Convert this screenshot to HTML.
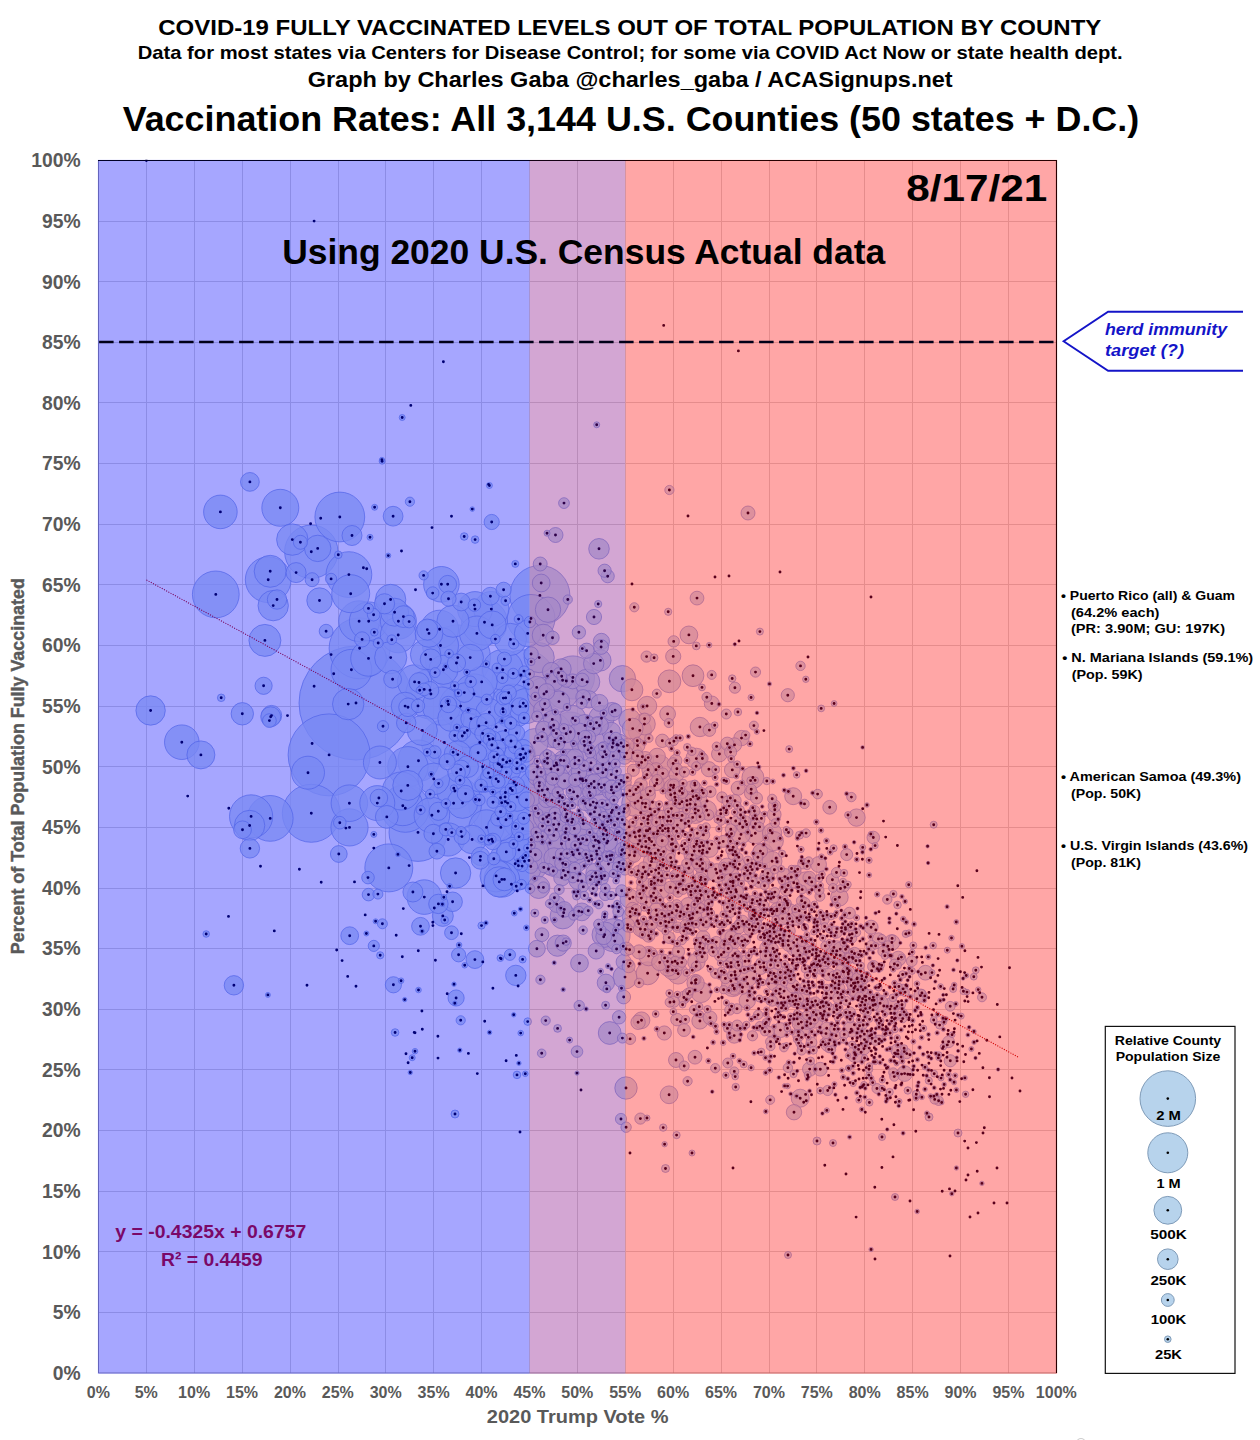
<!DOCTYPE html><html><head><meta charset="utf-8"><title>Vaccination Rates by County</title>
<style>html,body{margin:0;padding:0;background:#fff}svg{display:block}text{font-family:"Liberation Sans",sans-serif;font-weight:bold}</style></head><body>
<svg width="1260" height="1440" viewBox="0 0 1260 1440">
<rect width="1260" height="1440" fill="#fff"/>
<text x="158.3" y="34.6" font-size="22.4" text-anchor="start" fill="#000" textLength="943" lengthAdjust="spacingAndGlyphs" >COVID-19 FULLY VACCINATED LEVELS OUT OF TOTAL POPULATION BY COUNTY</text>
<text x="137.7" y="59" font-size="18.6" text-anchor="start" fill="#000" textLength="985" lengthAdjust="spacingAndGlyphs" >Data for most states via Centers for Disease Control; for some via COVID Act Now or state health dept.</text>
<text x="307.7" y="87.3" font-size="21.5" text-anchor="start" fill="#000" textLength="645" lengthAdjust="spacingAndGlyphs" >Graph by Charles Gaba @charles_gaba / ACASignups.net</text>
<text x="122.7" y="131" font-size="34.9" text-anchor="start" fill="#000" textLength="1016.5" lengthAdjust="spacingAndGlyphs" >Vaccination Rates: All 3,144 U.S. Counties (50 states + D.C.)</text>
<clipPath id="cp"><rect x="97.8" y="159.8" width="959.4" height="1213.9"/></clipPath>
<g clip-path="url(#cp)">
<path d="M146.5 160.5V1373.0M98.5 1312.5H1056.5M194.5 160.5V1373.0M98.5 1251.5H1056.5M242.5 160.5V1373.0M98.5 1191.5H1056.5M290.5 160.5V1373.0M98.5 1130.5H1056.5M338.5 160.5V1373.0M98.5 1069.5H1056.5M385.5 160.5V1373.0M98.5 1009.5H1056.5M433.5 160.5V1373.0M98.5 948.5H1056.5M481.5 160.5V1373.0M98.5 888.5H1056.5M529.5 160.5V1373.0M98.5 827.5H1056.5M577.5 160.5V1373.0M98.5 766.5H1056.5M625.5 160.5V1373.0M98.5 706.5H1056.5M673.5 160.5V1373.0M98.5 645.5H1056.5M721.5 160.5V1373.0M98.5 584.5H1056.5M769.5 160.5V1373.0M98.5 524.5H1056.5M816.5 160.5V1373.0M98.5 463.5H1056.5M864.5 160.5V1373.0M98.5 402.5H1056.5M912.5 160.5V1373.0M98.5 342.5H1056.5M960.5 160.5V1373.0M98.5 281.5H1056.5M1008.5 160.5V1373.0M98.5 221.5H1056.5" stroke="#d8d8d8" stroke-width="1" fill="none"/>
<path d="M98.5 160.5V1373.0H1056.5" stroke="#9a9a9a" stroke-width="1" fill="none"/>
<path d="M98.0 160.5H1056.5V1373.0" stroke="#000" stroke-width="1.1" fill="none"/>
<g fill="#bad1ee" fill-opacity="0.75" stroke="#7896da" stroke-opacity="0.8" stroke-width="0.85">
<circle cx="356.0" cy="703.0" r="57.0"/>
<circle cx="329.1" cy="754.9" r="41.0"/>
<circle cx="507.6" cy="803.1" r="39.1"/>
<circle cx="561.5" cy="843.8" r="34.0"/>
<circle cx="457.8" cy="657.6" r="32.7"/>
<circle cx="523.9" cy="681.9" r="32.1"/>
<circle cx="359.6" cy="648.3" r="30.5"/>
<circle cx="539.9" cy="595.4" r="30.0"/>
<circle cx="311.3" cy="813.3" r="29.0"/>
<circle cx="418.0" cy="832.4" r="29.0"/>
<circle cx="529.6" cy="815.2" r="28.0"/>
<circle cx="453.6" cy="803.2" r="28.0"/>
<circle cx="522.9" cy="857.7" r="27.1"/>
<circle cx="311.3" cy="551.7" r="26.7"/>
<circle cx="515.2" cy="863.8" r="26.6"/>
<circle cx="568.9" cy="839.5" r="26.1"/>
<circle cx="482.7" cy="766.8" r="25.5"/>
<circle cx="430.9" cy="694.0" r="25.1"/>
<circle cx="339.8" cy="517.0" r="24.9"/>
<circle cx="388.8" cy="867.9" r="24.0"/>
<circle cx="405.3" cy="808.3" r="24.0"/>
<circle cx="531.0" cy="618.5" r="24.0"/>
<circle cx="215.8" cy="594.4" r="23.4"/>
<circle cx="348.9" cy="574.6" r="22.9"/>
<circle cx="268.2" cy="579.7" r="22.9"/>
<circle cx="270.2" cy="818.4" r="22.9"/>
<circle cx="484.5" cy="622.3" r="22.9"/>
<circle cx="444.3" cy="742.5" r="22.7"/>
<circle cx="512.4" cy="706.1" r="22.0"/>
<circle cx="538.2" cy="791.0" r="21.7"/>
<circle cx="251.1" cy="816.4" r="21.6"/>
<circle cx="572.9" cy="677.5" r="21.6"/>
<circle cx="460.6" cy="706.1" r="21.5"/>
<circle cx="418.5" cy="760.7" r="20.7"/>
<circle cx="351.4" cy="669.8" r="20.4"/>
<circle cx="359.1" cy="621.2" r="20.4"/>
<circle cx="502.8" cy="669.8" r="20.3"/>
<circle cx="407.9" cy="766.8" r="20.2"/>
<circle cx="474.0" cy="694.0" r="20.1"/>
<circle cx="570.4" cy="732.0" r="20.0"/>
<circle cx="402.8" cy="805.7" r="20.0"/>
<circle cx="501.8" cy="766.8" r="19.6"/>
<circle cx="368.7" cy="621.2" r="19.3"/>
<circle cx="441.5" cy="706.1" r="19.1"/>
<circle cx="401.2" cy="791.0" r="19.0"/>
<circle cx="350.7" cy="593.7" r="19.0"/>
<circle cx="439.6" cy="629.2" r="19.0"/>
<circle cx="349.5" cy="827.4" r="18.6"/>
<circle cx="590.0" cy="742.5" r="18.5"/>
<circle cx="280.3" cy="507.8" r="18.5"/>
<circle cx="479.8" cy="742.5" r="18.4"/>
<circle cx="349.4" cy="803.2" r="18.3"/>
<circle cx="454.9" cy="791.0" r="18.0"/>
<circle cx="440.5" cy="645.5" r="18.0"/>
<circle cx="398.4" cy="621.2" r="18.0"/>
<circle cx="530.6" cy="851.6" r="18.0"/>
<circle cx="578.5" cy="839.5" r="18.0"/>
<circle cx="431.9" cy="815.2" r="17.8"/>
<circle cx="398.2" cy="635.0" r="17.8"/>
<circle cx="368.5" cy="658.4" r="17.8"/>
<circle cx="501.8" cy="879.4" r="17.8"/>
<circle cx="441.4" cy="584.3" r="17.8"/>
<circle cx="567.9" cy="766.8" r="17.6"/>
<circle cx="491.3" cy="609.1" r="17.6"/>
<circle cx="486.5" cy="827.4" r="17.6"/>
<circle cx="525.8" cy="706.1" r="17.5"/>
<circle cx="475.0" cy="609.1" r="17.5"/>
<circle cx="377.3" cy="803.1" r="17.5"/>
<circle cx="476.9" cy="633.4" r="17.4"/>
<circle cx="181.8" cy="742.2" r="17.3"/>
<circle cx="424.3" cy="897.1" r="17.3"/>
<circle cx="553.5" cy="730.4" r="17.3"/>
<circle cx="414.6" cy="681.9" r="17.1"/>
<circle cx="467.3" cy="730.4" r="17.1"/>
<circle cx="220.4" cy="511.9" r="16.8"/>
<circle cx="448.2" cy="839.5" r="16.6"/>
<circle cx="544.0" cy="694.0" r="16.6"/>
<circle cx="308.0" cy="772.7" r="16.5"/>
<circle cx="379.9" cy="762.5" r="16.5"/>
<circle cx="613.6" cy="935.2" r="16.5"/>
<circle cx="496.1" cy="875.9" r="16.1"/>
<circle cx="510.4" cy="639.4" r="16.1"/>
<circle cx="453.0" cy="621.2" r="16.1"/>
<circle cx="390.7" cy="657.6" r="16.1"/>
<circle cx="270.2" cy="571.3" r="16.0"/>
<circle cx="264.9" cy="640.4" r="16.0"/>
<circle cx="433.8" cy="778.9" r="15.9"/>
<circle cx="548.8" cy="815.2" r="15.9"/>
<circle cx="292.3" cy="539.6" r="15.7"/>
<circle cx="348.2" cy="704.1" r="15.7"/>
<circle cx="520.0" cy="754.6" r="15.6"/>
<circle cx="481.7" cy="681.9" r="15.6"/>
<circle cx="462.5" cy="803.1" r="15.3"/>
<circle cx="273.2" cy="605.6" r="15.2"/>
<circle cx="390.6" cy="599.5" r="15.2"/>
<circle cx="455.6" cy="873.0" r="15.2"/>
<circle cx="425.6" cy="654.6" r="15.2"/>
<circle cx="249.6" cy="825.5" r="15.2"/>
<circle cx="499.3" cy="881.9" r="15.2"/>
<circle cx="505.6" cy="730.4" r="15.1"/>
<circle cx="422.3" cy="730.4" r="15.1"/>
<circle cx="539.2" cy="657.6" r="15.1"/>
<circle cx="582.3" cy="778.9" r="15.1"/>
<circle cx="407.8" cy="785.4" r="15.0"/>
<circle cx="580.5" cy="843.8" r="15.0"/>
<circle cx="563.1" cy="694.0" r="14.8"/>
<circle cx="150.6" cy="710.5" r="14.7"/>
<circle cx="443.4" cy="669.8" r="14.6"/>
<circle cx="496.1" cy="778.9" r="14.5"/>
<circle cx="472.1" cy="839.5" r="14.3"/>
<circle cx="517.1" cy="797.1" r="14.2"/>
<circle cx="394.6" cy="612.2" r="14.0"/>
<circle cx="200.9" cy="754.9" r="14.0"/>
<circle cx="492.2" cy="624.9" r="14.0"/>
<circle cx="534.4" cy="742.5" r="13.9"/>
<circle cx="429.0" cy="633.4" r="13.9"/>
<circle cx="405.1" cy="706.1" r="13.9"/>
<circle cx="596.7" cy="803.1" r="13.9"/>
<circle cx="457.8" cy="754.6" r="13.7"/>
<circle cx="489.4" cy="712.2" r="13.6"/>
<circle cx="500.9" cy="827.4" r="13.5"/>
<circle cx="527.7" cy="633.4" r="13.3"/>
<circle cx="470.2" cy="657.6" r="13.3"/>
<circle cx="606.2" cy="754.6" r="13.3"/>
<circle cx="635.0" cy="803.1" r="13.3"/>
<circle cx="451.0" cy="718.2" r="13.2"/>
<circle cx="317.7" cy="548.4" r="13.2"/>
<circle cx="622.4" cy="678.7" r="13.2"/>
<circle cx="556.4" cy="778.9" r="13.1"/>
<circle cx="572.7" cy="718.2" r="13.0"/>
<circle cx="615.8" cy="839.5" r="13.0"/>
<circle cx="587.1" cy="681.9" r="12.7"/>
<circle cx="601.5" cy="718.2" r="12.7"/>
<circle cx="649.4" cy="839.5" r="12.7"/>
<circle cx="319.5" cy="600.5" r="12.7"/>
<circle cx="548.0" cy="609.7" r="12.7"/>
<circle cx="562.8" cy="916.2" r="12.7"/>
<circle cx="604.7" cy="934.7" r="12.7"/>
<circle cx="608.5" cy="864.1" r="12.7"/>
<circle cx="658.9" cy="766.8" r="12.1"/>
<circle cx="663.7" cy="851.6" r="12.1"/>
<circle cx="625.0" cy="977.1" r="12.0"/>
<circle cx="639.8" cy="730.4" r="11.7"/>
<circle cx="647.6" cy="973.3" r="11.5"/>
<circle cx="669.4" cy="681.3" r="11.4"/>
<circle cx="386.8" cy="816.9" r="11.4"/>
<circle cx="504.4" cy="879.4" r="11.4"/>
<circle cx="609.7" cy="1033.0" r="11.4"/>
<circle cx="673.3" cy="815.2" r="11.4"/>
<circle cx="522.6" cy="828.7" r="11.3"/>
<circle cx="618.2" cy="745.1" r="11.2"/>
<circle cx="626.0" cy="1088.0" r="11.2"/>
<circle cx="538.7" cy="887.3" r="11.2"/>
<circle cx="242.3" cy="713.8" r="11.2"/>
<circle cx="536.7" cy="687.4" r="11.1"/>
<circle cx="682.9" cy="875.9" r="11.1"/>
<circle cx="732.7" cy="985.5" r="11.1"/>
<circle cx="543.2" cy="635.2" r="11.0"/>
<circle cx="631.9" cy="689.8" r="11.0"/>
<circle cx="752.9" cy="777.5" r="11.0"/>
<circle cx="585.0" cy="725.5" r="11.0"/>
<circle cx="783.8" cy="997.9" r="11.0"/>
<circle cx="467.6" cy="766.6" r="10.9"/>
<circle cx="554.3" cy="765.9" r="10.9"/>
<circle cx="796.9" cy="946.2" r="10.9"/>
<circle cx="644.4" cy="724.1" r="10.9"/>
<circle cx="693.0" cy="675.7" r="10.9"/>
<circle cx="403.4" cy="616.6" r="10.9"/>
<circle cx="665.5" cy="921.5" r="10.9"/>
<circle cx="598.8" cy="784.2" r="10.8"/>
<circle cx="629.6" cy="719.8" r="10.8"/>
<circle cx="600.4" cy="660.4" r="10.7"/>
<circle cx="559.0" cy="701.6" r="10.7"/>
<circle cx="836.3" cy="954.8" r="10.7"/>
<circle cx="427.3" cy="629.6" r="10.6"/>
<circle cx="578.5" cy="733.5" r="10.6"/>
<circle cx="788.8" cy="914.2" r="10.6"/>
<circle cx="557.5" cy="945.7" r="10.6"/>
<circle cx="762.9" cy="853.8" r="10.6"/>
<circle cx="430.7" cy="659.4" r="10.5"/>
<circle cx="755.3" cy="833.3" r="10.5"/>
<circle cx="442.8" cy="915.9" r="10.5"/>
<circle cx="695.3" cy="813.1" r="10.4"/>
<circle cx="632.7" cy="728.6" r="10.4"/>
<circle cx="696.3" cy="758.6" r="10.4"/>
<circle cx="692.5" cy="791.0" r="10.3"/>
<circle cx="599.0" cy="548.8" r="10.3"/>
<circle cx="678.1" cy="973.8" r="10.3"/>
<circle cx="746.8" cy="977.1" r="10.3"/>
<circle cx="857.7" cy="989.8" r="10.2"/>
<circle cx="836.8" cy="950.9" r="10.2"/>
<circle cx="271.5" cy="715.6" r="10.2"/>
<circle cx="515.8" cy="975.4" r="10.2"/>
<circle cx="701.2" cy="992.4" r="10.2"/>
<circle cx="471.0" cy="718.7" r="10.2"/>
<circle cx="593.7" cy="663.6" r="10.2"/>
<circle cx="384.5" cy="603.8" r="10.1"/>
<circle cx="701.2" cy="895.2" r="10.1"/>
<circle cx="561.1" cy="668.9" r="10.1"/>
<circle cx="352.0" cy="535.5" r="10.0"/>
<circle cx="296.1" cy="572.6" r="10.0"/>
<circle cx="270.7" cy="716.8" r="10.0"/>
<circle cx="412.9" cy="892.0" r="10.0"/>
<circle cx="553.9" cy="857.8" r="10.0"/>
<circle cx="611.4" cy="812.5" r="9.9"/>
<circle cx="772.1" cy="861.3" r="9.9"/>
<circle cx="419.0" cy="682.5" r="9.9"/>
<circle cx="393.1" cy="516.2" r="9.9"/>
<circle cx="595.6" cy="873.0" r="9.8"/>
<circle cx="706.7" cy="810.3" r="9.8"/>
<circle cx="611.4" cy="789.9" r="9.8"/>
<circle cx="706.2" cy="870.9" r="9.8"/>
<circle cx="464.3" cy="692.6" r="9.8"/>
<circle cx="697.1" cy="912.3" r="9.8"/>
<circle cx="729.7" cy="939.3" r="9.8"/>
<circle cx="452.6" cy="901.8" r="9.8"/>
<circle cx="641.8" cy="846.6" r="9.8"/>
<circle cx="647.1" cy="706.0" r="9.7"/>
<circle cx="772.1" cy="833.0" r="9.7"/>
<circle cx="800.1" cy="998.9" r="9.7"/>
<circle cx="670.7" cy="785.2" r="9.7"/>
<circle cx="646.4" cy="888.0" r="9.7"/>
<circle cx="645.0" cy="929.5" r="9.7"/>
<circle cx="277.0" cy="599.5" r="9.7"/>
<circle cx="699.9" cy="727.0" r="9.7"/>
<circle cx="249.9" cy="848.4" r="9.7"/>
<circle cx="233.9" cy="985.3" r="9.7"/>
<circle cx="648.6" cy="956.1" r="9.7"/>
<circle cx="406.2" cy="722.9" r="9.7"/>
<circle cx="692.4" cy="918.1" r="9.7"/>
<circle cx="438.4" cy="903.9" r="9.7"/>
<circle cx="478.9" cy="726.0" r="9.7"/>
<circle cx="607.8" cy="841.3" r="9.7"/>
<circle cx="490.1" cy="777.4" r="9.6"/>
<circle cx="586.0" cy="780.5" r="9.6"/>
<circle cx="629.7" cy="898.7" r="9.6"/>
<circle cx="522.9" cy="748.9" r="9.6"/>
<circle cx="506.3" cy="851.9" r="9.6"/>
<circle cx="773.8" cy="841.1" r="9.6"/>
<circle cx="741.0" cy="834.4" r="9.6"/>
<circle cx="672.5" cy="970.2" r="9.5"/>
<circle cx="619.0" cy="751.2" r="9.5"/>
<circle cx="649.7" cy="828.7" r="9.5"/>
<circle cx="638.2" cy="844.1" r="9.5"/>
<circle cx="433.4" cy="833.8" r="9.5"/>
<circle cx="460.8" cy="769.5" r="9.4"/>
<circle cx="486.1" cy="722.8" r="9.4"/>
<circle cx="249.9" cy="481.9" r="9.4"/>
<circle cx="668.2" cy="966.8" r="9.4"/>
<circle cx="673.3" cy="787.6" r="9.4"/>
<circle cx="716.8" cy="873.0" r="9.4"/>
<circle cx="805.5" cy="881.1" r="9.3"/>
<circle cx="633.1" cy="752.7" r="9.3"/>
<circle cx="611.2" cy="731.6" r="9.3"/>
<circle cx="612.1" cy="711.7" r="9.3"/>
<circle cx="408.0" cy="707.3" r="9.3"/>
<circle cx="629.5" cy="855.1" r="9.2"/>
<circle cx="556.9" cy="764.8" r="9.2"/>
<circle cx="686.8" cy="800.6" r="9.2"/>
<circle cx="480.5" cy="856.4" r="9.2"/>
<circle cx="645.9" cy="846.9" r="9.1"/>
<circle cx="438.3" cy="811.3" r="9.1"/>
<circle cx="577.5" cy="796.2" r="9.1"/>
<circle cx="542.7" cy="709.6" r="9.1"/>
<circle cx="456.5" cy="663.0" r="9.1"/>
<circle cx="591.2" cy="783.8" r="9.1"/>
<circle cx="551.4" cy="671.4" r="9.0"/>
<circle cx="566.2" cy="733.7" r="9.0"/>
<circle cx="578.0" cy="880.6" r="9.0"/>
<circle cx="650.2" cy="808.9" r="9.0"/>
<circle cx="599.4" cy="725.5" r="9.0"/>
<circle cx="800.2" cy="1098.2" r="9.0"/>
<circle cx="697.9" cy="798.8" r="8.9"/>
<circle cx="681.2" cy="820.4" r="8.9"/>
<circle cx="688.9" cy="634.9" r="8.9"/>
<circle cx="537.0" cy="776.9" r="8.9"/>
<circle cx="554.5" cy="681.4" r="8.9"/>
<circle cx="392.6" cy="679.2" r="8.9"/>
<circle cx="541.2" cy="583.0" r="8.9"/>
<circle cx="447.7" cy="584.3" r="8.9"/>
<circle cx="490.4" cy="596.2" r="8.9"/>
<circle cx="461.2" cy="602.0" r="8.9"/>
<circle cx="242.5" cy="829.8" r="8.9"/>
<circle cx="349.7" cy="935.7" r="8.9"/>
<circle cx="480.2" cy="860.3" r="8.9"/>
<circle cx="420.5" cy="926.3" r="8.9"/>
<circle cx="474.9" cy="959.6" r="8.9"/>
<circle cx="581.8" cy="911.9" r="8.9"/>
<circle cx="579.5" cy="963.2" r="8.9"/>
<circle cx="552.3" cy="719.4" r="8.9"/>
<circle cx="669.1" cy="1094.8" r="8.9"/>
<circle cx="502.8" cy="739.7" r="8.9"/>
<circle cx="563.4" cy="870.4" r="8.8"/>
<circle cx="456.6" cy="772.8" r="8.8"/>
<circle cx="839.4" cy="897.3" r="8.8"/>
<circle cx="775.0" cy="982.0" r="8.8"/>
<circle cx="430.0" cy="690.3" r="8.8"/>
<circle cx="378.9" cy="798.0" r="8.8"/>
<circle cx="520.0" cy="706.6" r="8.8"/>
<circle cx="605.9" cy="982.8" r="8.7"/>
<circle cx="695.6" cy="983.1" r="8.7"/>
<circle cx="856.5" cy="817.6" r="8.7"/>
<circle cx="525.6" cy="753.6" r="8.7"/>
<circle cx="709.5" cy="848.7" r="8.7"/>
<circle cx="696.4" cy="961.9" r="8.7"/>
<circle cx="478.1" cy="752.8" r="8.7"/>
<circle cx="589.1" cy="699.4" r="8.6"/>
<circle cx="574.9" cy="757.5" r="8.6"/>
<circle cx="263.6" cy="685.8" r="8.6"/>
<circle cx="599.5" cy="702.9" r="8.5"/>
<circle cx="614.8" cy="941.1" r="8.5"/>
<circle cx="645.2" cy="760.0" r="8.5"/>
<circle cx="502.9" cy="708.8" r="8.5"/>
<circle cx="617.0" cy="744.8" r="8.5"/>
<circle cx="649.0" cy="848.2" r="8.5"/>
<circle cx="793.2" cy="796.2" r="8.5"/>
<circle cx="661.0" cy="890.4" r="8.4"/>
<circle cx="465.6" cy="793.7" r="8.4"/>
<circle cx="730.5" cy="875.0" r="8.4"/>
<circle cx="855.0" cy="983.0" r="8.4"/>
<circle cx="338.8" cy="854.0" r="8.4"/>
<circle cx="536.9" cy="948.7" r="8.4"/>
<circle cx="641.5" cy="1020.3" r="8.4"/>
<circle cx="891.1" cy="1006.3" r="8.4"/>
<circle cx="613.5" cy="792.9" r="8.4"/>
<circle cx="498.0" cy="763.7" r="8.4"/>
<circle cx="533.8" cy="772.1" r="8.4"/>
<circle cx="567.5" cy="820.8" r="8.3"/>
<circle cx="657.1" cy="756.5" r="8.3"/>
<circle cx="556.7" cy="904.2" r="8.3"/>
<circle cx="516.2" cy="785.1" r="8.3"/>
<circle cx="599.8" cy="827.9" r="8.3"/>
<circle cx="492.7" cy="841.5" r="8.3"/>
<circle cx="880.1" cy="1003.3" r="8.3"/>
<circle cx="641.2" cy="797.8" r="8.3"/>
<circle cx="802.5" cy="1028.0" r="8.3"/>
<circle cx="651.5" cy="861.5" r="8.2"/>
<circle cx="726.9" cy="866.3" r="8.2"/>
<circle cx="638.0" cy="801.1" r="8.2"/>
<circle cx="828.7" cy="1043.6" r="8.2"/>
<circle cx="820.3" cy="966.0" r="8.2"/>
<circle cx="855.2" cy="1054.3" r="8.2"/>
<circle cx="448.4" cy="704.5" r="8.2"/>
<circle cx="747.3" cy="1000.6" r="8.2"/>
<circle cx="756.8" cy="819.0" r="8.2"/>
<circle cx="692.2" cy="855.1" r="8.2"/>
<circle cx="562.8" cy="863.2" r="8.1"/>
<circle cx="543.6" cy="729.2" r="8.1"/>
<circle cx="546.5" cy="691.7" r="8.1"/>
<circle cx="699.9" cy="1021.0" r="8.1"/>
<circle cx="516.6" cy="733.0" r="8.1"/>
<circle cx="642.4" cy="803.3" r="8.1"/>
<circle cx="547.5" cy="758.2" r="8.1"/>
<circle cx="617.5" cy="819.0" r="8.1"/>
<circle cx="671.4" cy="808.6" r="8.1"/>
<circle cx="561.8" cy="877.8" r="8.1"/>
<circle cx="601.4" cy="641.4" r="8.1"/>
<circle cx="393.4" cy="984.8" r="8.1"/>
<circle cx="456.1" cy="998.0" r="8.1"/>
<circle cx="659.7" cy="962.5" r="8.1"/>
<circle cx="752.3" cy="926.3" r="8.1"/>
<circle cx="784.9" cy="876.6" r="8.1"/>
<circle cx="563.2" cy="943.1" r="8.1"/>
<circle cx="596.2" cy="951.0" r="8.1"/>
<circle cx="814.8" cy="1020.1" r="8.1"/>
<circle cx="730.4" cy="881.6" r="8.0"/>
<circle cx="630.2" cy="916.5" r="8.0"/>
<circle cx="732.8" cy="955.6" r="8.0"/>
<circle cx="770.4" cy="955.3" r="8.0"/>
<circle cx="447.2" cy="761.7" r="8.0"/>
<circle cx="658.3" cy="850.2" r="8.0"/>
<circle cx="594.4" cy="787.6" r="8.0"/>
<circle cx="564.6" cy="780.9" r="8.0"/>
<circle cx="482.7" cy="733.4" r="8.0"/>
<circle cx="672.2" cy="962.3" r="8.0"/>
<circle cx="526.5" cy="799.9" r="8.0"/>
<circle cx="461.9" cy="836.6" r="7.9"/>
<circle cx="603.7" cy="936.7" r="7.9"/>
<circle cx="598.2" cy="841.3" r="7.9"/>
<circle cx="556.3" cy="829.4" r="7.9"/>
<circle cx="492.9" cy="738.8" r="7.9"/>
<circle cx="436.9" cy="851.2" r="7.9"/>
<circle cx="719.4" cy="754.0" r="7.9"/>
<circle cx="818.6" cy="864.5" r="7.9"/>
<circle cx="732.3" cy="769.9" r="7.9"/>
<circle cx="667.6" cy="713.9" r="7.9"/>
<circle cx="851.2" cy="1029.2" r="7.9"/>
<circle cx="891.9" cy="942.5" r="7.9"/>
<circle cx="547.5" cy="789.2" r="7.9"/>
<circle cx="694.2" cy="851.1" r="7.8"/>
<circle cx="796.0" cy="1000.1" r="7.8"/>
<circle cx="688.0" cy="905.3" r="7.8"/>
<circle cx="579.0" cy="772.4" r="7.8"/>
<circle cx="904.6" cy="1073.6" r="7.8"/>
<circle cx="843.0" cy="971.2" r="7.8"/>
<circle cx="564.3" cy="909.4" r="7.8"/>
<circle cx="794.0" cy="1112.2" r="7.7"/>
<circle cx="654.3" cy="845.1" r="7.7"/>
<circle cx="546.4" cy="799.9" r="7.7"/>
<circle cx="741.5" cy="738.1" r="7.7"/>
<circle cx="498.0" cy="747.9" r="7.7"/>
<circle cx="677.5" cy="963.5" r="7.7"/>
<circle cx="488.2" cy="736.1" r="7.7"/>
<circle cx="700.4" cy="880.1" r="7.7"/>
<circle cx="508.7" cy="692.8" r="7.7"/>
<circle cx="647.8" cy="794.6" r="7.7"/>
<circle cx="573.7" cy="791.9" r="7.7"/>
<circle cx="593.7" cy="728.7" r="7.6"/>
<circle cx="677.4" cy="825.1" r="7.6"/>
<circle cx="676.5" cy="774.3" r="7.6"/>
<circle cx="708.9" cy="769.2" r="7.6"/>
<circle cx="599.6" cy="814.9" r="7.6"/>
<circle cx="362.1" cy="639.4" r="7.6"/>
<circle cx="491.7" cy="522.0" r="7.6"/>
<circle cx="594.0" cy="617.0" r="7.6"/>
<circle cx="503.6" cy="589.8" r="7.6"/>
<circle cx="448.5" cy="598.7" r="7.6"/>
<circle cx="673.2" cy="656.4" r="7.6"/>
<circle cx="623.7" cy="961.9" r="7.6"/>
<circle cx="734.2" cy="1035.6" r="7.6"/>
<circle cx="735.8" cy="889.7" r="7.6"/>
<circle cx="586.6" cy="650.7" r="7.6"/>
<circle cx="555.5" cy="535.0" r="7.5"/>
<circle cx="572.6" cy="681.4" r="7.5"/>
<circle cx="594.1" cy="781.4" r="7.5"/>
<circle cx="711.8" cy="703.5" r="7.5"/>
<circle cx="702.5" cy="863.4" r="7.5"/>
<circle cx="640.4" cy="929.0" r="7.5"/>
<circle cx="568.2" cy="872.1" r="7.5"/>
<circle cx="780.4" cy="1030.1" r="7.5"/>
<circle cx="898.3" cy="958.7" r="7.5"/>
<circle cx="676.0" cy="1060.0" r="7.5"/>
<circle cx="596.5" cy="851.1" r="7.5"/>
<circle cx="601.1" cy="647.0" r="7.4"/>
<circle cx="925.4" cy="972.7" r="7.4"/>
<circle cx="622.5" cy="849.6" r="7.4"/>
<circle cx="583.2" cy="697.0" r="7.4"/>
<circle cx="656.7" cy="783.2" r="7.4"/>
<circle cx="807.0" cy="1022.0" r="7.4"/>
<circle cx="604.4" cy="784.9" r="7.4"/>
<circle cx="605.9" cy="769.8" r="7.4"/>
<circle cx="739.7" cy="901.8" r="7.4"/>
<circle cx="797.0" cy="918.0" r="7.4"/>
<circle cx="624.5" cy="756.9" r="7.4"/>
<circle cx="657.9" cy="830.9" r="7.4"/>
<circle cx="674.7" cy="793.2" r="7.4"/>
<circle cx="623.9" cy="782.3" r="7.4"/>
<circle cx="633.5" cy="794.6" r="7.4"/>
<circle cx="760.4" cy="967.3" r="7.3"/>
<circle cx="767.1" cy="877.0" r="7.3"/>
<circle cx="637.6" cy="745.6" r="7.3"/>
<circle cx="851.1" cy="979.6" r="7.3"/>
<circle cx="676.8" cy="876.4" r="7.3"/>
<circle cx="498.0" cy="818.8" r="7.3"/>
<circle cx="573.3" cy="854.7" r="7.3"/>
<circle cx="865.8" cy="996.4" r="7.3"/>
<circle cx="585.3" cy="803.4" r="7.2"/>
<circle cx="638.1" cy="1022.3" r="7.2"/>
<circle cx="531.1" cy="654.0" r="7.2"/>
<circle cx="551.0" cy="768.9" r="7.2"/>
<circle cx="760.4" cy="851.1" r="7.2"/>
<circle cx="721.3" cy="954.7" r="7.2"/>
<circle cx="555.0" cy="740.5" r="7.2"/>
<circle cx="799.2" cy="910.7" r="7.2"/>
<circle cx="656.1" cy="910.2" r="7.2"/>
<circle cx="681.9" cy="801.7" r="7.2"/>
<circle cx="809.7" cy="1069.1" r="7.2"/>
<circle cx="458.6" cy="954.8" r="7.1"/>
<circle cx="664.3" cy="1033.0" r="7.1"/>
<circle cx="736.4" cy="891.7" r="7.1"/>
<circle cx="639.1" cy="951.9" r="7.1"/>
<circle cx="738.2" cy="788.2" r="7.1"/>
<circle cx="663.1" cy="817.3" r="7.1"/>
<circle cx="734.5" cy="744.9" r="7.1"/>
<circle cx="675.8" cy="888.0" r="7.0"/>
<circle cx="609.4" cy="763.6" r="7.0"/>
<circle cx="656.0" cy="769.7" r="7.0"/>
<circle cx="558.8" cy="824.2" r="7.0"/>
<circle cx="588.7" cy="737.2" r="7.0"/>
<circle cx="300.4" cy="542.3" r="7.0"/>
<circle cx="312.1" cy="579.7" r="7.0"/>
<circle cx="748.0" cy="513.0" r="7.0"/>
<circle cx="742.5" cy="987.3" r="7.0"/>
<circle cx="504.4" cy="659.1" r="7.0"/>
<circle cx="840.2" cy="949.1" r="7.0"/>
<circle cx="613.3" cy="755.9" r="7.0"/>
<circle cx="540.2" cy="564.0" r="7.0"/>
<circle cx="871.1" cy="927.2" r="7.0"/>
<circle cx="503.3" cy="698.1" r="6.9"/>
<circle cx="697.0" cy="598.1" r="6.9"/>
<circle cx="530.8" cy="866.5" r="6.9"/>
<circle cx="626.2" cy="949.0" r="6.9"/>
<circle cx="848.1" cy="972.6" r="6.9"/>
<circle cx="326.1" cy="631.2" r="6.9"/>
<circle cx="269.4" cy="720.6" r="6.9"/>
<circle cx="451.5" cy="932.7" r="6.9"/>
<circle cx="541.9" cy="934.7" r="6.9"/>
<circle cx="623.7" cy="997.0" r="6.9"/>
<circle cx="710.0" cy="1017.8" r="6.9"/>
<circle cx="829.7" cy="807.3" r="6.9"/>
<circle cx="497.2" cy="754.6" r="6.9"/>
<circle cx="635.4" cy="836.9" r="6.9"/>
<circle cx="551.9" cy="800.1" r="6.9"/>
<circle cx="589.4" cy="792.2" r="6.9"/>
<circle cx="820.3" cy="1069.2" r="6.9"/>
<circle cx="897.8" cy="1050.4" r="6.9"/>
<circle cx="774.2" cy="814.5" r="6.9"/>
<circle cx="695.0" cy="1057.2" r="6.9"/>
<circle cx="798.0" cy="950.7" r="6.9"/>
<circle cx="611.5" cy="786.9" r="6.8"/>
<circle cx="612.4" cy="810.3" r="6.8"/>
<circle cx="627.7" cy="924.7" r="6.8"/>
<circle cx="627.3" cy="745.4" r="6.8"/>
<circle cx="703.2" cy="937.3" r="6.8"/>
<circle cx="584.6" cy="745.5" r="6.8"/>
<circle cx="498.3" cy="781.5" r="6.8"/>
<circle cx="797.1" cy="1018.9" r="6.8"/>
<circle cx="662.3" cy="740.8" r="6.7"/>
<circle cx="578.9" cy="632.3" r="6.7"/>
<circle cx="793.1" cy="986.3" r="6.7"/>
<circle cx="585.2" cy="737.1" r="6.7"/>
<circle cx="641.4" cy="824.1" r="6.7"/>
<circle cx="418.0" cy="705.9" r="6.7"/>
<circle cx="594.4" cy="811.9" r="6.7"/>
<circle cx="515.2" cy="747.0" r="6.7"/>
<circle cx="615.1" cy="710.2" r="6.7"/>
<circle cx="506.0" cy="819.8" r="6.7"/>
<circle cx="751.1" cy="793.3" r="6.7"/>
<circle cx="552.5" cy="637.8" r="6.7"/>
<circle cx="845.9" cy="959.6" r="6.7"/>
<circle cx="766.5" cy="947.9" r="6.7"/>
<circle cx="582.2" cy="679.8" r="6.7"/>
<circle cx="727.3" cy="743.8" r="6.7"/>
<circle cx="619.1" cy="1017.3" r="6.7"/>
<circle cx="602.8" cy="764.7" r="6.7"/>
<circle cx="575.3" cy="779.9" r="6.6"/>
<circle cx="738.8" cy="927.3" r="6.6"/>
<circle cx="602.8" cy="756.9" r="6.6"/>
<circle cx="557.8" cy="769.7" r="6.6"/>
<circle cx="607.7" cy="576.2" r="6.6"/>
<circle cx="607.0" cy="834.9" r="6.6"/>
<circle cx="604.6" cy="570.7" r="6.6"/>
<circle cx="920.4" cy="995.6" r="6.6"/>
<circle cx="671.3" cy="844.4" r="6.6"/>
<circle cx="626.6" cy="753.1" r="6.6"/>
<circle cx="603.2" cy="834.3" r="6.6"/>
<circle cx="831.4" cy="992.1" r="6.6"/>
<circle cx="755.2" cy="913.0" r="6.6"/>
<circle cx="657.0" cy="915.0" r="6.6"/>
<circle cx="787.8" cy="695.2" r="6.6"/>
<circle cx="623.8" cy="811.7" r="6.5"/>
<circle cx="776.8" cy="909.2" r="6.5"/>
<circle cx="634.4" cy="855.7" r="6.5"/>
<circle cx="535.4" cy="854.8" r="6.5"/>
<circle cx="499.6" cy="764.6" r="6.5"/>
<circle cx="628.6" cy="966.2" r="6.5"/>
<circle cx="552.6" cy="778.7" r="6.5"/>
<circle cx="574.3" cy="828.5" r="6.5"/>
<circle cx="809.4" cy="877.8" r="6.5"/>
<circle cx="445.8" cy="829.4" r="6.5"/>
<circle cx="601.8" cy="878.6" r="6.5"/>
<circle cx="592.1" cy="876.6" r="6.4"/>
<circle cx="572.6" cy="819.2" r="6.4"/>
<circle cx="782.6" cy="918.6" r="6.4"/>
<circle cx="599.2" cy="842.4" r="6.4"/>
<circle cx="680.7" cy="912.0" r="6.4"/>
<circle cx="434.7" cy="752.1" r="6.4"/>
<circle cx="696.4" cy="844.3" r="6.4"/>
<circle cx="524.5" cy="861.3" r="6.4"/>
<circle cx="684.0" cy="1030.1" r="6.4"/>
<circle cx="699.9" cy="865.9" r="6.4"/>
<circle cx="703.4" cy="834.9" r="6.4"/>
<circle cx="747.5" cy="870.6" r="6.4"/>
<circle cx="640.9" cy="784.2" r="6.4"/>
<circle cx="648.6" cy="935.8" r="6.4"/>
<circle cx="424.2" cy="689.4" r="6.4"/>
<circle cx="703.2" cy="924.8" r="6.4"/>
<circle cx="709.4" cy="730.1" r="6.3"/>
<circle cx="702.9" cy="948.4" r="6.3"/>
<circle cx="776.4" cy="936.4" r="6.3"/>
<circle cx="596.5" cy="876.9" r="6.3"/>
<circle cx="566.3" cy="681.0" r="6.3"/>
<circle cx="500.5" cy="797.7" r="6.3"/>
<circle cx="873.3" cy="837.5" r="6.3"/>
<circle cx="801.3" cy="1022.1" r="6.3"/>
<circle cx="774.4" cy="806.0" r="6.3"/>
<circle cx="373.6" cy="614.7" r="6.3"/>
<circle cx="409.1" cy="621.6" r="6.3"/>
<circle cx="432.7" cy="593.1" r="6.3"/>
<circle cx="474.4" cy="605.1" r="6.3"/>
<circle cx="339.8" cy="822.7" r="6.3"/>
<circle cx="368.0" cy="877.6" r="6.3"/>
<circle cx="368.5" cy="894.6" r="6.3"/>
<circle cx="678.3" cy="951.7" r="6.3"/>
<circle cx="683.9" cy="997.5" r="6.3"/>
<circle cx="677.0" cy="1019.6" r="6.3"/>
<circle cx="632.4" cy="908.6" r="6.3"/>
<circle cx="511.0" cy="741.0" r="6.3"/>
<circle cx="828.7" cy="974.3" r="6.3"/>
<circle cx="648.1" cy="769.8" r="6.3"/>
<circle cx="493.8" cy="858.7" r="6.2"/>
<circle cx="489.3" cy="739.4" r="6.2"/>
<circle cx="735.0" cy="800.7" r="6.2"/>
<circle cx="798.4" cy="1023.9" r="6.2"/>
<circle cx="481.1" cy="785.3" r="6.2"/>
<circle cx="854.5" cy="953.5" r="6.2"/>
<circle cx="623.5" cy="746.6" r="6.2"/>
<circle cx="505.7" cy="697.9" r="6.2"/>
<circle cx="662.2" cy="840.8" r="6.2"/>
<circle cx="832.4" cy="879.8" r="6.2"/>
<circle cx="668.3" cy="831.1" r="6.2"/>
<circle cx="539.4" cy="782.8" r="6.2"/>
<circle cx="675.7" cy="760.6" r="6.2"/>
<circle cx="826.7" cy="1028.3" r="6.2"/>
<circle cx="464.4" cy="732.7" r="6.1"/>
<circle cx="670.3" cy="887.3" r="6.1"/>
<circle cx="555.0" cy="813.3" r="6.1"/>
<circle cx="864.0" cy="1048.7" r="6.1"/>
<circle cx="731.1" cy="936.7" r="6.1"/>
<circle cx="786.5" cy="889.8" r="6.1"/>
<circle cx="878.5" cy="938.9" r="6.1"/>
<circle cx="795.0" cy="871.4" r="6.1"/>
<circle cx="641.6" cy="762.4" r="6.1"/>
<circle cx="673.7" cy="785.2" r="6.1"/>
<circle cx="510.7" cy="723.2" r="6.1"/>
<circle cx="950.3" cy="1060.8" r="6.1"/>
<circle cx="730.6" cy="752.1" r="6.1"/>
<circle cx="788.4" cy="945.2" r="6.1"/>
<circle cx="493.0" cy="802.2" r="6.1"/>
<circle cx="734.9" cy="971.7" r="6.1"/>
<circle cx="788.1" cy="970.0" r="6.1"/>
<circle cx="838.9" cy="988.5" r="6.1"/>
<circle cx="633.3" cy="770.3" r="6.1"/>
<circle cx="756.5" cy="798.1" r="6.0"/>
<circle cx="730.0" cy="911.5" r="6.0"/>
<circle cx="789.3" cy="930.9" r="6.0"/>
<circle cx="739.4" cy="864.2" r="6.0"/>
<circle cx="575.0" cy="868.3" r="6.0"/>
<circle cx="836.3" cy="932.2" r="6.0"/>
<circle cx="734.3" cy="989.1" r="6.0"/>
<circle cx="523.7" cy="818.3" r="6.0"/>
<circle cx="723.2" cy="841.4" r="6.0"/>
<circle cx="564.4" cy="803.7" r="6.0"/>
<circle cx="579.4" cy="853.8" r="6.0"/>
<circle cx="745.1" cy="961.3" r="6.0"/>
<circle cx="621.7" cy="890.7" r="6.0"/>
<circle cx="846.7" cy="854.6" r="6.0"/>
<circle cx="662.4" cy="825.5" r="6.0"/>
<circle cx="849.5" cy="913.1" r="5.9"/>
<circle cx="739.7" cy="823.8" r="5.9"/>
<circle cx="742.5" cy="921.1" r="5.9"/>
<circle cx="595.7" cy="823.1" r="5.9"/>
<circle cx="738.5" cy="879.4" r="5.9"/>
<circle cx="554.8" cy="818.2" r="5.9"/>
<circle cx="604.7" cy="751.7" r="5.9"/>
<circle cx="637.5" cy="755.9" r="5.9"/>
<circle cx="873.5" cy="966.4" r="5.9"/>
<circle cx="798.6" cy="1035.4" r="5.9"/>
<circle cx="626.1" cy="833.3" r="5.9"/>
<circle cx="621.2" cy="780.5" r="5.9"/>
<circle cx="948.6" cy="1041.8" r="5.9"/>
<circle cx="494.0" cy="757.0" r="5.9"/>
<circle cx="646.2" cy="902.3" r="5.9"/>
<circle cx="669.2" cy="937.6" r="5.9"/>
<circle cx="520.6" cy="754.5" r="5.9"/>
<circle cx="742.7" cy="827.3" r="5.8"/>
<circle cx="591.0" cy="762.9" r="5.8"/>
<circle cx="577.0" cy="1051.6" r="5.8"/>
<circle cx="873.1" cy="1005.2" r="5.8"/>
<circle cx="829.3" cy="1009.2" r="5.8"/>
<circle cx="624.7" cy="853.1" r="5.8"/>
<circle cx="629.8" cy="790.7" r="5.8"/>
<circle cx="619.0" cy="862.4" r="5.8"/>
<circle cx="479.3" cy="800.0" r="5.8"/>
<circle cx="673.1" cy="763.5" r="5.8"/>
<circle cx="700.2" cy="943.3" r="5.8"/>
<circle cx="558.8" cy="744.1" r="5.8"/>
<circle cx="773.6" cy="897.3" r="5.8"/>
<circle cx="561.1" cy="854.0" r="5.8"/>
<circle cx="655.9" cy="897.7" r="5.8"/>
<circle cx="605.2" cy="894.8" r="5.8"/>
<circle cx="661.6" cy="875.9" r="5.8"/>
<circle cx="553.8" cy="835.4" r="5.8"/>
<circle cx="702.1" cy="956.7" r="5.8"/>
<circle cx="673.7" cy="641.4" r="5.7"/>
<circle cx="693.1" cy="796.6" r="5.7"/>
<circle cx="596.5" cy="722.6" r="5.7"/>
<circle cx="716.3" cy="942.1" r="5.7"/>
<circle cx="470.7" cy="681.7" r="5.7"/>
<circle cx="529.9" cy="622.0" r="5.7"/>
<circle cx="838.3" cy="998.1" r="5.7"/>
<circle cx="872.2" cy="1000.3" r="5.7"/>
<circle cx="780.4" cy="938.4" r="5.7"/>
<circle cx="542.2" cy="790.3" r="5.7"/>
<circle cx="695.4" cy="804.6" r="5.7"/>
<circle cx="547.5" cy="763.3" r="5.7"/>
<circle cx="544.4" cy="795.1" r="5.7"/>
<circle cx="749.4" cy="929.6" r="5.7"/>
<circle cx="687.9" cy="928.6" r="5.7"/>
<circle cx="645.3" cy="871.8" r="5.7"/>
<circle cx="524.1" cy="718.0" r="5.7"/>
<circle cx="586.8" cy="839.9" r="5.7"/>
<circle cx="500.6" cy="811.8" r="5.7"/>
<circle cx="609.3" cy="738.0" r="5.7"/>
<circle cx="710.4" cy="791.7" r="5.7"/>
<circle cx="644.6" cy="718.8" r="5.7"/>
<circle cx="869.4" cy="998.5" r="5.7"/>
<circle cx="565.8" cy="817.0" r="5.7"/>
<circle cx="658.1" cy="880.2" r="5.7"/>
<circle cx="557.8" cy="792.5" r="5.7"/>
<circle cx="804.5" cy="948.3" r="5.7"/>
<circle cx="615.8" cy="738.0" r="5.7"/>
<circle cx="702.4" cy="758.5" r="5.7"/>
<circle cx="599.1" cy="848.1" r="5.7"/>
<circle cx="673.9" cy="1001.7" r="5.6"/>
<circle cx="581.6" cy="703.2" r="5.6"/>
<circle cx="636.1" cy="909.8" r="5.6"/>
<circle cx="730.8" cy="829.3" r="5.6"/>
<circle cx="593.6" cy="846.2" r="5.6"/>
<circle cx="734.9" cy="687.7" r="5.6"/>
<circle cx="383.0" cy="726.2" r="5.6"/>
<circle cx="640.4" cy="1118.6" r="5.6"/>
<circle cx="543.4" cy="887.5" r="5.6"/>
<circle cx="553.7" cy="824.6" r="5.6"/>
<circle cx="662.8" cy="773.5" r="5.6"/>
<circle cx="560.6" cy="760.3" r="5.6"/>
<circle cx="641.3" cy="898.1" r="5.6"/>
<circle cx="604.2" cy="828.0" r="5.6"/>
<circle cx="823.7" cy="919.4" r="5.6"/>
<circle cx="745.4" cy="821.3" r="5.6"/>
<circle cx="506.4" cy="772.2" r="5.6"/>
<circle cx="331.1" cy="578.9" r="5.6"/>
<circle cx="646.6" cy="656.6" r="5.6"/>
<circle cx="373.8" cy="945.9" r="5.6"/>
<circle cx="509.9" cy="954.8" r="5.6"/>
<circle cx="630.1" cy="1038.9" r="5.6"/>
<circle cx="454.7" cy="735.5" r="5.6"/>
<circle cx="744.8" cy="939.9" r="5.6"/>
<circle cx="621.0" cy="1119.0" r="5.6"/>
<circle cx="773.9" cy="973.5" r="5.6"/>
<circle cx="488.4" cy="772.9" r="5.6"/>
<circle cx="754.4" cy="811.0" r="5.6"/>
<circle cx="502.4" cy="677.9" r="5.6"/>
<circle cx="765.6" cy="955.9" r="5.6"/>
<circle cx="849.9" cy="1012.5" r="5.6"/>
<circle cx="565.2" cy="809.8" r="5.5"/>
<circle cx="670.7" cy="794.7" r="5.5"/>
<circle cx="522.1" cy="866.1" r="5.5"/>
<circle cx="548.5" cy="869.0" r="5.5"/>
<circle cx="676.7" cy="905.1" r="5.5"/>
<circle cx="822.6" cy="1015.7" r="5.5"/>
<circle cx="807.4" cy="1004.5" r="5.5"/>
<circle cx="691.1" cy="859.1" r="5.5"/>
<circle cx="887.8" cy="946.3" r="5.5"/>
<circle cx="737.2" cy="1025.5" r="5.5"/>
<circle cx="642.6" cy="874.1" r="5.5"/>
<circle cx="731.0" cy="962.7" r="5.5"/>
<circle cx="638.3" cy="871.0" r="5.5"/>
<circle cx="618.3" cy="911.5" r="5.5"/>
<circle cx="676.9" cy="768.8" r="5.5"/>
<circle cx="563.9" cy="760.6" r="5.5"/>
<circle cx="733.1" cy="854.8" r="5.4"/>
<circle cx="708.5" cy="815.0" r="5.4"/>
<circle cx="643.5" cy="867.3" r="5.4"/>
<circle cx="553.7" cy="725.3" r="5.4"/>
<circle cx="864.3" cy="1034.1" r="5.4"/>
<circle cx="706.1" cy="922.0" r="5.4"/>
<circle cx="668.9" cy="922.2" r="5.4"/>
<circle cx="789.2" cy="936.2" r="5.4"/>
<circle cx="486.8" cy="699.5" r="5.4"/>
<circle cx="624.8" cy="869.7" r="5.4"/>
<circle cx="811.5" cy="1042.4" r="5.4"/>
<circle cx="629.1" cy="826.9" r="5.4"/>
<circle cx="537.1" cy="716.4" r="5.4"/>
<circle cx="611.3" cy="774.6" r="5.4"/>
<circle cx="688.8" cy="868.2" r="5.4"/>
<circle cx="651.9" cy="924.4" r="5.4"/>
<circle cx="564.0" cy="503.1" r="5.4"/>
<circle cx="690.6" cy="799.5" r="5.4"/>
<circle cx="911.8" cy="961.2" r="5.4"/>
<circle cx="723.8" cy="952.2" r="5.4"/>
<circle cx="505.4" cy="792.5" r="5.4"/>
<circle cx="583.9" cy="765.6" r="5.4"/>
<circle cx="772.3" cy="1000.9" r="5.3"/>
<circle cx="687.7" cy="993.8" r="5.3"/>
<circle cx="544.8" cy="703.7" r="5.3"/>
<circle cx="722.0" cy="797.1" r="5.3"/>
<circle cx="590.4" cy="752.8" r="5.3"/>
<circle cx="883.1" cy="951.2" r="5.3"/>
<circle cx="871.3" cy="945.7" r="5.3"/>
<circle cx="857.2" cy="978.0" r="5.3"/>
<circle cx="672.0" cy="912.7" r="5.3"/>
<circle cx="809.5" cy="951.5" r="5.3"/>
<circle cx="572.9" cy="877.6" r="5.3"/>
<circle cx="793.8" cy="882.7" r="5.3"/>
<circle cx="801.7" cy="900.8" r="5.3"/>
<circle cx="700.0" cy="907.9" r="5.3"/>
<circle cx="803.0" cy="863.7" r="5.3"/>
<circle cx="655.2" cy="853.3" r="5.3"/>
<circle cx="491.9" cy="745.0" r="5.3"/>
<circle cx="513.2" cy="673.5" r="5.3"/>
<circle cx="677.6" cy="927.2" r="5.3"/>
<circle cx="657.0" cy="779.8" r="5.3"/>
<circle cx="708.4" cy="896.8" r="5.3"/>
<circle cx="624.6" cy="824.4" r="5.3"/>
<circle cx="524.0" cy="671.1" r="5.2"/>
<circle cx="579.2" cy="1005.6" r="5.2"/>
<circle cx="773.1" cy="948.5" r="5.2"/>
<circle cx="697.6" cy="886.7" r="5.2"/>
<circle cx="751.2" cy="789.3" r="5.2"/>
<circle cx="510.7" cy="806.7" r="5.2"/>
<circle cx="737.7" cy="962.1" r="5.2"/>
<circle cx="820.1" cy="1007.5" r="5.2"/>
<circle cx="770.3" cy="926.3" r="5.2"/>
<circle cx="866.3" cy="977.0" r="5.2"/>
<circle cx="626.1" cy="1127.2" r="5.2"/>
<circle cx="510.5" cy="788.5" r="5.2"/>
<circle cx="542.2" cy="836.6" r="5.2"/>
<circle cx="851.6" cy="938.2" r="5.2"/>
<circle cx="725.4" cy="978.5" r="5.2"/>
<circle cx="536.1" cy="832.2" r="5.2"/>
<circle cx="682.4" cy="793.2" r="5.2"/>
<circle cx="590.3" cy="805.0" r="5.2"/>
<circle cx="699.7" cy="947.0" r="5.2"/>
<circle cx="543.8" cy="867.5" r="5.2"/>
<circle cx="906.8" cy="1053.6" r="5.2"/>
<circle cx="462.3" cy="736.0" r="5.2"/>
<circle cx="733.0" cy="882.6" r="5.2"/>
<circle cx="805.0" cy="902.7" r="5.1"/>
<circle cx="600.9" cy="929.8" r="5.1"/>
<circle cx="558.5" cy="672.8" r="5.1"/>
<circle cx="566.8" cy="814.0" r="5.1"/>
<circle cx="562.6" cy="680.2" r="5.1"/>
<circle cx="836.5" cy="872.5" r="5.1"/>
<circle cx="827.7" cy="1090.5" r="5.1"/>
<circle cx="542.1" cy="736.8" r="5.1"/>
<circle cx="675.1" cy="961.3" r="5.1"/>
<circle cx="516.8" cy="768.7" r="5.1"/>
<circle cx="729.8" cy="1010.0" r="5.1"/>
<circle cx="752.5" cy="1035.8" r="5.1"/>
<circle cx="574.9" cy="763.8" r="5.1"/>
<circle cx="684.4" cy="772.1" r="5.1"/>
<circle cx="638.1" cy="787.1" r="5.1"/>
<circle cx="461.1" cy="831.6" r="5.1"/>
<circle cx="712.6" cy="895.2" r="5.1"/>
<circle cx="699.3" cy="851.1" r="5.1"/>
<circle cx="755.5" cy="672.1" r="5.1"/>
<circle cx="513.7" cy="643.9" r="5.1"/>
<circle cx="802.2" cy="941.4" r="5.1"/>
<circle cx="619.0" cy="813.5" r="5.1"/>
<circle cx="602.8" cy="772.7" r="5.1"/>
<circle cx="649.0" cy="838.2" r="5.1"/>
<circle cx="727.3" cy="801.2" r="5.1"/>
<circle cx="598.7" cy="924.2" r="5.1"/>
<circle cx="630.0" cy="911.8" r="5.0"/>
<circle cx="734.9" cy="943.7" r="5.0"/>
<circle cx="583.3" cy="886.9" r="5.0"/>
<circle cx="378.2" cy="643.0" r="5.0"/>
<circle cx="769.5" cy="1031.5" r="5.0"/>
<circle cx="497.0" cy="668.1" r="5.0"/>
<circle cx="770.5" cy="1041.8" r="5.0"/>
<circle cx="826.0" cy="1033.6" r="5.0"/>
<circle cx="607.2" cy="804.8" r="5.0"/>
<circle cx="573.6" cy="915.2" r="5.0"/>
<circle cx="435.1" cy="672.6" r="5.0"/>
<circle cx="528.5" cy="684.3" r="5.0"/>
<circle cx="578.8" cy="911.2" r="5.0"/>
<circle cx="368.5" cy="608.4" r="5.0"/>
<circle cx="377.9" cy="894.1" r="5.0"/>
<circle cx="382.4" cy="923.8" r="5.0"/>
<circle cx="622.4" cy="1038.1" r="5.0"/>
<circle cx="559.2" cy="889.5" r="5.0"/>
<circle cx="684.2" cy="1066.0" r="5.0"/>
<circle cx="727.8" cy="1063.0" r="5.0"/>
<circle cx="561.7" cy="676.2" r="5.0"/>
<circle cx="775.3" cy="960.6" r="5.0"/>
<circle cx="876.9" cy="1088.5" r="5.0"/>
<circle cx="643.7" cy="851.9" r="5.0"/>
<circle cx="488.8" cy="840.1" r="5.0"/>
<circle cx="737.0" cy="1008.7" r="5.0"/>
<circle cx="819.9" cy="896.3" r="5.0"/>
<circle cx="726.3" cy="714.0" r="5.0"/>
<circle cx="678.0" cy="892.3" r="5.0"/>
<circle cx="597.0" cy="854.3" r="5.0"/>
<circle cx="606.7" cy="856.5" r="5.0"/>
<circle cx="696.8" cy="863.9" r="5.0"/>
<circle cx="604.0" cy="816.5" r="5.0"/>
<circle cx="685.1" cy="924.6" r="4.9"/>
<circle cx="737.3" cy="956.1" r="4.9"/>
<circle cx="706.8" cy="697.2" r="4.9"/>
<circle cx="858.6" cy="1049.4" r="4.9"/>
<circle cx="605.3" cy="888.3" r="4.9"/>
<circle cx="776.9" cy="910.8" r="4.9"/>
<circle cx="683.7" cy="849.2" r="4.9"/>
<circle cx="950.2" cy="1006.3" r="4.9"/>
<circle cx="681.8" cy="962.4" r="4.9"/>
<circle cx="755.4" cy="823.7" r="4.9"/>
<circle cx="670.0" cy="1002.3" r="4.9"/>
<circle cx="539.2" cy="786.0" r="4.9"/>
<circle cx="618.7" cy="924.8" r="4.9"/>
<circle cx="591.3" cy="855.9" r="4.9"/>
<circle cx="696.1" cy="979.8" r="4.9"/>
<circle cx="506.6" cy="762.3" r="4.9"/>
<circle cx="597.8" cy="768.7" r="4.9"/>
<circle cx="720.9" cy="820.4" r="4.9"/>
<circle cx="696.2" cy="966.3" r="4.9"/>
<circle cx="767.9" cy="873.2" r="4.9"/>
<circle cx="683.1" cy="889.5" r="4.9"/>
<circle cx="629.6" cy="949.8" r="4.9"/>
<circle cx="521.4" cy="884.3" r="4.9"/>
<circle cx="817.6" cy="794.1" r="4.8"/>
<circle cx="556.4" cy="733.5" r="4.8"/>
<circle cx="703.3" cy="845.8" r="4.8"/>
<circle cx="780.2" cy="989.1" r="4.8"/>
<circle cx="537.6" cy="837.1" r="4.8"/>
<circle cx="563.9" cy="728.4" r="4.8"/>
<circle cx="853.5" cy="991.6" r="4.8"/>
<circle cx="503.0" cy="759.8" r="4.8"/>
<circle cx="676.5" cy="910.7" r="4.8"/>
<circle cx="697.3" cy="833.2" r="4.8"/>
<circle cx="615.5" cy="763.9" r="4.8"/>
<circle cx="938.6" cy="1100.7" r="4.8"/>
<circle cx="565.3" cy="875.4" r="4.8"/>
<circle cx="460.0" cy="780.3" r="4.8"/>
<circle cx="819.2" cy="890.2" r="4.8"/>
<circle cx="758.5" cy="882.6" r="4.8"/>
<circle cx="679.7" cy="791.0" r="4.8"/>
<circle cx="616.6" cy="949.0" r="4.8"/>
<circle cx="894.4" cy="963.9" r="4.8"/>
<circle cx="756.7" cy="919.3" r="4.8"/>
<circle cx="554.4" cy="897.7" r="4.8"/>
<circle cx="735.7" cy="821.0" r="4.8"/>
<circle cx="759.9" cy="1026.3" r="4.8"/>
<circle cx="391.8" cy="639.7" r="4.8"/>
<circle cx="530.0" cy="888.7" r="4.8"/>
<circle cx="642.0" cy="877.3" r="4.8"/>
<circle cx="872.1" cy="1038.3" r="4.8"/>
<circle cx="715.4" cy="973.5" r="4.8"/>
<circle cx="686.5" cy="863.4" r="4.8"/>
<circle cx="816.3" cy="1014.7" r="4.8"/>
<circle cx="549.3" cy="830.3" r="4.8"/>
<circle cx="700.0" cy="816.8" r="4.8"/>
<circle cx="650.2" cy="791.1" r="4.8"/>
<circle cx="694.9" cy="785.1" r="4.8"/>
<circle cx="520.9" cy="759.3" r="4.8"/>
<circle cx="617.2" cy="866.8" r="4.8"/>
<circle cx="934.7" cy="1099.4" r="4.7"/>
<circle cx="505.3" cy="801.6" r="4.7"/>
<circle cx="430.1" cy="794.1" r="4.7"/>
<circle cx="810.6" cy="1023.8" r="4.7"/>
<circle cx="807.0" cy="1015.1" r="4.7"/>
<circle cx="758.1" cy="1014.8" r="4.7"/>
<circle cx="639.1" cy="982.9" r="4.7"/>
<circle cx="800.5" cy="665.9" r="4.7"/>
<circle cx="495.4" cy="639.1" r="4.7"/>
<circle cx="445.9" cy="803.5" r="4.7"/>
<circle cx="791.3" cy="877.2" r="4.7"/>
<circle cx="752.5" cy="881.1" r="4.7"/>
<circle cx="618.9" cy="831.9" r="4.7"/>
<circle cx="726.7" cy="893.1" r="4.7"/>
<circle cx="715.3" cy="1068.2" r="4.7"/>
<circle cx="529.7" cy="674.0" r="4.7"/>
<circle cx="671.7" cy="862.1" r="4.7"/>
<circle cx="787.9" cy="1067.8" r="4.7"/>
<circle cx="612.3" cy="747.3" r="4.7"/>
<circle cx="903.1" cy="988.9" r="4.7"/>
<circle cx="859.4" cy="996.7" r="4.7"/>
<circle cx="774.9" cy="892.1" r="4.7"/>
<circle cx="588.3" cy="910.8" r="4.7"/>
<circle cx="567.1" cy="853.6" r="4.7"/>
<circle cx="804.5" cy="803.9" r="4.7"/>
<circle cx="887.3" cy="899.5" r="4.7"/>
<circle cx="752.9" cy="915.1" r="4.7"/>
<circle cx="679.6" cy="803.9" r="4.7"/>
<circle cx="653.6" cy="893.1" r="4.7"/>
<circle cx="851.4" cy="797.1" r="4.7"/>
<circle cx="836.1" cy="1035.7" r="4.6"/>
<circle cx="634.3" cy="607.3" r="4.6"/>
<circle cx="616.8" cy="771.3" r="4.6"/>
<circle cx="687.6" cy="1081.2" r="4.6"/>
<circle cx="646.3" cy="830.7" r="4.6"/>
<circle cx="801.6" cy="1050.5" r="4.6"/>
<circle cx="624.4" cy="808.8" r="4.6"/>
<circle cx="893.3" cy="1072.4" r="4.6"/>
<circle cx="647.8" cy="819.4" r="4.6"/>
<circle cx="772.2" cy="798.8" r="4.6"/>
<circle cx="668.8" cy="723.0" r="4.6"/>
<circle cx="834.3" cy="1029.2" r="4.6"/>
<circle cx="538.3" cy="813.4" r="4.6"/>
<circle cx="840.2" cy="955.4" r="4.6"/>
<circle cx="759.5" cy="826.9" r="4.6"/>
<circle cx="712.0" cy="947.4" r="4.6"/>
<circle cx="694.0" cy="1009.7" r="4.6"/>
<circle cx="409.9" cy="501.7" r="4.6"/>
<circle cx="567.8" cy="599.5" r="4.6"/>
<circle cx="423.6" cy="575.4" r="4.6"/>
<circle cx="505.6" cy="600.8" r="4.6"/>
<circle cx="460.7" cy="1020.3" r="4.6"/>
<circle cx="545.7" cy="1020.6" r="4.6"/>
<circle cx="540.4" cy="979.7" r="4.6"/>
<circle cx="760.3" cy="899.7" r="4.6"/>
<circle cx="764.0" cy="905.2" r="4.6"/>
<circle cx="844.2" cy="1034.4" r="4.6"/>
<circle cx="759.7" cy="916.8" r="4.6"/>
<circle cx="519.0" cy="836.7" r="4.6"/>
<circle cx="894.3" cy="1076.6" r="4.6"/>
<circle cx="738.2" cy="938.2" r="4.6"/>
<circle cx="676.6" cy="831.3" r="4.6"/>
<circle cx="595.4" cy="840.2" r="4.6"/>
<circle cx="757.9" cy="857.3" r="4.6"/>
<circle cx="669.4" cy="490.0" r="4.6"/>
<circle cx="590.3" cy="879.6" r="4.6"/>
<circle cx="754.4" cy="916.0" r="4.6"/>
<circle cx="696.2" cy="766.3" r="4.5"/>
<circle cx="708.7" cy="903.8" r="4.5"/>
<circle cx="788.5" cy="832.5" r="4.5"/>
<circle cx="770.2" cy="1099.9" r="4.5"/>
<circle cx="711.7" cy="674.9" r="4.5"/>
<circle cx="734.3" cy="1071.4" r="4.5"/>
<circle cx="517.0" cy="762.7" r="4.5"/>
<circle cx="699.7" cy="898.4" r="4.5"/>
<circle cx="713.2" cy="952.0" r="4.5"/>
<circle cx="982.0" cy="997.3" r="4.5"/>
<circle cx="661.4" cy="881.3" r="4.5"/>
<circle cx="846.2" cy="1000.8" r="4.5"/>
<circle cx="784.4" cy="908.7" r="4.5"/>
<circle cx="824.0" cy="956.6" r="4.5"/>
<circle cx="681.8" cy="940.3" r="4.5"/>
<circle cx="825.3" cy="945.9" r="4.5"/>
<circle cx="656.8" cy="693.6" r="4.5"/>
<circle cx="848.3" cy="974.1" r="4.5"/>
<circle cx="529.0" cy="860.5" r="4.5"/>
<circle cx="513.5" cy="844.0" r="4.5"/>
<circle cx="420.6" cy="810.0" r="4.5"/>
<circle cx="619.3" cy="784.0" r="4.5"/>
<circle cx="698.3" cy="810.6" r="4.5"/>
<circle cx="672.5" cy="843.9" r="4.5"/>
<circle cx="858.1" cy="982.3" r="4.5"/>
<circle cx="741.9" cy="941.1" r="4.5"/>
<circle cx="753.9" cy="725.6" r="4.5"/>
<circle cx="604.6" cy="875.8" r="4.5"/>
<circle cx="656.3" cy="822.2" r="4.5"/>
<circle cx="720.8" cy="813.7" r="4.5"/>
<circle cx="705.7" cy="939.5" r="4.4"/>
<circle cx="750.2" cy="873.5" r="4.4"/>
<circle cx="546.7" cy="817.0" r="4.4"/>
<circle cx="774.9" cy="926.1" r="4.4"/>
<circle cx="670.6" cy="857.8" r="4.4"/>
<circle cx="549.8" cy="903.6" r="4.4"/>
<circle cx="669.7" cy="743.1" r="4.4"/>
<circle cx="716.6" cy="746.4" r="4.4"/>
<circle cx="673.9" cy="741.2" r="4.4"/>
<circle cx="775.1" cy="823.2" r="4.4"/>
<circle cx="575.3" cy="720.6" r="4.4"/>
<circle cx="518.6" cy="619.1" r="4.4"/>
<circle cx="833.0" cy="887.9" r="4.4"/>
<circle cx="735.3" cy="851.8" r="4.4"/>
<circle cx="491.7" cy="839.3" r="4.4"/>
<circle cx="593.2" cy="888.6" r="4.4"/>
<circle cx="690.1" cy="804.1" r="4.4"/>
<circle cx="849.0" cy="957.3" r="4.4"/>
<circle cx="609.9" cy="855.6" r="4.4"/>
<circle cx="687.3" cy="908.9" r="4.4"/>
<circle cx="616.6" cy="786.9" r="4.4"/>
<circle cx="438.6" cy="783.5" r="4.4"/>
<circle cx="853.0" cy="958.4" r="4.4"/>
<circle cx="541.1" cy="772.3" r="4.4"/>
<circle cx="638.7" cy="831.2" r="4.4"/>
<circle cx="648.5" cy="816.2" r="4.4"/>
<circle cx="808.7" cy="861.2" r="4.4"/>
<circle cx="645.7" cy="803.4" r="4.4"/>
<circle cx="724.1" cy="944.4" r="4.4"/>
<circle cx="670.0" cy="906.3" r="4.4"/>
<circle cx="613.8" cy="800.2" r="4.4"/>
<circle cx="844.9" cy="887.3" r="4.4"/>
<circle cx="553.3" cy="871.0" r="4.3"/>
<circle cx="449.1" cy="653.6" r="4.3"/>
<circle cx="783.9" cy="1047.6" r="4.3"/>
<circle cx="905.0" cy="992.3" r="4.3"/>
<circle cx="729.0" cy="900.9" r="4.3"/>
<circle cx="791.0" cy="979.5" r="4.3"/>
<circle cx="646.9" cy="774.7" r="4.3"/>
<circle cx="768.5" cy="940.1" r="4.3"/>
<circle cx="703.3" cy="793.1" r="4.3"/>
<circle cx="677.8" cy="906.8" r="4.3"/>
<circle cx="598.8" cy="904.5" r="4.3"/>
<circle cx="745.6" cy="735.1" r="4.3"/>
<circle cx="770.7" cy="1046.4" r="4.3"/>
<circle cx="738.8" cy="857.2" r="4.3"/>
<circle cx="541.7" cy="1053.3" r="4.3"/>
<circle cx="583.1" cy="930.2" r="4.3"/>
<circle cx="812.8" cy="949.6" r="4.3"/>
<circle cx="871.6" cy="1034.7" r="4.3"/>
<circle cx="772.0" cy="979.2" r="4.3"/>
<circle cx="588.1" cy="749.9" r="4.3"/>
<circle cx="585.8" cy="854.2" r="4.3"/>
<circle cx="779.5" cy="934.9" r="4.3"/>
<circle cx="578.9" cy="760.4" r="4.3"/>
<circle cx="752.0" cy="863.3" r="4.3"/>
<circle cx="806.1" cy="833.1" r="4.3"/>
<circle cx="783.2" cy="1005.4" r="4.3"/>
<circle cx="575.1" cy="845.2" r="4.3"/>
<circle cx="702.8" cy="850.3" r="4.2"/>
<circle cx="636.0" cy="789.5" r="4.2"/>
<circle cx="856.5" cy="932.5" r="4.2"/>
<circle cx="727.4" cy="907.2" r="4.2"/>
<circle cx="863.2" cy="1025.0" r="4.2"/>
<circle cx="793.0" cy="1001.2" r="4.2"/>
<circle cx="881.9" cy="938.6" r="4.2"/>
<circle cx="584.4" cy="895.5" r="4.2"/>
<circle cx="733.2" cy="847.3" r="4.2"/>
<circle cx="648.9" cy="738.2" r="4.2"/>
<circle cx="566.2" cy="828.8" r="4.2"/>
<circle cx="613.3" cy="873.6" r="4.2"/>
<circle cx="451.8" cy="832.6" r="4.2"/>
<circle cx="864.5" cy="1039.6" r="4.2"/>
<circle cx="811.9" cy="1002.1" r="4.2"/>
<circle cx="542.5" cy="826.1" r="4.2"/>
<circle cx="523.3" cy="703.3" r="4.2"/>
<circle cx="902.8" cy="1018.6" r="4.2"/>
<circle cx="851.2" cy="985.6" r="4.2"/>
<circle cx="833.3" cy="975.3" r="4.2"/>
<circle cx="535.2" cy="696.5" r="4.2"/>
<circle cx="655.6" cy="858.3" r="4.2"/>
<circle cx="547.2" cy="753.6" r="4.2"/>
<circle cx="624.4" cy="837.5" r="4.2"/>
<circle cx="764.5" cy="885.7" r="4.2"/>
<circle cx="728.3" cy="948.5" r="4.2"/>
<circle cx="774.4" cy="869.8" r="4.2"/>
<circle cx="837.0" cy="1009.8" r="4.2"/>
<circle cx="850.6" cy="927.1" r="4.2"/>
<circle cx="543.0" cy="819.0" r="4.2"/>
<circle cx="706.1" cy="827.0" r="4.2"/>
<circle cx="602.4" cy="746.6" r="4.2"/>
<circle cx="764.8" cy="1031.7" r="4.2"/>
<circle cx="682.1" cy="815.4" r="4.1"/>
<circle cx="752.5" cy="899.7" r="4.1"/>
<circle cx="627.4" cy="777.6" r="4.1"/>
<circle cx="691.8" cy="751.3" r="4.1"/>
<circle cx="747.8" cy="860.3" r="4.1"/>
<circle cx="683.8" cy="930.9" r="4.1"/>
<circle cx="814.3" cy="1019.8" r="4.1"/>
<circle cx="746.0" cy="898.6" r="4.1"/>
<circle cx="690.4" cy="929.9" r="4.1"/>
<circle cx="593.2" cy="802.1" r="4.1"/>
<circle cx="685.5" cy="1019.5" r="4.1"/>
<circle cx="815.5" cy="1001.0" r="4.1"/>
<circle cx="826.2" cy="997.6" r="4.1"/>
<circle cx="668.3" cy="828.5" r="4.1"/>
<circle cx="683.0" cy="783.4" r="4.1"/>
<circle cx="879.0" cy="1039.2" r="4.1"/>
<circle cx="723.6" cy="989.7" r="4.1"/>
<circle cx="727.6" cy="920.7" r="4.1"/>
<circle cx="512.3" cy="790.5" r="4.1"/>
<circle cx="692.7" cy="817.4" r="4.1"/>
<circle cx="667.5" cy="961.5" r="4.1"/>
<circle cx="624.4" cy="844.8" r="4.1"/>
<circle cx="805.3" cy="968.8" r="4.1"/>
<circle cx="627.7" cy="928.0" r="4.1"/>
<circle cx="773.5" cy="928.3" r="4.1"/>
<circle cx="825.2" cy="962.4" r="4.1"/>
<circle cx="802.2" cy="889.6" r="4.1"/>
<circle cx="639.5" cy="836.0" r="4.1"/>
<circle cx="518.4" cy="865.8" r="4.1"/>
<circle cx="516.2" cy="886.3" r="4.1"/>
<circle cx="804.4" cy="986.2" r="4.1"/>
<circle cx="811.7" cy="881.9" r="4.1"/>
<circle cx="611.0" cy="895.5" r="4.1"/>
<circle cx="695.2" cy="980.5" r="4.1"/>
<circle cx="875.4" cy="1041.3" r="4.1"/>
<circle cx="652.1" cy="858.5" r="4.1"/>
<circle cx="645.2" cy="807.1" r="4.1"/>
<circle cx="454.6" cy="685.8" r="4.1"/>
<circle cx="787.5" cy="903.4" r="4.0"/>
<circle cx="837.1" cy="973.6" r="4.0"/>
<circle cx="605.6" cy="1005.3" r="4.0"/>
<circle cx="715.7" cy="769.6" r="4.0"/>
<circle cx="665.5" cy="1168.5" r="4.0"/>
<circle cx="736.1" cy="877.0" r="4.0"/>
<circle cx="939.6" cy="1025.1" r="4.0"/>
<circle cx="758.0" cy="923.8" r="4.0"/>
<circle cx="916.3" cy="1094.3" r="4.0"/>
<circle cx="727.4" cy="1028.4" r="4.0"/>
<circle cx="534.8" cy="913.1" r="4.0"/>
<circle cx="455.0" cy="1114.0" r="4.0"/>
<circle cx="817.0" cy="1141.0" r="4.0"/>
<circle cx="929.0" cy="1117.0" r="4.0"/>
<circle cx="958.0" cy="1133.0" r="4.0"/>
<circle cx="632.9" cy="822.4" r="4.0"/>
<circle cx="684.8" cy="843.5" r="4.0"/>
<circle cx="810.5" cy="1061.0" r="4.0"/>
<circle cx="840.5" cy="888.5" r="4.0"/>
<circle cx="651.6" cy="841.6" r="4.0"/>
<circle cx="531.4" cy="845.1" r="4.0"/>
<circle cx="567.7" cy="805.7" r="4.0"/>
<circle cx="593.8" cy="836.9" r="4.0"/>
<circle cx="689.5" cy="991.4" r="4.0"/>
<circle cx="658.8" cy="873.3" r="4.0"/>
<circle cx="721.4" cy="971.1" r="4.0"/>
<circle cx="813.4" cy="1050.2" r="4.0"/>
<circle cx="602.2" cy="803.2" r="4.0"/>
<circle cx="639.8" cy="893.7" r="4.0"/>
<circle cx="766.2" cy="1022.4" r="4.0"/>
<circle cx="576.5" cy="896.0" r="4.0"/>
<circle cx="803.3" cy="958.6" r="4.0"/>
<circle cx="738.6" cy="965.2" r="4.0"/>
<circle cx="667.2" cy="874.9" r="4.0"/>
<circle cx="799.5" cy="835.2" r="4.0"/>
<circle cx="623.1" cy="863.8" r="4.0"/>
<circle cx="558.9" cy="801.8" r="3.9"/>
<circle cx="824.7" cy="926.5" r="3.9"/>
<circle cx="654.1" cy="657.8" r="3.9"/>
<circle cx="752.1" cy="869.6" r="3.9"/>
<circle cx="717.8" cy="819.3" r="3.9"/>
<circle cx="777.9" cy="965.6" r="3.9"/>
<circle cx="696.3" cy="645.9" r="3.9"/>
<circle cx="427.2" cy="752.3" r="3.9"/>
<circle cx="557.6" cy="1028.4" r="3.9"/>
<circle cx="816.2" cy="953.2" r="3.9"/>
<circle cx="686.5" cy="810.1" r="3.9"/>
<circle cx="606.8" cy="988.9" r="3.9"/>
<circle cx="819.4" cy="960.8" r="3.9"/>
<circle cx="897.6" cy="965.3" r="3.9"/>
<circle cx="582.9" cy="820.3" r="3.9"/>
<circle cx="770.6" cy="965.0" r="3.9"/>
<circle cx="527.4" cy="848.1" r="3.9"/>
<circle cx="606.0" cy="830.3" r="3.9"/>
<circle cx="661.9" cy="913.7" r="3.9"/>
<circle cx="740.6" cy="815.0" r="3.9"/>
<circle cx="831.8" cy="1049.6" r="3.9"/>
<circle cx="750.6" cy="866.7" r="3.9"/>
<circle cx="638.8" cy="923.7" r="3.9"/>
<circle cx="892.9" cy="997.8" r="3.9"/>
<circle cx="729.6" cy="850.3" r="3.9"/>
<circle cx="522.3" cy="768.3" r="3.9"/>
<circle cx="690.7" cy="891.5" r="3.9"/>
<circle cx="819.1" cy="878.2" r="3.9"/>
<circle cx="737.3" cy="805.5" r="3.9"/>
<circle cx="505.1" cy="797.0" r="3.9"/>
<circle cx="822.9" cy="916.0" r="3.9"/>
<circle cx="734.9" cy="896.8" r="3.9"/>
<circle cx="588.7" cy="860.9" r="3.9"/>
<circle cx="689.2" cy="915.4" r="3.9"/>
<circle cx="731.3" cy="975.2" r="3.9"/>
<circle cx="859.6" cy="1025.8" r="3.8"/>
<circle cx="622.3" cy="819.8" r="3.8"/>
<circle cx="651.4" cy="871.6" r="3.8"/>
<circle cx="865.8" cy="1000.3" r="3.8"/>
<circle cx="839.2" cy="981.3" r="3.8"/>
<circle cx="696.0" cy="924.2" r="3.8"/>
<circle cx="804.9" cy="927.3" r="3.8"/>
<circle cx="679.9" cy="916.2" r="3.8"/>
<circle cx="850.1" cy="1019.2" r="3.8"/>
<circle cx="699.3" cy="1006.7" r="3.8"/>
<circle cx="667.5" cy="821.1" r="3.8"/>
<circle cx="777.9" cy="1016.8" r="3.8"/>
<circle cx="897.5" cy="905.0" r="3.8"/>
<circle cx="744.3" cy="969.8" r="3.8"/>
<circle cx="668.6" cy="816.8" r="3.8"/>
<circle cx="719.8" cy="924.4" r="3.8"/>
<circle cx="757.2" cy="901.1" r="3.8"/>
<circle cx="531.2" cy="661.8" r="3.8"/>
<circle cx="565.0" cy="837.7" r="3.8"/>
<circle cx="338.3" cy="554.8" r="3.8"/>
<circle cx="374.3" cy="632.3" r="3.8"/>
<circle cx="221.2" cy="697.8" r="3.8"/>
<circle cx="464.2" cy="536.5" r="3.8"/>
<circle cx="475.1" cy="539.6" r="3.8"/>
<circle cx="395.1" cy="1032.5" r="3.8"/>
<circle cx="444.7" cy="920.0" r="3.8"/>
<circle cx="527.7" cy="1021.6" r="3.8"/>
<circle cx="517.0" cy="1074.9" r="3.8"/>
<circle cx="566.1" cy="941.6" r="3.8"/>
<circle cx="737.9" cy="712.0" r="3.8"/>
<circle cx="775.6" cy="919.5" r="3.8"/>
<circle cx="584.0" cy="741.4" r="3.8"/>
<circle cx="645.7" cy="841.4" r="3.8"/>
<circle cx="481.5" cy="838.7" r="3.8"/>
<circle cx="548.0" cy="821.9" r="3.8"/>
<circle cx="902.7" cy="974.5" r="3.8"/>
<circle cx="740.6" cy="809.7" r="3.8"/>
<circle cx="674.9" cy="797.2" r="3.8"/>
<circle cx="869.0" cy="1069.2" r="3.8"/>
<circle cx="750.6" cy="780.6" r="3.8"/>
<circle cx="852.1" cy="933.9" r="3.8"/>
<circle cx="567.1" cy="707.2" r="3.8"/>
<circle cx="687.3" cy="747.3" r="3.8"/>
<circle cx="764.5" cy="937.8" r="3.7"/>
<circle cx="621.1" cy="743.0" r="3.7"/>
<circle cx="766.8" cy="781.0" r="3.7"/>
<circle cx="675.9" cy="846.7" r="3.7"/>
<circle cx="749.1" cy="924.4" r="3.7"/>
<circle cx="690.5" cy="835.2" r="3.7"/>
<circle cx="735.7" cy="1087.0" r="3.7"/>
<circle cx="664.6" cy="957.9" r="3.7"/>
<circle cx="688.5" cy="821.2" r="3.7"/>
<circle cx="660.1" cy="900.0" r="3.7"/>
<circle cx="784.8" cy="964.0" r="3.7"/>
<circle cx="666.6" cy="868.2" r="3.7"/>
<circle cx="687.1" cy="805.0" r="3.7"/>
<circle cx="458.3" cy="693.0" r="3.7"/>
<circle cx="761.2" cy="1051.9" r="3.7"/>
<circle cx="732.2" cy="678.5" r="3.7"/>
<circle cx="668.3" cy="811.7" r="3.7"/>
<circle cx="921.9" cy="993.0" r="3.7"/>
<circle cx="889.6" cy="1092.1" r="3.7"/>
<circle cx="579.9" cy="815.1" r="3.7"/>
<circle cx="670.7" cy="821.1" r="3.7"/>
<circle cx="582.7" cy="838.7" r="3.7"/>
<circle cx="785.3" cy="977.7" r="3.7"/>
<circle cx="662.6" cy="830.8" r="3.7"/>
<circle cx="902.0" cy="1004.7" r="3.7"/>
<circle cx="860.6" cy="971.2" r="3.7"/>
<circle cx="660.4" cy="864.6" r="3.7"/>
<circle cx="845.6" cy="949.2" r="3.7"/>
<circle cx="844.0" cy="873.0" r="3.7"/>
<circle cx="707.5" cy="1009.2" r="3.7"/>
<circle cx="654.8" cy="811.7" r="3.7"/>
<circle cx="884.9" cy="955.8" r="3.7"/>
<circle cx="755.6" cy="926.7" r="3.7"/>
<circle cx="781.9" cy="881.0" r="3.7"/>
<circle cx="622.0" cy="850.2" r="3.7"/>
<circle cx="686.8" cy="972.7" r="3.7"/>
<circle cx="631.6" cy="872.3" r="3.7"/>
<circle cx="607.6" cy="821.6" r="3.7"/>
<circle cx="781.5" cy="1007.9" r="3.7"/>
<circle cx="614.5" cy="825.0" r="3.7"/>
<circle cx="817.4" cy="922.0" r="3.7"/>
<circle cx="663.2" cy="1127.6" r="3.7"/>
<circle cx="907.8" cy="1090.5" r="3.7"/>
<circle cx="569.8" cy="790.3" r="3.6"/>
<circle cx="544.8" cy="920.0" r="3.6"/>
<circle cx="784.7" cy="899.4" r="3.6"/>
<circle cx="515.6" cy="826.2" r="3.6"/>
<circle cx="852.2" cy="1044.5" r="3.6"/>
<circle cx="784.1" cy="982.8" r="3.6"/>
<circle cx="806.8" cy="991.3" r="3.6"/>
<circle cx="672.1" cy="839.3" r="3.6"/>
<circle cx="793.5" cy="1074.1" r="3.6"/>
<circle cx="795.2" cy="909.1" r="3.6"/>
<circle cx="419.7" cy="690.3" r="3.6"/>
<circle cx="782.1" cy="853.7" r="3.6"/>
<circle cx="701.7" cy="884.0" r="3.6"/>
<circle cx="453.8" cy="788.3" r="3.6"/>
<circle cx="668.2" cy="611.8" r="3.6"/>
<circle cx="833.6" cy="848.3" r="3.6"/>
<circle cx="928.8" cy="1080.7" r="3.6"/>
<circle cx="380.2" cy="955.3" r="3.6"/>
<circle cx="481.5" cy="925.6" r="3.6"/>
<circle cx="522.6" cy="959.4" r="3.6"/>
<circle cx="826.5" cy="987.8" r="3.6"/>
<circle cx="603.5" cy="713.3" r="3.6"/>
<circle cx="760.7" cy="913.5" r="3.6"/>
<circle cx="676.6" cy="1135.1" r="3.6"/>
<circle cx="659.2" cy="804.3" r="3.6"/>
<circle cx="843.0" cy="881.8" r="3.6"/>
<circle cx="892.1" cy="938.4" r="3.6"/>
<circle cx="637.3" cy="740.7" r="3.6"/>
<circle cx="665.4" cy="931.3" r="3.6"/>
<circle cx="869.4" cy="1102.5" r="3.6"/>
<circle cx="598.2" cy="604.0" r="3.6"/>
<circle cx="860.9" cy="965.6" r="3.6"/>
<circle cx="746.4" cy="1024.8" r="3.6"/>
<circle cx="748.0" cy="878.3" r="3.6"/>
<circle cx="843.5" cy="942.8" r="3.6"/>
<circle cx="599.6" cy="858.7" r="3.6"/>
<circle cx="537.9" cy="738.1" r="3.6"/>
<circle cx="904.1" cy="1048.3" r="3.6"/>
<circle cx="696.4" cy="795.8" r="3.6"/>
<circle cx="762.6" cy="927.9" r="3.6"/>
<circle cx="905.8" cy="933.9" r="3.6"/>
<circle cx="669.4" cy="993.2" r="3.6"/>
<circle cx="893.4" cy="894.0" r="3.6"/>
<circle cx="855.9" cy="960.7" r="3.6"/>
<circle cx="797.1" cy="1013.0" r="3.5"/>
<circle cx="900.1" cy="1014.9" r="3.5"/>
<circle cx="571.8" cy="822.2" r="3.5"/>
<circle cx="589.7" cy="832.4" r="3.5"/>
<circle cx="754.1" cy="950.9" r="3.5"/>
<circle cx="800.5" cy="1046.1" r="3.5"/>
<circle cx="601.3" cy="787.4" r="3.5"/>
<circle cx="617.1" cy="903.7" r="3.5"/>
<circle cx="590.5" cy="723.8" r="3.5"/>
<circle cx="613.1" cy="743.2" r="3.5"/>
<circle cx="694.4" cy="904.4" r="3.5"/>
<circle cx="572.3" cy="805.5" r="3.5"/>
<circle cx="743.7" cy="1064.4" r="3.5"/>
<circle cx="831.1" cy="916.5" r="3.5"/>
<circle cx="726.5" cy="964.1" r="3.5"/>
<circle cx="878.6" cy="987.4" r="3.5"/>
<circle cx="807.7" cy="1074.9" r="3.5"/>
<circle cx="660.6" cy="923.2" r="3.5"/>
<circle cx="789.2" cy="749.1" r="3.5"/>
<circle cx="456.9" cy="727.5" r="3.5"/>
<circle cx="644.2" cy="907.7" r="3.5"/>
<circle cx="515.3" cy="563.9" r="3.5"/>
<circle cx="788.0" cy="1255.0" r="3.5"/>
<circle cx="833.0" cy="1143.0" r="3.5"/>
<circle cx="882.0" cy="1137.0" r="3.5"/>
<circle cx="895.0" cy="1197.0" r="3.5"/>
<circle cx="807.1" cy="866.3" r="3.5"/>
<circle cx="933.7" cy="1020.0" r="3.5"/>
<circle cx="747.6" cy="908.6" r="3.5"/>
<circle cx="738.0" cy="923.4" r="3.5"/>
<circle cx="744.2" cy="905.0" r="3.5"/>
<circle cx="648.0" cy="823.3" r="3.5"/>
<circle cx="759.9" cy="631.6" r="3.5"/>
<circle cx="953.1" cy="989.0" r="3.5"/>
<circle cx="837.6" cy="1017.7" r="3.5"/>
<circle cx="847.8" cy="884.5" r="3.5"/>
<circle cx="748.8" cy="955.5" r="3.5"/>
<circle cx="933.7" cy="824.7" r="3.5"/>
<circle cx="798.8" cy="887.1" r="3.5"/>
<circle cx="737.2" cy="764.3" r="3.5"/>
<circle cx="807.5" cy="975.2" r="3.5"/>
<circle cx="759.3" cy="998.5" r="3.5"/>
<circle cx="565.6" cy="864.5" r="3.5"/>
<circle cx="913.3" cy="945.4" r="3.5"/>
<circle cx="799.9" cy="959.3" r="3.5"/>
<circle cx="874.0" cy="1000.2" r="3.5"/>
<circle cx="500.4" cy="958.1" r="3.4"/>
<circle cx="660.8" cy="854.5" r="3.4"/>
<circle cx="963.4" cy="991.2" r="3.4"/>
<circle cx="934.2" cy="1073.7" r="3.4"/>
<circle cx="692.1" cy="885.6" r="3.4"/>
<circle cx="535.4" cy="808.4" r="3.4"/>
<circle cx="673.3" cy="1011.7" r="3.4"/>
<circle cx="731.5" cy="833.7" r="3.4"/>
<circle cx="814.8" cy="970.3" r="3.4"/>
<circle cx="643.6" cy="817.9" r="3.4"/>
<circle cx="820.2" cy="1090.7" r="3.4"/>
<circle cx="620.9" cy="869.1" r="3.4"/>
<circle cx="867.9" cy="1012.4" r="3.4"/>
<circle cx="855.2" cy="986.4" r="3.4"/>
<circle cx="562.4" cy="797.5" r="3.4"/>
<circle cx="655.7" cy="1014.0" r="3.4"/>
<circle cx="660.1" cy="828.1" r="3.4"/>
<circle cx="731.2" cy="758.7" r="3.4"/>
<circle cx="755.1" cy="780.3" r="3.4"/>
<circle cx="848.0" cy="815.0" r="3.4"/>
<circle cx="679.1" cy="884.2" r="3.4"/>
<circle cx="556.3" cy="763.0" r="3.4"/>
<circle cx="786.4" cy="829.8" r="3.4"/>
<circle cx="912.0" cy="971.0" r="3.4"/>
<circle cx="933.1" cy="945.6" r="3.4"/>
<circle cx="486.3" cy="664.0" r="3.4"/>
<circle cx="677.2" cy="943.5" r="3.4"/>
<circle cx="714.7" cy="725.2" r="3.4"/>
<circle cx="975.8" cy="970.2" r="3.4"/>
<circle cx="787.4" cy="1028.4" r="3.4"/>
<circle cx="821.2" cy="708.4" r="3.4"/>
<circle cx="453.1" cy="752.3" r="3.4"/>
<circle cx="656.0" cy="919.5" r="3.4"/>
<circle cx="537.3" cy="761.3" r="3.4"/>
<circle cx="973.8" cy="976.7" r="3.4"/>
<circle cx="772.4" cy="913.7" r="3.4"/>
<circle cx="630.1" cy="963.3" r="3.4"/>
<circle cx="523.6" cy="757.8" r="3.4"/>
<circle cx="797.7" cy="869.2" r="3.4"/>
<circle cx="610.6" cy="859.6" r="3.4"/>
<circle cx="828.8" cy="1049.4" r="3.4"/>
<circle cx="702.0" cy="687.4" r="3.4"/>
<circle cx="603.9" cy="839.1" r="3.3"/>
<circle cx="898.9" cy="986.5" r="3.3"/>
<circle cx="875.6" cy="945.8" r="3.3"/>
<circle cx="791.5" cy="868.5" r="3.3"/>
<circle cx="768.6" cy="894.1" r="3.3"/>
<circle cx="775.9" cy="991.0" r="3.3"/>
<circle cx="779.5" cy="904.9" r="3.3"/>
<circle cx="665.3" cy="828.6" r="3.3"/>
<circle cx="697.7" cy="901.0" r="3.3"/>
<circle cx="503.2" cy="711.9" r="3.3"/>
<circle cx="775.5" cy="976.5" r="3.3"/>
<circle cx="682.6" cy="1004.7" r="3.3"/>
<circle cx="678.3" cy="836.4" r="3.3"/>
<circle cx="781.3" cy="868.8" r="3.3"/>
<circle cx="677.1" cy="815.5" r="3.3"/>
<circle cx="822.0" cy="874.3" r="3.3"/>
<circle cx="730.9" cy="892.1" r="3.3"/>
<circle cx="845.5" cy="929.2" r="3.3"/>
<circle cx="795.6" cy="996.2" r="3.3"/>
<circle cx="206.2" cy="934.0" r="3.3"/>
<circle cx="616.1" cy="880.7" r="3.3"/>
<circle cx="796.1" cy="965.6" r="3.3"/>
<circle cx="726.5" cy="781.2" r="3.3"/>
<circle cx="864.6" cy="1058.0" r="3.3"/>
<circle cx="723.1" cy="914.2" r="3.3"/>
<circle cx="735.2" cy="1076.6" r="3.3"/>
<circle cx="762.7" cy="982.4" r="3.3"/>
<circle cx="700.3" cy="1014.4" r="3.3"/>
<circle cx="692.6" cy="772.2" r="3.3"/>
<circle cx="796.7" cy="774.9" r="3.3"/>
<circle cx="677.4" cy="994.5" r="3.3"/>
<circle cx="676.1" cy="737.9" r="3.3"/>
<circle cx="680.1" cy="738.0" r="3.3"/>
<circle cx="814.5" cy="904.3" r="3.3"/>
<circle cx="675.7" cy="800.3" r="3.3"/>
<circle cx="639.5" cy="882.0" r="3.3"/>
<circle cx="648.2" cy="757.6" r="3.3"/>
<circle cx="796.6" cy="1039.4" r="3.3"/>
<circle cx="560.9" cy="738.4" r="3.3"/>
<circle cx="853.4" cy="983.3" r="3.3"/>
<circle cx="842.0" cy="997.4" r="3.3"/>
<circle cx="582.8" cy="780.7" r="3.3"/>
<circle cx="760.6" cy="937.2" r="3.3"/>
<circle cx="630.7" cy="929.4" r="3.3"/>
<circle cx="723.9" cy="865.3" r="3.3"/>
<circle cx="863.4" cy="1011.0" r="3.3"/>
<circle cx="663.0" cy="859.6" r="3.3"/>
<circle cx="623.2" cy="946.2" r="3.2"/>
<circle cx="729.1" cy="806.1" r="3.2"/>
<circle cx="718.9" cy="828.9" r="3.2"/>
<circle cx="835.2" cy="899.4" r="3.2"/>
<circle cx="688.8" cy="886.5" r="3.2"/>
<circle cx="767.0" cy="932.9" r="3.2"/>
<circle cx="741.4" cy="883.6" r="3.2"/>
<circle cx="643.6" cy="919.1" r="3.2"/>
<circle cx="943.4" cy="1046.7" r="3.2"/>
<circle cx="829.0" cy="929.7" r="3.2"/>
<circle cx="751.2" cy="951.7" r="3.2"/>
<circle cx="798.3" cy="1004.4" r="3.2"/>
<circle cx="864.5" cy="980.7" r="3.2"/>
<circle cx="822.7" cy="938.1" r="3.2"/>
<circle cx="531.3" cy="839.7" r="3.2"/>
<circle cx="909.0" cy="933.0" r="3.2"/>
<circle cx="782.8" cy="944.1" r="3.2"/>
<circle cx="789.6" cy="918.6" r="3.2"/>
<circle cx="823.4" cy="1006.3" r="3.2"/>
<circle cx="759.3" cy="961.9" r="3.2"/>
<circle cx="651.3" cy="881.4" r="3.2"/>
<circle cx="894.9" cy="1029.6" r="3.2"/>
<circle cx="813.9" cy="931.8" r="3.2"/>
<circle cx="805.8" cy="679.3" r="3.2"/>
<circle cx="725.9" cy="1075.3" r="3.2"/>
<circle cx="710.3" cy="969.1" r="3.2"/>
<circle cx="700.7" cy="827.7" r="3.2"/>
<circle cx="586.9" cy="857.6" r="3.2"/>
<circle cx="776.3" cy="956.4" r="3.2"/>
<circle cx="774.5" cy="952.0" r="3.2"/>
<circle cx="752.5" cy="968.1" r="3.2"/>
<circle cx="836.3" cy="1006.2" r="3.2"/>
<circle cx="813.7" cy="963.7" r="3.2"/>
<circle cx="873.3" cy="997.3" r="3.2"/>
<circle cx="965.6" cy="1094.3" r="3.2"/>
<circle cx="653.4" cy="900.6" r="3.2"/>
<circle cx="869.4" cy="1065.9" r="3.2"/>
<circle cx="701.6" cy="842.8" r="3.2"/>
<circle cx="863.9" cy="1084.6" r="3.2"/>
<circle cx="685.2" cy="834.5" r="3.1"/>
<circle cx="897.3" cy="1037.8" r="3.1"/>
<circle cx="875.1" cy="845.6" r="3.1"/>
<circle cx="662.9" cy="791.0" r="3.1"/>
<circle cx="604.4" cy="917.1" r="3.1"/>
<circle cx="555.3" cy="712.0" r="3.1"/>
<circle cx="573.5" cy="743.6" r="3.1"/>
<circle cx="692.3" cy="970.2" r="3.1"/>
<circle cx="760.0" cy="865.5" r="3.1"/>
<circle cx="731.6" cy="1006.2" r="3.1"/>
<circle cx="642.4" cy="934.7" r="3.1"/>
<circle cx="788.1" cy="885.5" r="3.1"/>
<circle cx="802.2" cy="990.3" r="3.1"/>
<circle cx="843.4" cy="1040.1" r="3.1"/>
<circle cx="853.2" cy="1083.5" r="3.1"/>
<circle cx="694.7" cy="783.1" r="3.1"/>
<circle cx="730.4" cy="798.0" r="3.1"/>
<circle cx="923.6" cy="1028.3" r="3.1"/>
<circle cx="732.5" cy="905.3" r="3.1"/>
<circle cx="733.3" cy="864.4" r="3.1"/>
<circle cx="636.8" cy="874.6" r="3.1"/>
<circle cx="751.1" cy="697.5" r="3.1"/>
<circle cx="780.1" cy="978.0" r="3.1"/>
<circle cx="509.9" cy="760.9" r="3.1"/>
<circle cx="764.4" cy="915.1" r="3.1"/>
<circle cx="938.9" cy="1054.9" r="3.1"/>
<circle cx="908.7" cy="884.7" r="3.1"/>
<circle cx="803.3" cy="906.7" r="3.1"/>
<circle cx="845.8" cy="1012.5" r="3.1"/>
<circle cx="734.5" cy="812.3" r="3.1"/>
<circle cx="751.1" cy="1067.8" r="3.1"/>
<circle cx="691.0" cy="894.9" r="3.1"/>
<circle cx="715.1" cy="777.5" r="3.1"/>
<circle cx="724.0" cy="780.3" r="3.1"/>
<circle cx="898.0" cy="1053.9" r="3.1"/>
<circle cx="653.9" cy="953.6" r="3.1"/>
<circle cx="604.9" cy="914.0" r="3.1"/>
<circle cx="801.1" cy="849.5" r="3.1"/>
<circle cx="729.4" cy="1024.8" r="3.1"/>
<circle cx="734.2" cy="988.3" r="3.1"/>
<circle cx="658.8" cy="868.3" r="3.1"/>
<circle cx="901.4" cy="957.1" r="3.1"/>
<circle cx="787.6" cy="905.1" r="3.1"/>
<circle cx="858.6" cy="954.6" r="3.1"/>
<circle cx="882.2" cy="1088.3" r="3.1"/>
<circle cx="869.1" cy="860.3" r="3.1"/>
<circle cx="466.8" cy="672.3" r="3.1"/>
<circle cx="681.7" cy="788.4" r="3.1"/>
<circle cx="615.7" cy="930.2" r="3.1"/>
<circle cx="720.3" cy="963.1" r="3.0"/>
<circle cx="811.6" cy="909.7" r="3.0"/>
<circle cx="492.8" cy="792.1" r="3.0"/>
<circle cx="635.8" cy="817.8" r="3.0"/>
<circle cx="591.3" cy="747.9" r="3.0"/>
<circle cx="726.4" cy="1002.7" r="3.0"/>
<circle cx="786.4" cy="1045.5" r="3.0"/>
<circle cx="897.0" cy="1006.2" r="3.0"/>
<circle cx="828.6" cy="1004.9" r="3.0"/>
<circle cx="708.3" cy="941.4" r="3.0"/>
<circle cx="806.9" cy="934.7" r="3.0"/>
<circle cx="822.7" cy="1018.4" r="3.0"/>
<circle cx="856.6" cy="917.8" r="3.0"/>
<circle cx="743.1" cy="945.4" r="3.0"/>
<circle cx="651.2" cy="884.5" r="3.0"/>
<circle cx="872.7" cy="1082.6" r="3.0"/>
<circle cx="769.7" cy="931.5" r="3.0"/>
<circle cx="572.0" cy="852.1" r="3.0"/>
<circle cx="701.9" cy="753.9" r="3.0"/>
<circle cx="790.6" cy="1016.1" r="3.0"/>
<circle cx="840.6" cy="1014.9" r="3.0"/>
<circle cx="780.4" cy="972.3" r="3.0"/>
<circle cx="799.1" cy="920.4" r="3.0"/>
<circle cx="881.1" cy="1020.8" r="3.0"/>
<circle cx="868.8" cy="1075.1" r="3.0"/>
<circle cx="829.3" cy="942.5" r="3.0"/>
<circle cx="621.5" cy="988.2" r="3.0"/>
<circle cx="374.6" cy="507.3" r="3.0"/>
<circle cx="370.0" cy="537.3" r="3.0"/>
<circle cx="547.0" cy="533.2" r="3.0"/>
<circle cx="412.2" cy="1057.7" r="3.0"/>
<circle cx="373.8" cy="834.4" r="3.0"/>
<circle cx="569.6" cy="1040.1" r="3.0"/>
<circle cx="647.0" cy="1118.0" r="3.0"/>
<circle cx="692.0" cy="1153.0" r="3.0"/>
<circle cx="382.1" cy="461.2" r="3.0"/>
<circle cx="489.4" cy="485.5" r="3.0"/>
<circle cx="596.7" cy="424.8" r="3.0"/>
<circle cx="402.2" cy="417.5" r="3.0"/>
<circle cx="686.9" cy="760.5" r="3.0"/>
<circle cx="546.2" cy="800.2" r="3.0"/>
<circle cx="828.4" cy="964.1" r="3.0"/>
<circle cx="798.6" cy="1043.1" r="3.0"/>
<circle cx="904.1" cy="1011.9" r="3.0"/>
<circle cx="822.9" cy="1041.9" r="3.0"/>
<circle cx="582.3" cy="648.6" r="3.0"/>
<circle cx="890.1" cy="1033.0" r="3.0"/>
<circle cx="724.1" cy="972.4" r="3.0"/>
<circle cx="858.8" cy="1100.1" r="3.0"/>
<circle cx="775.0" cy="805.2" r="3.0"/>
<circle cx="747.0" cy="1007.9" r="3.0"/>
<circle cx="869.6" cy="1019.3" r="3.0"/>
<circle cx="862.7" cy="847.4" r="3.0"/>
<circle cx="669.8" cy="897.8" r="3.0"/>
<circle cx="932.0" cy="972.6" r="3.0"/>
<circle cx="688.6" cy="923.6" r="3.0"/>
<circle cx="882.2" cy="1080.1" r="3.0"/>
<circle cx="711.7" cy="913.0" r="3.0"/>
<circle cx="677.2" cy="752.7" r="3.0"/>
<circle cx="947.3" cy="950.2" r="3.0"/>
<circle cx="590.4" cy="795.6" r="3.0"/>
<circle cx="726.1" cy="812.8" r="3.0"/>
<circle cx="719.8" cy="932.0" r="3.0"/>
<circle cx="770.2" cy="830.5" r="3.0"/>
<circle cx="648.8" cy="910.2" r="3.0"/>
<circle cx="961.2" cy="1016.1" r="3.0"/>
<circle cx="721.9" cy="877.4" r="3.0"/>
<circle cx="672.3" cy="876.1" r="3.0"/>
<circle cx="721.4" cy="889.9" r="2.9"/>
<circle cx="651.2" cy="931.8" r="2.9"/>
<circle cx="851.7" cy="951.7" r="2.9"/>
<circle cx="769.1" cy="1002.0" r="2.9"/>
<circle cx="594.5" cy="819.4" r="2.9"/>
<circle cx="752.0" cy="903.0" r="2.9"/>
<circle cx="525.6" cy="855.4" r="2.9"/>
<circle cx="769.7" cy="1070.2" r="2.9"/>
<circle cx="820.6" cy="885.4" r="2.9"/>
<circle cx="845.4" cy="927.7" r="2.9"/>
<circle cx="705.3" cy="879.4" r="2.9"/>
<circle cx="848.7" cy="1068.5" r="2.9"/>
<circle cx="563.3" cy="751.9" r="2.9"/>
<circle cx="815.7" cy="958.9" r="2.9"/>
<circle cx="821.0" cy="1002.4" r="2.9"/>
<circle cx="635.2" cy="913.2" r="2.9"/>
<circle cx="700.1" cy="890.8" r="2.9"/>
<circle cx="746.7" cy="824.5" r="2.9"/>
<circle cx="700.2" cy="952.4" r="2.9"/>
<circle cx="752.8" cy="807.7" r="2.9"/>
<circle cx="617.2" cy="832.4" r="2.9"/>
<circle cx="952.1" cy="1034.7" r="2.9"/>
<circle cx="817.0" cy="965.1" r="2.9"/>
<circle cx="840.1" cy="1007.5" r="2.9"/>
<circle cx="834.1" cy="703.5" r="2.9"/>
<circle cx="745.8" cy="867.8" r="2.9"/>
<circle cx="689.0" cy="839.8" r="2.9"/>
<circle cx="765.2" cy="999.2" r="2.9"/>
<circle cx="894.4" cy="1019.0" r="2.9"/>
<circle cx="630.5" cy="863.6" r="2.9"/>
<circle cx="701.0" cy="877.5" r="2.9"/>
<circle cx="864.8" cy="1004.9" r="2.9"/>
<circle cx="696.8" cy="841.2" r="2.9"/>
<circle cx="600.6" cy="971.3" r="2.9"/>
<circle cx="705.9" cy="830.7" r="2.9"/>
<circle cx="721.9" cy="922.5" r="2.9"/>
<circle cx="588.9" cy="786.1" r="2.9"/>
<circle cx="677.3" cy="927.7" r="2.9"/>
<circle cx="837.6" cy="905.5" r="2.9"/>
<circle cx="672.0" cy="919.9" r="2.9"/>
<circle cx="822.4" cy="970.8" r="2.9"/>
<circle cx="941.1" cy="1078.1" r="2.9"/>
<circle cx="707.6" cy="907.7" r="2.9"/>
<circle cx="730.5" cy="841.2" r="2.9"/>
<circle cx="724.1" cy="924.7" r="2.9"/>
<circle cx="762.9" cy="878.4" r="2.9"/>
<circle cx="700.8" cy="919.9" r="2.9"/>
<circle cx="844.7" cy="915.0" r="2.9"/>
<circle cx="836.0" cy="977.4" r="2.9"/>
<circle cx="802.8" cy="962.2" r="2.9"/>
<circle cx="940.6" cy="986.5" r="2.8"/>
<circle cx="616.4" cy="807.4" r="2.8"/>
<circle cx="777.8" cy="1039.1" r="2.8"/>
<circle cx="832.8" cy="951.0" r="2.8"/>
<circle cx="881.7" cy="965.3" r="2.8"/>
<circle cx="733.0" cy="885.9" r="2.8"/>
<circle cx="716.9" cy="989.7" r="2.8"/>
<circle cx="826.5" cy="840.8" r="2.8"/>
<circle cx="808.4" cy="1037.3" r="2.8"/>
<circle cx="764.5" cy="813.9" r="2.8"/>
<circle cx="830.2" cy="852.3" r="2.8"/>
<circle cx="879.2" cy="1023.3" r="2.8"/>
<circle cx="750.0" cy="743.9" r="2.8"/>
<circle cx="728.7" cy="888.8" r="2.8"/>
<circle cx="875.2" cy="1061.9" r="2.8"/>
<circle cx="695.5" cy="891.0" r="2.8"/>
<circle cx="754.9" cy="893.5" r="2.8"/>
<circle cx="967.0" cy="992.1" r="2.8"/>
<circle cx="806.4" cy="917.6" r="2.8"/>
<circle cx="848.1" cy="1055.6" r="2.8"/>
<circle cx="820.6" cy="912.4" r="2.8"/>
<circle cx="917.0" cy="983.7" r="2.8"/>
<circle cx="657.3" cy="833.9" r="2.8"/>
<circle cx="848.4" cy="1067.9" r="2.8"/>
<circle cx="899.2" cy="1101.4" r="2.8"/>
<circle cx="851.6" cy="923.7" r="2.8"/>
<circle cx="765.0" cy="1023.7" r="2.8"/>
<circle cx="501.7" cy="802.7" r="2.8"/>
<circle cx="770.4" cy="972.7" r="2.8"/>
<circle cx="733.0" cy="1056.1" r="2.8"/>
<circle cx="619.1" cy="907.2" r="2.8"/>
<circle cx="510.1" cy="816.1" r="2.8"/>
<circle cx="912.2" cy="952.1" r="2.8"/>
<circle cx="711.0" cy="864.7" r="2.8"/>
<circle cx="443.8" cy="897.3" r="2.8"/>
<circle cx="418.5" cy="990.0" r="2.8"/>
<circle cx="526.4" cy="927.8" r="2.8"/>
<circle cx="415.0" cy="1051.2" r="2.8"/>
<circle cx="464.7" cy="965.3" r="2.8"/>
<circle cx="459.1" cy="945.0" r="2.8"/>
<circle cx="514.3" cy="913.2" r="2.8"/>
<circle cx="525.3" cy="1073.8" r="2.8"/>
<circle cx="520.7" cy="1033.1" r="2.8"/>
<circle cx="401.1" cy="980.7" r="2.8"/>
<circle cx="731.8" cy="897.9" r="2.8"/>
<circle cx="674.9" cy="867.1" r="2.8"/>
<circle cx="670.0" cy="789.9" r="2.8"/>
<circle cx="485.3" cy="789.2" r="2.8"/>
<circle cx="855.2" cy="1047.2" r="2.8"/>
<circle cx="612.0" cy="855.3" r="2.8"/>
<circle cx="766.0" cy="1014.4" r="2.8"/>
<circle cx="699.0" cy="798.0" r="2.8"/>
<circle cx="668.9" cy="836.2" r="2.8"/>
<circle cx="683.9" cy="914.3" r="2.8"/>
<circle cx="765.6" cy="838.0" r="2.8"/>
<circle cx="764.9" cy="943.7" r="2.8"/>
<circle cx="728.8" cy="990.4" r="2.8"/>
<circle cx="813.4" cy="1012.3" r="2.8"/>
<circle cx="597.8" cy="864.0" r="2.8"/>
<circle cx="821.5" cy="856.7" r="2.8"/>
<circle cx="676.1" cy="970.8" r="2.8"/>
<circle cx="475.5" cy="799.5" r="2.8"/>
<circle cx="800.1" cy="1014.4" r="2.8"/>
<circle cx="884.8" cy="1034.2" r="2.8"/>
<circle cx="757.0" cy="1028.0" r="2.8"/>
<circle cx="715.5" cy="1026.2" r="2.8"/>
<circle cx="858.9" cy="1019.7" r="2.8"/>
<circle cx="702.0" cy="790.2" r="2.8"/>
<circle cx="696.1" cy="940.3" r="2.8"/>
<circle cx="733.6" cy="926.4" r="2.8"/>
<circle cx="709.2" cy="645.1" r="2.7"/>
<circle cx="916.1" cy="1098.3" r="2.7"/>
<circle cx="578.0" cy="891.7" r="2.7"/>
<circle cx="656.8" cy="1029.0" r="2.7"/>
<circle cx="693.1" cy="877.6" r="2.7"/>
<circle cx="897.6" cy="1073.5" r="2.7"/>
<circle cx="723.2" cy="1042.8" r="2.7"/>
<circle cx="817.8" cy="964.4" r="2.7"/>
<circle cx="734.8" cy="860.9" r="2.7"/>
<circle cx="649.2" cy="950.7" r="2.7"/>
<circle cx="816.4" cy="822.0" r="2.7"/>
<circle cx="811.7" cy="1031.7" r="2.7"/>
<circle cx="765.8" cy="970.0" r="2.7"/>
<circle cx="789.5" cy="1000.9" r="2.7"/>
<circle cx="948.6" cy="1074.6" r="2.7"/>
<circle cx="754.9" cy="1017.1" r="2.7"/>
<circle cx="891.6" cy="1021.1" r="2.7"/>
<circle cx="944.0" cy="1022.2" r="2.7"/>
<circle cx="835.0" cy="915.5" r="2.7"/>
<circle cx="785.8" cy="1008.6" r="2.7"/>
<circle cx="611.0" cy="820.2" r="2.7"/>
<circle cx="954.2" cy="985.0" r="2.7"/>
<circle cx="860.5" cy="1005.4" r="2.7"/>
<circle cx="925.0" cy="1067.2" r="2.7"/>
<circle cx="737.1" cy="843.5" r="2.7"/>
<circle cx="664.6" cy="1144.2" r="2.7"/>
<circle cx="787.6" cy="1086.1" r="2.7"/>
<circle cx="809.6" cy="917.1" r="2.7"/>
<circle cx="903.2" cy="919.0" r="2.7"/>
<circle cx="554.5" cy="919.9" r="2.7"/>
<circle cx="884.9" cy="1014.5" r="2.7"/>
<circle cx="978.2" cy="989.6" r="2.7"/>
<circle cx="710.9" cy="1023.6" r="2.7"/>
<circle cx="758.7" cy="983.8" r="2.7"/>
<circle cx="741.9" cy="782.7" r="2.7"/>
<circle cx="727.6" cy="821.7" r="2.7"/>
<circle cx="696.3" cy="953.6" r="2.7"/>
<circle cx="501.9" cy="721.0" r="2.7"/>
<circle cx="817.8" cy="930.2" r="2.7"/>
<circle cx="764.7" cy="866.4" r="2.7"/>
<circle cx="724.1" cy="1024.5" r="2.7"/>
<circle cx="821.0" cy="830.4" r="2.7"/>
<circle cx="871.3" cy="1078.3" r="2.7"/>
<circle cx="716.6" cy="838.6" r="2.7"/>
<circle cx="534.7" cy="878.5" r="2.7"/>
<circle cx="638.8" cy="765.3" r="2.7"/>
<circle cx="782.8" cy="911.4" r="2.7"/>
<circle cx="447.8" cy="701.3" r="2.7"/>
<circle cx="847.8" cy="992.2" r="2.7"/>
<circle cx="766.4" cy="1009.6" r="2.7"/>
<circle cx="951.5" cy="938.0" r="2.7"/>
<circle cx="629.1" cy="889.6" r="2.7"/>
<circle cx="431.3" cy="774.2" r="2.7"/>
<circle cx="766.4" cy="991.4" r="2.7"/>
<circle cx="665.1" cy="906.6" r="2.7"/>
<circle cx="893.2" cy="969.4" r="2.7"/>
<circle cx="601.1" cy="876.3" r="2.7"/>
<circle cx="894.5" cy="983.0" r="2.7"/>
<circle cx="449.6" cy="886.3" r="2.7"/>
<circle cx="715.5" cy="897.6" r="2.7"/>
<circle cx="595.3" cy="903.7" r="2.7"/>
<circle cx="743.2" cy="817.8" r="2.7"/>
<circle cx="671.5" cy="748.7" r="2.7"/>
<circle cx="901.1" cy="1057.0" r="2.7"/>
<circle cx="704.4" cy="782.9" r="2.7"/>
<circle cx="675.0" cy="803.6" r="2.7"/>
<circle cx="716.5" cy="1031.8" r="2.6"/>
<circle cx="877.2" cy="894.4" r="2.6"/>
<circle cx="774.3" cy="932.0" r="2.6"/>
<circle cx="643.4" cy="890.4" r="2.6"/>
<circle cx="834.4" cy="1084.3" r="2.6"/>
<circle cx="875.4" cy="1004.5" r="2.6"/>
<circle cx="768.9" cy="1019.3" r="2.6"/>
<circle cx="445.7" cy="666.5" r="2.6"/>
<circle cx="724.7" cy="941.3" r="2.6"/>
<circle cx="790.9" cy="971.4" r="2.6"/>
<circle cx="729.5" cy="747.6" r="2.6"/>
<circle cx="647.8" cy="830.8" r="2.6"/>
<circle cx="806.0" cy="952.0" r="2.6"/>
<circle cx="843.9" cy="958.3" r="2.6"/>
<circle cx="834.8" cy="935.6" r="2.6"/>
<circle cx="748.3" cy="968.8" r="2.6"/>
<circle cx="780.2" cy="838.4" r="2.6"/>
<circle cx="740.2" cy="1028.4" r="2.6"/>
<circle cx="870.5" cy="936.7" r="2.6"/>
<circle cx="865.2" cy="1045.9" r="2.6"/>
<circle cx="571.7" cy="799.1" r="2.6"/>
<circle cx="705.8" cy="891.5" r="2.6"/>
<circle cx="788.8" cy="1062.5" r="2.6"/>
<circle cx="906.5" cy="1014.7" r="2.6"/>
<circle cx="843.2" cy="1077.2" r="2.6"/>
<circle cx="896.6" cy="1063.3" r="2.6"/>
<circle cx="672.6" cy="941.7" r="2.6"/>
<circle cx="598.8" cy="882.3" r="2.6"/>
<circle cx="955.2" cy="1075.6" r="2.6"/>
<circle cx="890.0" cy="1048.8" r="2.6"/>
<circle cx="662.7" cy="904.4" r="2.6"/>
<circle cx="870.3" cy="992.2" r="2.6"/>
<circle cx="791.9" cy="1032.3" r="2.6"/>
<circle cx="827.1" cy="915.0" r="2.6"/>
<circle cx="730.0" cy="1037.6" r="2.6"/>
<circle cx="902.3" cy="1061.3" r="2.6"/>
<circle cx="751.4" cy="1019.1" r="2.6"/>
<circle cx="544.5" cy="761.5" r="2.6"/>
<circle cx="889.9" cy="955.5" r="2.6"/>
<circle cx="743.5" cy="844.7" r="2.6"/>
<circle cx="716.1" cy="920.6" r="2.6"/>
<circle cx="468.3" cy="710.1" r="2.6"/>
<circle cx="708.4" cy="1060.9" r="2.6"/>
<circle cx="849.3" cy="970.8" r="2.6"/>
<circle cx="821.7" cy="982.2" r="2.6"/>
<circle cx="845.0" cy="846.7" r="2.6"/>
<circle cx="861.8" cy="978.9" r="2.6"/>
<circle cx="813.5" cy="985.5" r="2.6"/>
<circle cx="686.4" cy="938.2" r="2.6"/>
<circle cx="801.3" cy="861.0" r="2.6"/>
<circle cx="583.2" cy="800.9" r="2.6"/>
<circle cx="736.4" cy="776.3" r="2.6"/>
<circle cx="723.1" cy="903.0" r="2.6"/>
<circle cx="756.8" cy="731.7" r="2.6"/>
<circle cx="589.6" cy="900.1" r="2.6"/>
<circle cx="786.8" cy="966.9" r="2.6"/>
<circle cx="877.2" cy="994.9" r="2.6"/>
<circle cx="671.1" cy="865.6" r="2.6"/>
<circle cx="961.9" cy="946.2" r="2.6"/>
<circle cx="683.1" cy="880.4" r="2.6"/>
<circle cx="870.8" cy="834.0" r="2.6"/>
<circle cx="628.0" cy="805.4" r="2.6"/>
<circle cx="765.5" cy="1057.7" r="2.6"/>
<circle cx="825.3" cy="1044.6" r="2.6"/>
<circle cx="826.8" cy="1110.4" r="2.6"/>
<circle cx="937.6" cy="1014.5" r="2.5"/>
<circle cx="770.7" cy="909.9" r="2.5"/>
<circle cx="809.2" cy="892.5" r="2.5"/>
<circle cx="609.1" cy="816.2" r="2.5"/>
<circle cx="945.9" cy="1019.0" r="2.5"/>
<circle cx="808.0" cy="1044.9" r="2.5"/>
<circle cx="542.4" cy="842.2" r="2.5"/>
<circle cx="814.6" cy="975.9" r="2.5"/>
<circle cx="765.7" cy="1072.8" r="2.5"/>
<circle cx="628.8" cy="846.3" r="2.5"/>
<circle cx="747.7" cy="832.2" r="2.5"/>
<circle cx="643.0" cy="706.6" r="2.5"/>
<circle cx="897.8" cy="1045.1" r="2.5"/>
<circle cx="921.9" cy="1097.2" r="2.5"/>
<circle cx="971.4" cy="1049.0" r="2.5"/>
<circle cx="764.6" cy="935.1" r="2.5"/>
<circle cx="739.9" cy="985.0" r="2.5"/>
<circle cx="789.5" cy="975.9" r="2.5"/>
<circle cx="786.1" cy="1024.6" r="2.5"/>
<circle cx="966.3" cy="975.5" r="2.5"/>
<circle cx="837.5" cy="1023.0" r="2.5"/>
<circle cx="928.3" cy="956.9" r="2.5"/>
<circle cx="786.3" cy="901.3" r="2.5"/>
<circle cx="796.5" cy="989.5" r="2.5"/>
<circle cx="836.5" cy="912.6" r="2.5"/>
<circle cx="843.2" cy="991.7" r="2.5"/>
<circle cx="879.1" cy="1027.3" r="2.5"/>
<circle cx="686.4" cy="852.2" r="2.5"/>
<circle cx="739.5" cy="1060.9" r="2.5"/>
<circle cx="749.6" cy="995.4" r="2.5"/>
<circle cx="954.1" cy="1082.3" r="2.5"/>
<circle cx="518.0" cy="860.9" r="2.5"/>
<circle cx="904.3" cy="1051.6" r="2.5"/>
<circle cx="608.0" cy="966.1" r="2.5"/>
<circle cx="804.6" cy="960.8" r="2.5"/>
<circle cx="869.2" cy="875.1" r="2.5"/>
<circle cx="746.6" cy="895.3" r="2.5"/>
<circle cx="720.5" cy="894.4" r="2.5"/>
<circle cx="806.2" cy="941.3" r="2.5"/>
<circle cx="763.9" cy="909.6" r="2.5"/>
<circle cx="900.5" cy="993.0" r="2.5"/>
<circle cx="738.8" cy="917.5" r="2.5"/>
<circle cx="913.4" cy="1041.6" r="2.5"/>
<circle cx="886.0" cy="994.0" r="2.5"/>
<circle cx="661.5" cy="951.6" r="2.5"/>
<circle cx="381.9" cy="459.8" r="2.5"/>
<circle cx="388.3" cy="555.6" r="2.5"/>
<circle cx="267.9" cy="994.9" r="2.5"/>
<circle cx="375.6" cy="921.3" r="2.5"/>
<circle cx="366.4" cy="933.5" r="2.5"/>
<circle cx="842.7" cy="963.4" r="2.5"/>
<circle cx="841.8" cy="1070.4" r="2.5"/>
<circle cx="938.3" cy="1057.9" r="2.5"/>
<circle cx="684.6" cy="872.0" r="2.5"/>
<circle cx="654.5" cy="883.2" r="2.5"/>
<circle cx="856.7" cy="859.5" r="2.5"/>
<circle cx="701.0" cy="859.4" r="2.5"/>
<circle cx="711.6" cy="924.7" r="2.5"/>
<circle cx="771.5" cy="909.1" r="2.5"/>
<circle cx="644.5" cy="836.0" r="2.5"/>
<circle cx="692.5" cy="933.2" r="2.5"/>
<circle cx="924.8" cy="995.9" r="2.5"/>
<circle cx="712.5" cy="940.5" r="2.5"/>
<circle cx="956.4" cy="1090.0" r="2.5"/>
<circle cx="861.8" cy="1109.5" r="2.5"/>
<circle cx="896.5" cy="994.8" r="2.5"/>
<circle cx="653.5" cy="833.8" r="2.5"/>
<circle cx="621.2" cy="854.6" r="2.5"/>
<circle cx="746.2" cy="803.4" r="2.5"/>
<circle cx="818.3" cy="1031.6" r="2.5"/>
<circle cx="793.8" cy="975.4" r="2.5"/>
<circle cx="813.0" cy="1005.4" r="2.5"/>
<circle cx="757.7" cy="980.6" r="2.5"/>
<circle cx="835.1" cy="988.3" r="2.5"/>
<circle cx="785.6" cy="956.5" r="2.5"/>
<circle cx="930.6" cy="1096.2" r="2.5"/>
<circle cx="772.9" cy="781.5" r="2.5"/>
<circle cx="644.4" cy="777.5" r="2.5"/>
<circle cx="779.9" cy="897.6" r="2.5"/>
<circle cx="618.3" cy="875.9" r="2.5"/>
<circle cx="788.4" cy="791.5" r="2.5"/>
<circle cx="751.5" cy="918.6" r="2.5"/>
<circle cx="723.7" cy="808.0" r="2.4"/>
<circle cx="744.1" cy="979.2" r="2.4"/>
<circle cx="719.3" cy="885.3" r="2.4"/>
<circle cx="771.8" cy="893.8" r="2.4"/>
<circle cx="910.3" cy="996.8" r="2.4"/>
<circle cx="644.3" cy="743.0" r="2.4"/>
<circle cx="753.4" cy="853.5" r="2.4"/>
<circle cx="713.1" cy="1042.4" r="2.4"/>
<circle cx="964.9" cy="1077.9" r="2.4"/>
<circle cx="956.3" cy="922.0" r="2.4"/>
<circle cx="710.9" cy="918.6" r="2.4"/>
<circle cx="584.3" cy="866.0" r="2.4"/>
<circle cx="940.2" cy="1000.6" r="2.4"/>
<circle cx="806.5" cy="1009.9" r="2.4"/>
<circle cx="800.8" cy="916.7" r="2.4"/>
<circle cx="778.4" cy="1012.4" r="2.4"/>
<circle cx="560.8" cy="908.1" r="2.4"/>
<circle cx="744.7" cy="1028.2" r="2.4"/>
<circle cx="810.9" cy="939.6" r="2.4"/>
<circle cx="833.4" cy="962.8" r="2.4"/>
<circle cx="680.4" cy="883.9" r="2.4"/>
<circle cx="792.9" cy="960.2" r="2.4"/>
<circle cx="909.3" cy="968.5" r="2.4"/>
<circle cx="914.1" cy="924.2" r="2.4"/>
<circle cx="887.2" cy="1098.7" r="2.4"/>
<circle cx="629.1" cy="866.8" r="2.4"/>
<circle cx="841.7" cy="918.3" r="2.4"/>
<circle cx="765.8" cy="1111.5" r="2.4"/>
<circle cx="926.9" cy="1113.3" r="2.4"/>
<circle cx="547.5" cy="676.1" r="2.4"/>
<circle cx="906.3" cy="922.2" r="2.4"/>
<circle cx="955.8" cy="1003.9" r="2.4"/>
<circle cx="814.8" cy="919.6" r="2.4"/>
<circle cx="912.7" cy="1020.6" r="2.4"/>
<circle cx="754.2" cy="910.1" r="2.4"/>
<circle cx="656.3" cy="933.8" r="2.4"/>
<circle cx="718.2" cy="858.1" r="2.4"/>
<circle cx="776.1" cy="982.3" r="2.4"/>
<circle cx="667.5" cy="970.8" r="2.4"/>
<circle cx="782.1" cy="887.3" r="2.4"/>
<circle cx="921.6" cy="1037.6" r="2.4"/>
<circle cx="783.2" cy="1016.9" r="2.4"/>
<circle cx="816.4" cy="949.5" r="2.4"/>
<circle cx="861.4" cy="955.5" r="2.4"/>
<circle cx="812.7" cy="944.6" r="2.4"/>
<circle cx="770.0" cy="936.3" r="2.4"/>
<circle cx="646.5" cy="924.1" r="2.4"/>
<circle cx="851.6" cy="1016.1" r="2.4"/>
<circle cx="774.0" cy="1026.6" r="2.4"/>
<circle cx="770.8" cy="1056.4" r="2.4"/>
<circle cx="807.7" cy="1001.1" r="2.4"/>
<circle cx="692.9" cy="913.7" r="2.4"/>
<circle cx="905.1" cy="901.5" r="2.4"/>
<circle cx="872.5" cy="963.7" r="2.4"/>
<circle cx="650.1" cy="938.7" r="2.3"/>
<circle cx="615.4" cy="917.1" r="2.3"/>
<circle cx="578.9" cy="810.8" r="2.3"/>
<circle cx="847.3" cy="968.5" r="2.3"/>
<circle cx="831.8" cy="924.6" r="2.3"/>
<circle cx="917.3" cy="1007.5" r="2.3"/>
<circle cx="941.7" cy="1102.5" r="2.3"/>
<circle cx="848.3" cy="978.1" r="2.3"/>
<circle cx="865.5" cy="1008.6" r="2.3"/>
<circle cx="753.2" cy="818.4" r="2.3"/>
<circle cx="863.0" cy="989.8" r="2.3"/>
<circle cx="786.7" cy="1035.1" r="2.3"/>
<circle cx="742.6" cy="768.6" r="2.3"/>
<circle cx="856.9" cy="1092.9" r="2.3"/>
<circle cx="514.0" cy="782.2" r="2.3"/>
<circle cx="472.3" cy="509.1" r="2.3"/>
<circle cx="881.0" cy="968.9" r="2.3"/>
<circle cx="673.0" cy="850.7" r="2.3"/>
<circle cx="755.2" cy="815.6" r="2.3"/>
<circle cx="865.0" cy="1016.9" r="2.3"/>
<circle cx="734.9" cy="867.1" r="2.3"/>
<circle cx="529.9" cy="751.6" r="2.3"/>
<circle cx="774.4" cy="1036.2" r="2.3"/>
<circle cx="629.8" cy="835.6" r="2.3"/>
<circle cx="803.7" cy="1005.9" r="2.3"/>
<circle cx="785.4" cy="972.6" r="2.3"/>
<circle cx="738.2" cy="956.3" r="2.3"/>
<circle cx="850.6" cy="941.1" r="2.3"/>
<circle cx="574.0" cy="892.0" r="2.3"/>
<circle cx="626.4" cy="894.9" r="2.3"/>
<circle cx="853.0" cy="1066.1" r="2.3"/>
<circle cx="847.1" cy="1017.3" r="2.3"/>
<circle cx="797.5" cy="838.2" r="2.3"/>
<circle cx="730.1" cy="863.6" r="2.3"/>
<circle cx="758.1" cy="986.9" r="2.3"/>
<circle cx="691.8" cy="829.7" r="2.3"/>
<circle cx="854.0" cy="1014.1" r="2.3"/>
<circle cx="944.2" cy="1084.5" r="2.3"/>
<circle cx="917.4" cy="1059.8" r="2.3"/>
<circle cx="795.8" cy="968.7" r="2.3"/>
<circle cx="867.0" cy="805.0" r="2.3"/>
<circle cx="881.8" cy="998.7" r="2.3"/>
<circle cx="654.3" cy="877.6" r="2.3"/>
<circle cx="809.6" cy="967.7" r="2.3"/>
<circle cx="643.0" cy="886.2" r="2.3"/>
<circle cx="719.1" cy="977.0" r="2.3"/>
<circle cx="867.0" cy="924.3" r="2.3"/>
<circle cx="917.2" cy="1211.5" r="2.3"/>
<circle cx="784.6" cy="1085.9" r="2.3"/>
<circle cx="809.1" cy="1052.2" r="2.3"/>
<circle cx="759.6" cy="904.2" r="2.3"/>
<circle cx="860.7" cy="926.2" r="2.3"/>
<circle cx="925.0" cy="1089.3" r="2.3"/>
<circle cx="755.6" cy="875.8" r="2.3"/>
<circle cx="733.1" cy="881.2" r="2.3"/>
<circle cx="756.2" cy="863.7" r="2.3"/>
<circle cx="890.8" cy="1060.6" r="2.3"/>
<circle cx="855.6" cy="1055.0" r="2.3"/>
<circle cx="831.6" cy="1023.9" r="2.3"/>
<circle cx="835.0" cy="1057.5" r="2.3"/>
<circle cx="754.1" cy="1053.1" r="2.3"/>
<circle cx="868.7" cy="949.1" r="2.3"/>
<circle cx="735.7" cy="928.7" r="2.3"/>
<circle cx="887.6" cy="1067.4" r="2.2"/>
<circle cx="876.5" cy="1020.2" r="2.2"/>
<circle cx="974.0" cy="1042.3" r="2.2"/>
<circle cx="801.6" cy="832.9" r="2.2"/>
<circle cx="635.0" cy="852.0" r="2.2"/>
<circle cx="883.7" cy="944.9" r="2.2"/>
<circle cx="815.8" cy="886.8" r="2.2"/>
<circle cx="871.1" cy="1249.5" r="2.2"/>
<circle cx="666.5" cy="803.4" r="2.2"/>
<circle cx="974.0" cy="1031.5" r="2.2"/>
<circle cx="745.8" cy="888.7" r="2.2"/>
<circle cx="861.0" cy="986.6" r="2.2"/>
<circle cx="828.4" cy="1014.9" r="2.2"/>
<circle cx="631.0" cy="882.6" r="2.2"/>
<circle cx="716.8" cy="916.6" r="2.2"/>
<circle cx="928.7" cy="1056.7" r="2.2"/>
<circle cx="716.7" cy="784.4" r="2.2"/>
<circle cx="796.6" cy="1096.1" r="2.2"/>
<circle cx="770.9" cy="898.6" r="2.2"/>
<circle cx="831.4" cy="985.5" r="2.2"/>
<circle cx="743.7" cy="951.7" r="2.2"/>
<circle cx="924.4" cy="1000.5" r="2.2"/>
<circle cx="891.2" cy="955.7" r="2.2"/>
<circle cx="686.4" cy="999.6" r="2.2"/>
<circle cx="901.9" cy="896.6" r="2.2"/>
<circle cx="696.5" cy="898.1" r="2.2"/>
<circle cx="729.4" cy="836.4" r="2.2"/>
<circle cx="843.6" cy="1023.0" r="2.2"/>
<circle cx="725.8" cy="884.8" r="2.2"/>
<circle cx="867.2" cy="973.7" r="2.2"/>
<circle cx="600.9" cy="868.7" r="2.2"/>
<circle cx="513.7" cy="1014.8" r="2.2"/>
<circle cx="410.3" cy="1072.5" r="2.2"/>
<circle cx="518.9" cy="1063.2" r="2.2"/>
<circle cx="489.6" cy="1032.4" r="2.2"/>
<circle cx="459.8" cy="1050.2" r="2.2"/>
<circle cx="454.8" cy="1003.3" r="2.2"/>
<circle cx="404.7" cy="999.6" r="2.2"/>
<circle cx="397.9" cy="854.4" r="2.2"/>
<circle cx="520.5" cy="909.1" r="2.2"/>
<circle cx="486.0" cy="922.9" r="2.2"/>
<circle cx="422.1" cy="931.3" r="2.2"/>
<circle cx="442.4" cy="904.3" r="2.2"/>
<circle cx="454.0" cy="984.2" r="2.2"/>
<circle cx="956.4" cy="1168.0" r="2.2"/>
<circle cx="981.9" cy="1183.4" r="2.2"/>
<circle cx="951.8" cy="1193.7" r="2.2"/>
<circle cx="563.2" cy="989.6" r="2.2"/>
<circle cx="861.9" cy="1062.0" r="2.2"/>
<circle cx="784.3" cy="790.3" r="2.2"/>
<circle cx="829.8" cy="1039.9" r="2.2"/>
<circle cx="651.2" cy="814.9" r="2.2"/>
<circle cx="733.0" cy="940.7" r="2.2"/>
<circle cx="688.3" cy="736.5" r="2.2"/>
<circle cx="862.9" cy="939.0" r="2.2"/>
<circle cx="587.6" cy="717.6" r="2.2"/>
<circle cx="847.4" cy="946.8" r="2.2"/>
<circle cx="749.2" cy="991.4" r="2.2"/>
<circle cx="915.2" cy="1010.5" r="2.2"/>
<circle cx="798.4" cy="1031.8" r="2.2"/>
<circle cx="877.3" cy="1013.9" r="2.2"/>
<circle cx="877.4" cy="968.7" r="2.2"/>
<circle cx="763.7" cy="844.7" r="2.2"/>
<circle cx="749.0" cy="811.6" r="2.2"/>
<circle cx="808.8" cy="920.1" r="2.2"/>
<circle cx="937.2" cy="1032.9" r="2.2"/>
<circle cx="900.3" cy="979.7" r="2.2"/>
<circle cx="739.6" cy="908.5" r="2.2"/>
<circle cx="549.8" cy="843.0" r="2.2"/>
<circle cx="901.1" cy="1029.9" r="2.2"/>
<circle cx="852.0" cy="1031.0" r="2.2"/>
<circle cx="695.2" cy="809.1" r="2.2"/>
<circle cx="768.7" cy="880.4" r="2.2"/>
<circle cx="678.8" cy="868.1" r="2.2"/>
<circle cx="880.1" cy="1062.6" r="2.2"/>
<circle cx="935.9" cy="1053.5" r="2.2"/>
<circle cx="853.2" cy="1073.2" r="2.2"/>
<circle cx="838.3" cy="1029.1" r="2.2"/>
<circle cx="828.0" cy="959.0" r="2.2"/>
<circle cx="773.1" cy="878.4" r="2.1"/>
<circle cx="726.5" cy="916.1" r="2.1"/>
<circle cx="906.2" cy="973.6" r="2.1"/>
<circle cx="732.2" cy="850.1" r="2.1"/>
<circle cx="765.8" cy="951.2" r="2.1"/>
<circle cx="917.7" cy="1086.0" r="2.1"/>
<circle cx="870.8" cy="1030.6" r="2.1"/>
<circle cx="579.6" cy="873.9" r="2.1"/>
<circle cx="846.6" cy="793.7" r="2.1"/>
<circle cx="796.7" cy="875.5" r="2.1"/>
<circle cx="751.5" cy="887.1" r="2.1"/>
<circle cx="575.5" cy="836.2" r="2.1"/>
<circle cx="866.3" cy="953.5" r="2.1"/>
<circle cx="772.5" cy="994.6" r="2.1"/>
<circle cx="806.6" cy="1025.6" r="2.1"/>
<circle cx="838.9" cy="984.7" r="2.1"/>
<circle cx="639.8" cy="830.3" r="2.1"/>
<circle cx="810.4" cy="993.3" r="2.1"/>
<circle cx="928.5" cy="1034.5" r="2.1"/>
<circle cx="752.1" cy="987.9" r="2.1"/>
<circle cx="833.1" cy="1061.9" r="2.1"/>
<circle cx="658.7" cy="809.4" r="2.1"/>
<circle cx="743.6" cy="897.2" r="2.1"/>
<circle cx="748.0" cy="1014.7" r="2.1"/>
<circle cx="887.2" cy="1006.4" r="2.1"/>
<circle cx="650.5" cy="917.5" r="2.1"/>
<circle cx="843.3" cy="981.8" r="2.1"/>
<circle cx="902.2" cy="1008.8" r="2.1"/>
<circle cx="643.9" cy="1038.4" r="2.1"/>
<circle cx="689.0" cy="954.2" r="2.1"/>
<circle cx="666.1" cy="926.2" r="2.1"/>
<circle cx="754.6" cy="992.5" r="2.1"/>
<circle cx="831.7" cy="1034.6" r="2.1"/>
<circle cx="928.5" cy="1070.1" r="2.1"/>
<circle cx="739.2" cy="912.8" r="2.1"/>
<circle cx="852.7" cy="998.8" r="2.1"/>
<circle cx="586.2" cy="1009.0" r="2.1"/>
<circle cx="742.0" cy="849.5" r="2.1"/>
<circle cx="577.0" cy="1073.1" r="2.1"/>
<circle cx="936.8" cy="1094.5" r="2.1"/>
<circle cx="550.7" cy="727.4" r="2.1"/>
<circle cx="613.2" cy="740.2" r="2.1"/>
<circle cx="756.9" cy="954.1" r="2.1"/>
<circle cx="731.7" cy="929.2" r="2.1"/>
<circle cx="778.2" cy="819.3" r="2.1"/>
<circle cx="950.2" cy="1079.8" r="2.1"/>
<circle cx="812.6" cy="793.0" r="2.1"/>
<circle cx="825.6" cy="953.6" r="2.1"/>
<circle cx="943.4" cy="1029.4" r="2.1"/>
<circle cx="849.6" cy="1137.1" r="2.1"/>
<circle cx="947.1" cy="906.7" r="2.1"/>
<circle cx="854.5" cy="1052.6" r="2.1"/>
<circle cx="887.0" cy="1049.6" r="2.1"/>
<circle cx="773.6" cy="924.5" r="2.1"/>
<circle cx="725.3" cy="869.0" r="2.1"/>
<circle cx="866.5" cy="1041.9" r="2.1"/>
<circle cx="769.5" cy="683.9" r="2.1"/>
<circle cx="815.3" cy="1069.3" r="2.1"/>
<circle cx="736.7" cy="854.9" r="2.1"/>
<circle cx="906.7" cy="985.9" r="2.1"/>
<circle cx="943.0" cy="1018.2" r="2.1"/>
<circle cx="864.8" cy="1097.1" r="2.1"/>
<circle cx="690.4" cy="918.8" r="2.1"/>
<circle cx="858.6" cy="997.7" r="2.1"/>
<circle cx="554.2" cy="962.8" r="2.1"/>
<circle cx="760.8" cy="894.7" r="2.1"/>
<circle cx="719.0" cy="704.3" r="2.0"/>
<circle cx="919.7" cy="1047.5" r="2.0"/>
<circle cx="595.8" cy="894.8" r="2.0"/>
<circle cx="818.3" cy="849.0" r="2.0"/>
<circle cx="740.9" cy="1034.5" r="2.0"/>
<circle cx="958.1" cy="1015.1" r="2.0"/>
<circle cx="703.8" cy="909.6" r="2.0"/>
<circle cx="839.1" cy="1043.2" r="2.0"/>
<circle cx="639.0" cy="914.2" r="2.0"/>
<circle cx="696.8" cy="1014.9" r="2.0"/>
<circle cx="577.6" cy="849.9" r="2.0"/>
<circle cx="835.0" cy="1044.9" r="2.0"/>
<circle cx="590.3" cy="769.7" r="2.0"/>
<circle cx="801.4" cy="896.1" r="2.0"/>
<circle cx="867.3" cy="1024.4" r="2.0"/>
<circle cx="707.5" cy="909.3" r="2.0"/>
<circle cx="745.9" cy="852.7" r="2.0"/>
<circle cx="765.5" cy="891.9" r="2.0"/>
<circle cx="777.1" cy="861.7" r="2.0"/>
<circle cx="861.9" cy="1031.3" r="2.0"/>
<circle cx="800.8" cy="937.4" r="2.0"/>
<circle cx="753.7" cy="1027.5" r="2.0"/>
<circle cx="934.2" cy="1087.8" r="2.0"/>
<circle cx="623.1" cy="794.7" r="2.0"/>
<circle cx="782.8" cy="940.7" r="2.0"/>
<circle cx="759.0" cy="767.0" r="2.0"/>
<circle cx="894.5" cy="1013.5" r="2.0"/>
<circle cx="809.6" cy="1091.0" r="2.0"/>
<circle cx="903.1" cy="1133.2" r="2.0"/>
<circle cx="560.1" cy="859.1" r="2.0"/>
<circle cx="903.6" cy="1067.0" r="2.0"/>
<circle cx="727.7" cy="846.4" r="2.0"/>
<circle cx="632.9" cy="846.8" r="2.0"/>
<circle cx="814.3" cy="922.4" r="2.0"/>
<circle cx="857.3" cy="1037.7" r="2.0"/>
<circle cx="787.9" cy="878.5" r="2.0"/>
<circle cx="692.3" cy="923.3" r="2.0"/>
<circle cx="862.5" cy="852.2" r="2.0"/>
<circle cx="670.0" cy="953.0" r="2.0"/>
<circle cx="612.8" cy="906.4" r="2.0"/>
<circle cx="869.6" cy="958.1" r="2.0"/>
<circle cx="923.2" cy="1054.3" r="2.0"/>
<circle cx="767.8" cy="897.9" r="2.0"/>
<circle cx="800.9" cy="803.2" r="2.0"/>
<circle cx="668.9" cy="914.5" r="2.0"/>
<circle cx="663.3" cy="865.5" r="2.0"/>
<circle cx="783.9" cy="935.1" r="2.0"/>
<circle cx="875.6" cy="987.6" r="2.0"/>
<circle cx="783.5" cy="775.2" r="2.0"/>
<circle cx="831.5" cy="904.8" r="2.0"/>
<circle cx="826.4" cy="869.1" r="2.0"/>
<circle cx="881.6" cy="1041.3" r="2.0"/>
<circle cx="793.4" cy="768.2" r="2.0"/>
<circle cx="565.5" cy="832.5" r="2.0"/>
<circle cx="814.9" cy="1035.1" r="2.0"/>
<circle cx="921.2" cy="1014.7" r="2.0"/>
<circle cx="847.4" cy="939.9" r="2.0"/>
<circle cx="913.7" cy="1066.2" r="2.0"/>
<circle cx="889.4" cy="1024.0" r="2.0"/>
<circle cx="790.7" cy="1093.9" r="2.0"/>
<circle cx="807.2" cy="1079.1" r="2.0"/>
<circle cx="894.9" cy="1008.4" r="2.0"/>
<circle cx="872.4" cy="980.1" r="2.0"/>
<circle cx="967.9" cy="1034.9" r="2.0"/>
<circle cx="847.9" cy="1078.7" r="2.0"/>
<circle cx="857.0" cy="1032.9" r="2.0"/>
<circle cx="771.4" cy="960.0" r="2.0"/>
<circle cx="906.3" cy="1000.8" r="2.0"/>
<circle cx="863.2" cy="928.0" r="1.9"/>
<circle cx="632.8" cy="709.4" r="1.9"/>
<circle cx="672.8" cy="927.4" r="1.9"/>
<circle cx="878.9" cy="970.8" r="1.9"/>
<circle cx="676.2" cy="861.6" r="1.9"/>
<circle cx="639.5" cy="963.8" r="1.9"/>
<circle cx="817.1" cy="925.7" r="1.9"/>
<circle cx="693.2" cy="1036.9" r="1.9"/>
<circle cx="713.2" cy="888.4" r="1.9"/>
<circle cx="739.6" cy="875.3" r="1.9"/>
<circle cx="780.7" cy="925.7" r="1.9"/>
<circle cx="559.9" cy="795.7" r="1.9"/>
<circle cx="736.1" cy="978.9" r="1.9"/>
<circle cx="810.4" cy="1007.7" r="1.9"/>
<circle cx="771.3" cy="941.4" r="1.9"/>
<circle cx="925.7" cy="947.8" r="1.9"/>
<circle cx="778.9" cy="1077.5" r="1.9"/>
<circle cx="769.5" cy="1061.4" r="1.9"/>
<circle cx="844.0" cy="1029.2" r="1.9"/>
<circle cx="793.8" cy="1019.0" r="1.9"/>
<circle cx="685.8" cy="928.1" r="1.9"/>
<circle cx="654.7" cy="888.4" r="1.9"/>
<circle cx="647.4" cy="852.3" r="1.9"/>
<circle cx="884.6" cy="1039.6" r="1.9"/>
<circle cx="639.8" cy="840.8" r="1.9"/>
<circle cx="692.4" cy="860.1" r="1.9"/>
<circle cx="854.0" cy="1058.5" r="1.9"/>
<circle cx="873.6" cy="1061.9" r="1.9"/>
<circle cx="709.5" cy="984.6" r="1.9"/>
<circle cx="926.7" cy="1075.7" r="1.9"/>
<circle cx="885.6" cy="1030.0" r="1.9"/>
<circle cx="856.4" cy="970.6" r="1.9"/>
<circle cx="845.3" cy="921.6" r="1.9"/>
<circle cx="882.6" cy="1029.3" r="1.9"/>
<circle cx="953.5" cy="969.9" r="1.9"/>
<circle cx="704.9" cy="806.2" r="1.9"/>
<circle cx="969.1" cy="1027.3" r="1.9"/>
<circle cx="739.7" cy="1040.2" r="1.9"/>
<circle cx="803.6" cy="980.9" r="1.9"/>
<circle cx="891.2" cy="1038.1" r="1.9"/>
<circle cx="781.0" cy="929.5" r="1.9"/>
<circle cx="806.1" cy="770.8" r="1.9"/>
<circle cx="520.8" cy="675.3" r="1.9"/>
<circle cx="846.7" cy="1043.4" r="1.9"/>
<circle cx="682.9" cy="831.3" r="1.9"/>
<circle cx="695.0" cy="990.1" r="1.9"/>
<circle cx="863.1" cy="1085.6" r="1.9"/>
<circle cx="808.4" cy="981.7" r="1.9"/>
<circle cx="817.6" cy="991.5" r="1.9"/>
<circle cx="784.9" cy="1002.6" r="1.9"/>
<circle cx="886.1" cy="1101.5" r="1.9"/>
<circle cx="865.2" cy="1088.4" r="1.9"/>
<circle cx="711.8" cy="901.9" r="1.9"/>
<circle cx="727.8" cy="966.8" r="1.9"/>
<circle cx="826.3" cy="1002.8" r="1.9"/>
<circle cx="762.2" cy="806.6" r="1.9"/>
<circle cx="894.7" cy="1026.2" r="1.9"/>
<circle cx="779.1" cy="848.3" r="1.9"/>
<circle cx="870.8" cy="849.3" r="1.9"/>
<circle cx="710.9" cy="991.9" r="1.9"/>
<circle cx="822.9" cy="975.4" r="1.9"/>
<circle cx="822.0" cy="984.0" r="1.9"/>
<circle cx="708.0" cy="914.3" r="1.8"/>
<circle cx="702.4" cy="869.0" r="1.8"/>
<circle cx="590.4" cy="814.0" r="1.8"/>
<circle cx="545.6" cy="715.1" r="1.8"/>
<circle cx="832.6" cy="1053.5" r="1.8"/>
<circle cx="918.2" cy="971.8" r="1.8"/>
<circle cx="705.4" cy="883.7" r="1.8"/>
<circle cx="875.6" cy="913.1" r="1.8"/>
<circle cx="836.5" cy="964.0" r="1.8"/>
<circle cx="898.7" cy="1105.9" r="1.8"/>
<circle cx="753.7" cy="978.5" r="1.8"/>
<circle cx="712.2" cy="1091.7" r="1.8"/>
<circle cx="777.6" cy="1003.1" r="1.8"/>
<circle cx="860.3" cy="1087.5" r="1.8"/>
<circle cx="719.5" cy="901.6" r="1.8"/>
<circle cx="809.6" cy="1018.2" r="1.8"/>
<circle cx="822.4" cy="1001.7" r="1.8"/>
<circle cx="889.4" cy="922.6" r="1.8"/>
<circle cx="611.5" cy="969.0" r="1.8"/>
<circle cx="889.4" cy="918.5" r="1.8"/>
<circle cx="754.2" cy="999.0" r="1.8"/>
<circle cx="682.8" cy="958.0" r="1.8"/>
<circle cx="823.6" cy="1014.6" r="1.8"/>
<circle cx="634.3" cy="832.5" r="1.8"/>
<circle cx="759.3" cy="931.5" r="1.8"/>
<circle cx="808.3" cy="957.9" r="1.8"/>
<circle cx="808.8" cy="905.7" r="1.8"/>
<circle cx="819.5" cy="987.1" r="1.8"/>
<circle cx="707.4" cy="842.2" r="1.8"/>
<circle cx="887.5" cy="1028.9" r="1.8"/>
<circle cx="842.3" cy="939.3" r="1.8"/>
<circle cx="661.7" cy="880.6" r="1.8"/>
<circle cx="791.7" cy="890.3" r="1.8"/>
<circle cx="694.8" cy="881.3" r="1.8"/>
<circle cx="779.7" cy="878.7" r="1.8"/>
<circle cx="757.0" cy="712.9" r="1.8"/>
<circle cx="963.1" cy="978.5" r="1.8"/>
<circle cx="855.7" cy="929.1" r="1.8"/>
<circle cx="720.1" cy="933.6" r="1.8"/>
<circle cx="875.9" cy="1028.6" r="1.8"/>
<circle cx="720.5" cy="871.0" r="1.8"/>
<circle cx="862.2" cy="1086.7" r="1.8"/>
<circle cx="862.6" cy="747.4" r="1.8"/>
<circle cx="852.4" cy="957.4" r="1.8"/>
<circle cx="878.8" cy="1094.3" r="1.8"/>
<circle cx="817.1" cy="906.9" r="1.8"/>
<circle cx="822.4" cy="1113.5" r="1.8"/>
<circle cx="931.2" cy="1058.5" r="1.8"/>
<circle cx="879.8" cy="1056.4" r="1.8"/>
<circle cx="835.4" cy="1094.7" r="1.8"/>
<circle cx="845.4" cy="1049.6" r="1.8"/>
<circle cx="854.1" cy="842.3" r="1.8"/>
<circle cx="873.1" cy="952.7" r="1.8"/>
<circle cx="766.9" cy="909.6" r="1.8"/>
<circle cx="837.0" cy="928.6" r="1.8"/>
<circle cx="753.3" cy="827.3" r="1.8"/>
<circle cx="895.7" cy="1053.7" r="1.8"/>
<circle cx="859.8" cy="960.7" r="1.7"/>
<circle cx="781.5" cy="1003.0" r="1.7"/>
<circle cx="726.8" cy="834.6" r="1.7"/>
<circle cx="866.0" cy="917.8" r="1.7"/>
<circle cx="932.9" cy="965.4" r="1.7"/>
<circle cx="794.7" cy="1053.7" r="1.7"/>
<circle cx="797.2" cy="1071.0" r="1.7"/>
<circle cx="844.3" cy="942.7" r="1.7"/>
<circle cx="757.3" cy="869.0" r="1.7"/>
<circle cx="894.5" cy="1061.2" r="1.7"/>
<circle cx="884.4" cy="978.5" r="1.7"/>
<circle cx="918.5" cy="1082.4" r="1.7"/>
<circle cx="760.2" cy="979.0" r="1.7"/>
<circle cx="956.8" cy="1057.6" r="1.7"/>
<circle cx="664.7" cy="916.1" r="1.7"/>
<circle cx="928.1" cy="863.0" r="1.7"/>
<circle cx="875.8" cy="1049.4" r="1.7"/>
<circle cx="810.2" cy="971.3" r="1.7"/>
<circle cx="896.3" cy="913.7" r="1.7"/>
<circle cx="596.6" cy="884.9" r="1.7"/>
<circle cx="743.9" cy="924.2" r="1.7"/>
<circle cx="663.7" cy="942.4" r="1.7"/>
<circle cx="761.2" cy="1001.5" r="1.7"/>
<circle cx="729.3" cy="1033.3" r="1.7"/>
<circle cx="753.1" cy="910.3" r="1.7"/>
<circle cx="874.2" cy="1057.5" r="1.7"/>
<circle cx="887.2" cy="1129.4" r="1.7"/>
<circle cx="734.8" cy="644.3" r="1.7"/>
<circle cx="895.2" cy="1087.8" r="1.7"/>
<circle cx="811.9" cy="889.8" r="1.7"/>
<circle cx="702.3" cy="853.3" r="1.7"/>
<circle cx="831.0" cy="932.6" r="1.7"/>
<circle cx="927.6" cy="846.3" r="1.7"/>
<circle cx="776.2" cy="858.2" r="1.7"/>
<circle cx="844.3" cy="933.7" r="1.7"/>
<circle cx="651.1" cy="896.2" r="1.7"/>
<circle cx="885.2" cy="1065.1" r="1.7"/>
<circle cx="723.2" cy="930.4" r="1.7"/>
<circle cx="714.0" cy="892.4" r="1.7"/>
<circle cx="580.3" cy="779.0" r="1.7"/>
<circle cx="822.6" cy="987.3" r="1.7"/>
<circle cx="854.1" cy="988.2" r="1.7"/>
<circle cx="637.5" cy="921.0" r="1.7"/>
<circle cx="801.8" cy="857.0" r="1.7"/>
<circle cx="789.4" cy="1019.9" r="1.7"/>
<circle cx="602.5" cy="824.8" r="1.7"/>
<circle cx="975.5" cy="1058.0" r="1.7"/>
<circle cx="907.7" cy="980.2" r="1.7"/>
<circle cx="797.6" cy="887.1" r="1.7"/>
<circle cx="889.8" cy="987.2" r="1.7"/>
<circle cx="718.9" cy="847.9" r="1.7"/>
<circle cx="998.1" cy="1069.5" r="1.7"/>
<circle cx="750.2" cy="936.6" r="1.7"/>
<circle cx="943.7" cy="999.8" r="1.7"/>
<circle cx="581.7" cy="881.2" r="1.7"/>
<circle cx="848.0" cy="962.6" r="1.7"/>
<circle cx="913.1" cy="1069.8" r="1.7"/>
<circle cx="957.3" cy="960.4" r="1.7"/>
<circle cx="707.1" cy="852.3" r="1.7"/>
<circle cx="821.2" cy="1032.7" r="1.7"/>
<circle cx="819.9" cy="1027.4" r="1.7"/>
<circle cx="804.0" cy="924.8" r="1.7"/>
<circle cx="875.0" cy="1033.1" r="1.7"/>
<circle cx="901.2" cy="1084.6" r="1.7"/>
<circle cx="900.3" cy="942.9" r="1.7"/>
<circle cx="935.3" cy="981.6" r="1.7"/>
<circle cx="537.5" cy="766.7" r="1.6"/>
<circle cx="812.4" cy="982.1" r="1.6"/>
<circle cx="825.4" cy="858.3" r="1.6"/>
<circle cx="943.2" cy="994.9" r="1.6"/>
<circle cx="722.0" cy="997.5" r="1.6"/>
<circle cx="841.3" cy="910.5" r="1.6"/>
<circle cx="958.1" cy="1050.9" r="1.6"/>
<circle cx="805.8" cy="928.5" r="1.6"/>
<circle cx="677.7" cy="875.4" r="1.6"/>
<circle cx="745.2" cy="812.2" r="1.6"/>
<circle cx="857.5" cy="908.5" r="1.6"/>
<circle cx="826.5" cy="1020.0" r="1.6"/>
<circle cx="846.1" cy="1097.8" r="1.6"/>
<circle cx="784.8" cy="931.0" r="1.6"/>
<circle cx="822.8" cy="959.6" r="1.6"/>
<circle cx="842.7" cy="923.9" r="1.6"/>
<circle cx="909.6" cy="976.8" r="1.6"/>
<circle cx="833.9" cy="941.4" r="1.6"/>
<circle cx="793.9" cy="1062.4" r="1.6"/>
<circle cx="834.4" cy="1042.0" r="1.6"/>
<circle cx="650.7" cy="853.4" r="1.6"/>
<circle cx="648.5" cy="874.5" r="1.6"/>
<circle cx="685.2" cy="823.4" r="1.6"/>
<circle cx="809.5" cy="988.3" r="1.6"/>
<circle cx="914.0" cy="1053.1" r="1.6"/>
</g>
<path d="M249.9 481.9h0M220.4 511.9h0M280.3 507.8h0M339.8 517.0h0M393.1 516.2h0M409.9 501.7h0M374.6 507.3h0M381.9 459.8h0M292.3 539.6h0M311.3 551.7h0M317.7 548.4h0M300.4 542.3h0M352.0 535.5h0M370.0 537.3h0M338.3 554.8h0M348.9 574.6h0M350.7 593.7h0M270.2 571.3h0M268.2 579.7h0M296.1 572.6h0M312.1 579.7h0M331.1 578.9h0M215.8 594.4h0M273.2 605.6h0M277.0 599.5h0M319.5 600.5h0M390.6 599.5h0M394.6 612.2h0M368.5 608.4h0M373.6 614.7h0M398.2 635.0h0M409.1 621.6h0M326.1 631.2h0M374.3 632.3h0M264.9 640.4h0M359.6 648.3h0M362.1 639.4h0M368.5 658.4h0M150.6 710.5h0M181.8 742.2h0M200.9 754.9h0M242.3 713.8h0M271.5 715.6h0M269.4 720.6h0M263.6 685.8h0M221.2 697.8h0M392.6 679.2h0M388.3 555.6h0M356.0 703.0h0M329.1 754.9h0M308.0 772.7h0M311.3 813.3h0M349.4 803.2h0M270.2 818.4h0M251.1 816.4h0M388.8 867.9h0M424.3 897.1h0M455.6 873.0h0M501.8 879.4h0M338.8 854.0h0M270.7 716.8h0M418.0 832.4h0M405.3 808.3h0M453.6 803.2h0M425.6 654.6h0M348.2 704.1h0M539.9 595.4h0M548.0 609.7h0M541.2 583.0h0M531.0 618.5h0M484.5 622.3h0M492.2 624.9h0M441.4 584.3h0M447.7 584.3h0M439.6 629.2h0M491.7 522.0h0M464.2 536.5h0M475.1 539.6h0M515.3 563.9h0M547.0 533.2h0M594.0 617.0h0M567.8 599.5h0M503.6 589.8h0M490.4 596.2h0M461.2 602.0h0M448.5 598.7h0M432.7 593.1h0M423.6 575.4h0M474.4 605.1h0M505.6 600.8h0M572.9 677.5h0M600.4 660.4h0M601.4 641.4h0M622.4 678.7h0M669.4 681.3h0M693.0 675.7h0M673.2 656.4h0M646.6 656.6h0M699.9 727.0h0M559.0 701.6h0M570.4 732.0h0M249.6 825.5h0M242.5 829.8h0M249.9 848.4h0M339.8 822.7h0M368.0 877.6h0M368.5 894.6h0M377.9 894.1h0M386.8 816.9h0M402.8 805.7h0M407.8 785.4h0M379.9 762.5h0M349.7 935.7h0M382.4 923.8h0M373.8 945.9h0M380.2 955.3h0M393.4 984.8h0M233.9 985.3h0M206.2 934.0h0M267.9 994.9h0M395.1 1032.5h0M412.2 1057.7h0M412.9 892.0h0M373.8 834.4h0M375.6 921.3h0M366.4 933.5h0M499.3 881.9h0M504.4 879.4h0M480.2 860.3h0M420.5 926.3h0M451.5 932.7h0M444.7 920.0h0M481.5 925.6h0M458.6 954.8h0M474.9 959.6h0M509.9 954.8h0M522.6 959.4h0M515.8 975.4h0M456.1 998.0h0M460.7 1020.3h0M527.7 1021.6h0M545.7 1020.6h0M541.7 1053.3h0M517.0 1074.9h0M569.6 1040.1h0M609.7 1033.0h0M622.4 1038.1h0M630.1 1038.9h0M562.8 916.2h0M581.8 911.9h0M604.7 934.7h0M613.6 935.2h0M536.9 948.7h0M541.9 934.7h0M579.5 963.2h0M540.4 979.7h0M559.2 889.5h0M534.8 913.1h0M583.1 930.2h0M566.1 941.6h0M623.7 961.9h0M625.0 977.1h0M623.7 997.0h0M648.6 956.1h0M678.3 951.7h0M701.2 992.4h0M683.9 997.5h0M641.5 1020.3h0M677.0 1019.6h0M664.3 1033.0h0M710.0 1017.8h0M734.2 1035.6h0M684.2 1066.0h0M727.8 1063.0h0M561.5 843.8h0M580.5 843.8h0M608.5 864.1h0M578.0 880.6h0M507.6 803.1h0M457.8 657.6h0M523.9 681.9h0M529.6 815.2h0M515.2 863.8h0M522.9 857.7h0M568.9 839.5h0M482.7 766.8h0M430.9 694.0h0M444.3 742.5h0M512.4 706.1h0M538.2 791.0h0M407.9 766.8h0M460.6 706.1h0M502.8 669.8h0M418.5 760.7h0M359.1 621.2h0M351.4 669.8h0M368.7 621.2h0M501.8 766.8h0M401.2 791.0h0M441.5 706.1h0M349.5 827.4h0M479.8 742.5h0M474.0 694.0h0M454.9 791.0h0M440.5 645.5h0M398.4 621.2h0M530.6 851.6h0M590.0 742.5h0M578.5 839.5h0M567.9 766.8h0M377.3 803.1h0M525.8 706.1h0M431.9 815.2h0M491.3 609.1h0M475.0 609.1h0M476.9 633.4h0M486.5 827.4h0M414.6 681.9h0M553.5 730.4h0M467.3 730.4h0M448.2 839.5h0M496.1 875.9h0M544.0 694.0h0M510.4 639.4h0M453.0 621.2h0M390.7 657.6h0M433.8 778.9h0M548.8 815.2h0M520.0 754.6h0M481.7 681.9h0M462.5 803.1h0M505.6 730.4h0M422.3 730.4h0M539.2 657.6h0M563.1 694.0h0M443.4 669.8h0M496.1 778.9h0M472.1 839.5h0M517.1 797.1h0M534.4 742.5h0M429.0 633.4h0M405.1 706.1h0M457.8 754.6h0M489.4 712.2h0M500.9 827.4h0M527.7 633.4h0M470.2 657.6h0M451.0 718.2h0M556.4 778.9h0M572.7 718.2h0M596.7 803.1h0M606.2 754.6h0M587.1 681.9h0M615.8 839.5h0M582.3 778.9h0M601.5 718.2h0M635.0 803.1h0M649.4 839.5h0M658.9 766.8h0M639.8 730.4h0M673.3 815.2h0M682.9 875.9h0M663.7 851.6h0M692.5 791.0h0M770.0 936.3h0M575.1 845.2h0M611.5 786.9h0M520.6 754.5h0M872.4 980.1h0M834.8 935.6h0M826.5 840.8h0M506.3 851.9h0M643.9 1038.4h0M730.8 829.3h0M920.7 1012.5h0M682.8 958.0h0M835.0 915.5h0M780.4 938.4h0M667.5 821.1h0M806.1 770.8h0M873.1 952.7h0M745.1 961.3h0M953.5 969.9h0M915.2 1010.5h0M622.0 850.2h0M499.6 764.6h0M835.1 988.3h0M810.5 1061.0h0M554.8 818.2h0M775.5 976.5h0M820.9 1044.9h0M602.8 764.7h0M670.7 785.2h0M797.6 887.1h0M917.7 1086.0h0M897.3 1037.8h0M684.4 772.1h0M806.6 1025.6h0M755.2 913.0h0M843.3 981.8h0M821.0 1002.4h0M591.9 859.5h0M612.4 810.3h0M725.8 884.8h0M773.5 938.6h0M774.5 952.0h0M673.0 850.7h0M807.0 1022.0h0M547.2 753.6h0M858.0 1000.1h0M897.8 1045.1h0M581.7 881.2h0M881.9 938.6h0M732.8 955.6h0M531.1 654.0h0M676.6 831.3h0M704.4 782.9h0M805.8 679.3h0M954.1 1082.3h0M728.8 990.4h0M617.5 819.0h0M825.1 1064.1h0M921.2 1014.7h0M599.6 858.7h0M867.9 1012.4h0M826.2 997.6h0M778.8 1021.9h0M855.2 1054.3h0M692.9 913.7h0M776.3 956.4h0M753.2 844.2h0M840.1 1007.5h0M837.5 1023.0h0M561.8 877.8h0M787.9 1067.8h0M762.4 1028.3h0M815.3 1069.3h0M586.8 839.9h0M881.0 968.9h0M448.4 704.5h0M831.6 1023.9h0M456.6 772.8h0M735.2 975.0h0M860.9 965.6h0M733.3 864.4h0M886.0 1026.8h0M886.0 994.0h0M674.9 867.1h0M650.1 938.7h0M764.0 923.7h0M656.7 783.2h0M825.3 1044.6h0M613.8 800.2h0M857.7 989.8h0M720.1 933.6h0M575.3 720.6h0M885.6 1030.0h0M922.6 1021.2h0M593.6 846.2h0M591.2 783.8h0M890.0 1048.8h0M738.2 788.2h0M895.2 1087.8h0M840.2 949.1h0M462.3 736.0h0M841.3 1060.3h0M471.0 718.7h0M597.8 768.7h0M906.8 1053.6h0M841.8 1070.4h0M896.6 1063.3h0M825.4 858.3h0M843.5 942.8h0M851.2 1029.2h0M753.2 818.4h0M626.2 949.0h0M539.4 782.8h0M843.6 971.9h0M738.0 923.4h0M791.0 979.5h0M680.7 912.0h0M848.7 1068.5h0M854.4 1024.7h0M575.5 836.2h0M935.2 1024.3h0M787.5 903.4h0M827.1 915.0h0M604.4 784.9h0M661.0 890.4h0M734.9 943.7h0M773.1 878.4h0M958.1 1050.9h0M730.9 981.0h0M913.7 1066.2h0M649.0 848.2h0M815.5 1001.0h0M660.6 923.2h0M583.2 800.9h0M774.0 1026.6h0M676.1 970.8h0M857.3 965.1h0M809.5 988.3h0M822.7 938.1h0M772.3 1000.9h0M916.9 957.3h0M895.9 1096.7h0M739.7 901.8h0M760.8 894.7h0M871.1 927.2h0M859.4 996.7h0M715.7 769.6h0M964.6 972.6h0M603.5 713.3h0M828.4 964.1h0M783.2 1005.4h0M772.0 979.2h0M868.9 985.8h0M870.8 849.3h0M772.6 885.2h0M759.3 931.5h0M933.7 1020.0h0M900.3 979.7h0M779.3 993.6h0M867.2 1031.1h0M418.0 705.9h0M776.4 1041.8h0M857.5 908.5h0M784.4 908.7h0M898.7 1105.9h0M855.0 983.0h0M822.4 1113.5h0M563.9 728.4h0M764.9 943.7h0M727.4 907.2h0M762.2 806.6h0M986.8 1040.2h0M694.9 785.1h0M795.2 909.1h0M752.1 987.9h0M861.8 1109.5h0M802.2 941.4h0M837.9 1100.3h0M882.2 1088.3h0M549.8 903.6h0M800.1 1014.4h0M700.7 827.7h0M542.2 790.3h0M774.4 869.8h0M594.4 787.6h0M648.8 910.2h0M747.5 870.6h0M737.9 712.0h0M797.2 985.0h0M737.0 1008.7h0M731.6 1006.2h0M791.5 868.5h0M844.3 942.7h0M546.4 799.9h0M649.2 950.7h0M831.4 992.1h0M494.0 757.0h0M747.6 983.8h0M887.2 1098.7h0M871.3 945.7h0M710.3 969.1h0M782.8 911.4h0M855.9 960.7h0M787.8 695.2h0M867.0 805.0h0M863.4 1020.4h0M820.6 885.4h0M773.8 911.1h0M673.3 787.6h0M788.1 940.7h0M925.0 1089.3h0M788.4 945.2h0M687.7 993.8h0M695.2 809.1h0M852.1 933.9h0M780.2 989.1h0M752.0 903.0h0M639.5 882.0h0M928.9 1063.3h0M692.5 933.2h0M978.2 989.6h0M917.6 1070.2h0M766.8 781.0h0M690.5 835.2h0M606.8 988.9h0M726.9 866.3h0M860.6 971.2h0M828.8 1049.4h0M885.2 1065.1h0M743.1 945.4h0M596.6 884.9h0M741.4 883.6h0M495.4 639.1h0M795.8 968.7h0M750.9 886.4h0M843.0 881.8h0M845.0 846.7h0M814.5 911.6h0M836.3 1006.2h0M601.1 876.3h0M861.8 978.9h0M646.2 902.3h0M780.1 978.0h0M891.2 955.7h0M921.2 974.2h0M599.2 842.4h0M438.3 811.3h0M879.9 984.2h0M907.7 980.2h0M684.8 843.5h0M842.3 939.3h0M692.6 772.2h0M581.6 703.2h0M764.5 885.7h0M801.3 1022.1h0M662.2 840.8h0M759.9 631.6h0M894.5 983.0h0M889.4 1024.0h0M643.5 867.3h0M564.4 803.7h0M542.2 836.6h0M588.9 786.1h0M822.6 987.3h0M861.1 1052.2h0M752.5 968.1h0M503.2 711.9h0M556.7 904.2h0M643.0 886.2h0M801.3 861.0h0M536.1 832.2h0M622.3 819.8h0M590.5 723.8h0M774.4 806.0h0M982.9 1067.8h0M639.8 840.8h0M616.6 949.0h0M784.7 899.4h0M685.8 928.1h0M791.9 1032.3h0M655.2 853.3h0M820.3 966.0h0M973.8 976.7h0M519.0 849.9h0M761.2 1051.9h0M707.1 852.3h0M695.3 813.1h0M756.9 954.1h0M511.4 884.3h0M832.4 879.8h0M695.5 891.0h0M648.5 816.2h0M661.4 881.3h0M785.6 956.5h0M709.5 984.6h0M654.6 785.7h0M685.5 1019.5h0M780.2 838.4h0M653.4 900.6h0M651.2 814.9h0M619.1 907.2h0M785.3 977.7h0M862.6 747.4h0M783.8 997.9h0M727.6 821.7h0M618.3 911.5h0M662.8 773.5h0M701.6 842.8h0M875.0 1033.1h0M852.3 944.2h0M541.1 772.3h0M844.0 873.0h0M831.7 1034.6h0M858.8 1045.3h0M687.3 908.9h0M826.5 1020.0h0M891.6 1021.1h0M554.5 919.9h0M830.4 1061.6h0M651.5 861.5h0M672.0 912.7h0M770.6 965.0h0M516.6 733.0h0M773.8 841.1h0M713.2 952.0h0M671.1 865.6h0M921.7 956.9h0M853.2 1073.2h0M954.4 1028.8h0M664.7 916.1h0M823.7 931.4h0M947.0 1057.2h0M782.1 887.3h0M505.1 797.0h0M699.3 1006.7h0M725.2 1015.3h0M950.3 1060.8h0M537.3 761.3h0M799.5 835.2h0M768.7 880.4h0M847.1 1017.3h0M770.3 926.3h0M906.3 922.2h0M628.0 805.4h0M817.1 906.9h0M696.5 898.1h0M931.5 1070.4h0M831.4 985.5h0M735.7 928.7h0M567.5 820.8h0M378.9 798.0h0M923.2 1075.2h0M907.8 1074.3h0M708.3 941.4h0M516.2 785.1h0M698.3 810.6h0M856.5 1006.1h0M833.3 975.3h0M793.1 986.3h0M547.5 758.2h0M777.9 965.6h0M894.9 1029.6h0M879.0 911.8h0M537.5 766.7h0M813.4 1050.2h0M510.5 788.5h0M753.7 942.3h0M829.5 1087.8h0M797.3 1008.0h0M707.4 842.2h0M690.1 804.1h0M839.1 1043.2h0M578.5 733.5h0M760.4 967.3h0M883.7 944.9h0M691.7 1001.7h0M739.5 838.6h0M739.7 1040.2h0M577.6 849.9h0M719.5 901.6h0M430.7 659.4h0M757.0 712.9h0M811.5 1042.4h0M631.6 872.3h0M894.9 1008.4h0M566.2 733.7h0M616.4 807.4h0M886.5 1068.2h0M488.2 736.1h0M744.7 1028.2h0M509.9 760.9h0M640.9 784.2h0M592.0 893.6h0M812.6 793.0h0M852.4 1038.5h0M720.5 894.4h0M556.3 829.4h0M763.5 934.0h0M872.1 1038.3h0M604.0 816.5h0M766.4 1009.6h0M890.4 1097.8h0M583.2 697.0h0M676.8 876.4h0M654.5 883.2h0M943.0 1018.2h0M799.9 959.3h0M749.2 991.4h0M708.0 914.3h0M642.6 874.1h0M618.3 875.9h0M722.0 797.1h0M707.6 907.7h0M703.4 834.9h0M849.8 1003.8h0M630.7 929.4h0M629.8 790.7h0M939.6 970.3h0M947.1 906.7h0M952.1 1034.7h0M706.1 827.0h0M801.6 832.9h0M795.0 871.4h0M830.2 852.3h0M936.8 1094.5h0M943.4 1029.4h0M838.3 998.1h0M670.7 794.7h0M836.3 1005.4h0M596.5 851.1h0M623.1 863.8h0M798.6 1035.4h0M790.6 1016.1h0M840.5 888.5h0M901.4 1021.3h0M505.4 792.5h0M730.8 818.1h0M895.4 1102.2h0M608.9 906.1h0M943.7 999.8h0M689.0 954.2h0M602.4 746.6h0M697.6 886.7h0M679.9 916.2h0M944.1 1070.2h0M597.8 864.0h0M647.8 794.6h0M663.0 859.6h0M849.5 934.7h0M861.9 1031.3h0M734.3 1071.4h0M596.2 951.0h0M775.1 823.2h0M713.3 880.9h0M658.7 809.4h0M895.4 1018.1h0M522.3 768.3h0M858.2 1065.5h0M606.0 830.3h0M976.4 1142.6h0M605.9 982.8h0M786.3 855.8h0M730.1 863.6h0M736.7 854.9h0M754.9 893.5h0M739.7 823.8h0M844.3 933.7h0M816.4 949.5h0M719.0 704.3h0M864.8 1004.9h0M639.8 893.7h0M885.8 1033.5h0M874.2 1057.5h0M774.4 1036.2h0M635.4 836.9h0M797.1 1018.9h0M800.8 916.7h0M598.7 924.2h0M913.1 1069.8h0M968.1 1001.6h0M786.7 1035.1h0M681.8 940.3h0M585.2 737.1h0M615.9 777.5h0M861.0 986.6h0M908.7 884.7h0M793.2 796.2h0M910.7 989.3h0M576.5 896.0h0M645.2 807.1h0M794.8 1004.5h0M780.8 960.1h0M783.9 1047.6h0M894.7 1053.1h0M656.0 769.7h0M490.1 777.4h0M551.9 800.1h0M884.0 1072.3h0M790.5 948.6h0M818.3 1031.6h0M914.0 1053.1h0M915.0 990.9h0M787.8 822.3h0M860.4 951.1h0M708.7 903.8h0M458.3 693.0h0M743.9 924.2h0M897.6 965.3h0M844.6 1085.2h0M753.3 930.2h0M882.4 1011.6h0M912.0 971.0h0M554.2 962.8h0M833.9 941.4h0M854.0 1058.5h0M833.9 947.4h0M876.9 1088.5h0M647.1 706.0h0M644.6 718.8h0M762.7 982.4h0M920.4 995.6h0M870.3 992.2h0M933.9 1096.3h0M758.1 986.9h0M866.2 1067.6h0M840.2 955.4h0M753.7 978.5h0M735.0 800.7h0M677.4 994.5h0M739.2 912.8h0M776.9 922.4h0M791.7 890.3h0M819.5 961.1h0M553.9 857.8h0M678.3 836.4h0M811.7 1031.7h0M447.8 701.3h0M809.6 917.1h0M691.8 751.3h0M775.6 919.5h0M900.1 1014.9h0M892.1 938.4h0M793.0 925.7h0M792.7 921.6h0M650.1 865.4h0M873.5 924.1h0M776.4 936.4h0M819.1 878.2h0M774.9 892.1h0M901.9 896.6h0M852.2 1044.5h0M843.4 1040.1h0M766.9 909.6h0M749.0 811.6h0M716.7 784.4h0M666.6 868.2h0M543.4 887.5h0M789.2 936.2h0M578.0 891.7h0M529.7 674.0h0M814.3 1019.8h0M696.1 940.3h0M621.0 1119.0h0M800.8 937.4h0M879.8 1056.4h0M688.5 821.2h0M915.5 1029.7h0M827.3 936.0h0M729.8 1010.0h0M869.6 1019.3h0M445.8 829.4h0M592.1 876.6h0M516.2 886.3h0M848.3 1006.8h0M831.8 924.6h0M904.3 1051.6h0M674.7 793.2h0M913.2 1074.8h0M943.2 994.9h0M948.6 1041.8h0M467.6 766.6h0M901.1 1029.9h0M676.6 1135.1h0M436.9 851.2h0M854.5 1052.6h0M654.8 811.7h0M884.3 961.9h0M943.4 1046.7h0M857.0 1032.9h0M930.6 1096.2h0M721.3 855.5h0M707.4 1048.0h0M809.1 914.0h0M881.8 998.7h0M696.0 924.2h0M717.4 894.8h0M868.8 1075.1h0M647.4 852.3h0M853.2 1083.5h0M662.4 825.5h0M893.2 969.4h0M807.4 1004.5h0M691.0 894.9h0M863.2 1025.0h0M765.7 1072.8h0M666.5 803.4h0M738.8 857.2h0M615.4 917.1h0M644.3 743.0h0M770.9 898.6h0M723.8 952.2h0M696.2 966.3h0M741.0 895.9h0M739.6 875.3h0M803.7 1102.3h0M831.0 932.6h0M821.2 708.4h0M816.2 953.2h0M863.9 1084.6h0M793.8 1019.0h0M611.5 969.0h0M880.1 1062.6h0M729.6 850.3h0M759.4 975.9h0M866.0 917.8h0M553.7 725.3h0M551.0 768.9h0M730.0 911.5h0M729.0 900.9h0M841.0 994.2h0M676.7 905.1h0M756.5 798.1h0M855.5 1080.8h0M578.9 810.8h0M669.7 743.1h0M572.0 852.1h0M586.9 857.6h0M876.5 1020.2h0M818.8 982.3h0M771.8 893.8h0M662.9 791.0h0M895.8 1023.5h0M605.3 888.3h0M694.7 943.9h0M599.0 548.8h0M813.9 993.4h0M948.6 1074.6h0M723.6 989.7h0M894.4 1019.0h0M500.6 811.8h0M544.5 761.5h0M590.3 769.7h0M716.8 916.6h0M853.0 958.4h0M863.5 1070.2h0M611.4 812.5h0M901.2 1084.6h0M739.6 908.5h0M820.6 912.4h0M738.2 956.3h0M828.0 959.0h0M754.2 910.1h0M598.8 904.5h0M844.2 1034.4h0M420.6 810.0h0M555.0 740.5h0M726.8 834.6h0M701.9 753.9h0M784.8 964.0h0M858.8 1100.1h0M696.3 953.6h0M794.4 1014.6h0M611.4 789.9h0M895.2 1041.7h0M828.7 974.3h0M488.8 840.1h0M602.8 756.9h0M536.7 687.4h0M588.1 749.9h0M858.9 1069.3h0M801.4 896.1h0M535.2 696.5h0M908.0 1038.6h0M650.5 917.5h0M642.4 803.3h0M894.5 1013.5h0M727.3 743.8h0M796.9 939.6h0M598.8 882.3h0M513.2 673.5h0M671.7 862.1h0M686.4 938.2h0M764.0 905.2h0M810.4 993.3h0M871.6 1034.7h0M601.8 878.6h0M752.3 926.3h0M957.8 885.7h0M917.4 1059.8h0M737.1 843.5h0M651.3 881.4h0M808.6 985.3h0M800.5 1046.1h0M874.8 1187.2h0M673.5 828.3h0M700.8 919.9h0M887.3 899.5h0M384.5 603.8h0M975.8 970.2h0M711.3 909.1h0M755.3 964.5h0M724.1 944.4h0M681.7 788.4h0M533.8 772.1h0M845.8 1012.5h0M602.2 803.2h0M974.0 1031.5h0M626.6 753.1h0M573.6 915.2h0M554.4 897.7h0M786.1 1024.6h0M894.8 986.9h0M584.4 895.5h0M749.1 924.4h0M884.9 955.8h0M782.1 853.7h0M844.7 915.0h0M848.1 1055.6h0M781.0 929.5h0M886.1 1101.5h0M947.1 1052.5h0M879.7 1018.0h0M799.2 910.7h0M833.3 1016.1h0M729.7 939.3h0M827.8 1068.3h0M516.8 768.7h0M787.6 1086.1h0M755.6 926.7h0M639.5 963.8h0M798.5 1080.8h0M851.6 938.2h0M408.0 707.3h0M623.8 811.7h0M746.7 824.5h0M502.9 708.8h0M875.1 845.6h0M861.9 1002.1h0M697.7 901.0h0M910.3 909.4h0M866.3 953.5h0M611.2 731.6h0M801.1 849.5h0M883.5 821.1h0M616.0 894.9h0M579.6 873.9h0M724.1 924.7h0M750.0 743.9h0M651.1 896.2h0M921.9 993.0h0M939.6 1025.1h0M697.0 598.1h0M851.1 979.6h0M765.8 970.0h0M826.3 1002.8h0M740.9 1034.5h0M831.5 904.8h0M609.4 763.6h0M600.9 868.7h0M806.4 917.6h0M723.1 914.2h0M759.9 1026.3h0M845.9 959.6h0M727.7 846.4h0M811.6 909.7h0M885.8 1095.4h0M694.0 1009.7h0M754.9 1017.1h0M834.4 1042.0h0M889.9 955.5h0M529.0 860.5h0M614.8 941.1h0M975.5 1058.0h0M664.6 957.9h0M565.8 817.0h0M682.9 831.3h0M826.8 848.4h0M824.4 1011.4h0M803.3 958.6h0M704.9 806.2h0M879.4 1039.1h0M637.5 755.9h0M584.3 866.0h0M647.8 819.4h0M920.3 1030.7h0M821.5 856.7h0M843.2 991.7h0M642.4 756.8h0M571.7 799.1h0M539.2 786.0h0M663.7 942.4h0M560.1 859.1h0M498.3 781.5h0M649.7 828.7h0M691.5 983.0h0M813.5 985.5h0M627.7 924.7h0M635.8 817.8h0M897.6 1073.5h0M896.5 994.8h0M611.0 895.5h0M631.9 689.8h0M818.9 955.6h0M742.6 768.6h0M839.4 862.3h0M928.8 1080.7h0M753.7 1027.5h0M770.2 830.5h0M779.5 934.9h0M714.0 892.4h0M599.5 702.9h0M722.0 997.5h0M955.8 1003.9h0M596.5 722.6h0M694.2 851.1h0M538.3 813.4h0M802.2 889.6h0M871.3 1051.0h0M870.4 1043.8h0M819.9 1027.4h0M747.6 941.1h0M686.5 810.1h0M752.8 807.7h0M815.7 958.9h0M846.7 854.6h0M847.9 1078.7h0M734.8 860.9h0M715.1 777.5h0M624.6 824.4h0M898.9 986.5h0M648.5 874.5h0M917.3 1007.5h0M688.8 886.5h0M669.4 490.0h0M752.9 915.1h0M947.3 1044.9h0M807.2 1079.1h0M783.5 775.2h0M813.4 974.3h0M733.0 1056.1h0M944.3 988.6h0M784.6 1085.9h0M884.4 978.5h0M779.4 1043.9h0M565.3 875.4h0M839.6 1015.5h0M816.6 956.3h0M804.4 986.2h0M715.5 897.6h0M668.3 831.1h0M619.0 813.5h0M768.5 915.9h0M822.4 1001.7h0M686.8 800.6h0M661.7 880.6h0M734.9 971.7h0M832.8 951.0h0M584.6 745.5h0M824.4 998.3h0M836.3 932.2h0M797.0 918.0h0M706.1 922.0h0M619.0 751.2h0M887.1 1083.1h0M843.2 1077.2h0M879.2 1023.3h0M530.0 888.7h0M685.2 834.5h0M430.0 690.3h0M966.3 975.5h0M757.3 869.0h0M950.2 1079.8h0M674.9 797.2h0M788.1 885.5h0M641.2 797.8h0M676.5 910.7h0M743.7 951.7h0M518.0 860.9h0M740.4 970.9h0M828.4 1014.9h0M902.3 1061.3h0M496.2 727.0h0M851.6 923.7h0M573.7 791.9h0M849.3 970.8h0M696.3 758.6h0M786.3 901.3h0M873.1 1005.2h0M562.8 863.2h0M818.6 864.5h0M681.2 820.4h0M558.8 744.1h0M637.5 921.0h0M938.1 958.6h0M730.0 1037.6h0M798.0 891.5h0M606.7 856.5h0M897.4 845.5h0M497.2 754.6h0M873.6 1061.9h0M837.5 992.5h0M593.2 888.6h0M645.3 871.8h0M911.8 961.2h0M456.5 663.0h0M630.1 963.3h0M866.4 1078.1h0M721.4 889.9h0M637.3 740.7h0M884.6 1039.6h0M766.2 1022.4h0M772.9 781.5h0M814.6 975.9h0M833.8 1087.9h0M901.4 957.1h0M679.6 803.9h0M735.7 821.0h0M797.7 965.1h0M721.3 954.7h0M860.7 926.2h0M629.1 826.9h0M912.6 1061.0h0M800.2 1098.2h0M887.8 946.3h0M939.0 934.4h0M518.6 619.1h0M672.1 839.3h0M629.6 949.8h0M893.9 1124.7h0M822.0 874.3h0M606.9 843.1h0M709.2 645.1h0M646.4 888.0h0M492.8 792.1h0M802.8 962.2h0M594.4 811.9h0M867.3 1024.4h0M537.1 716.4h0M652.1 858.5h0M604.2 828.0h0M850.0 1082.6h0M668.6 816.8h0M856.4 970.6h0M796.9 946.2h0M813.0 1005.4h0M738.6 965.2h0M586.2 1009.0h0M590.4 752.8h0M767.1 877.0h0M586.6 650.7h0M752.0 863.3h0M572.6 819.2h0M657.8 974.6h0M836.1 1035.7h0M591.0 762.9h0M650.2 808.9h0M894.5 1061.2h0M702.8 850.3h0M761.2 1001.5h0M893.3 1072.4h0M734.8 644.3h0M803.0 863.7h0M889.6 1092.1h0M478.1 752.8h0M688.6 923.6h0M913.4 1041.6h0M737.9 868.6h0M583.3 886.9h0M977.1 1040.9h0M711.7 844.2h0M720.3 963.1h0M746.6 921.9h0M891.0 1042.9h0M846.2 1000.8h0M890.3 974.9h0M762.9 878.4h0M672.2 962.3h0M962.7 897.4h0M655.7 870.1h0M667.5 961.5h0M961.2 1016.1h0M500.5 797.7h0M730.5 875.0h0M688.3 736.5h0M860.5 1009.9h0M743.5 844.7h0M862.6 998.7h0M656.0 919.5h0M669.2 937.6h0M730.4 881.6h0M638.7 831.2h0M677.5 963.5h0M687.9 928.6h0M887.0 1020.6h0M833.1 1061.9h0M697.3 833.2h0M806.5 1009.9h0M865.0 1016.9h0M768.5 940.1h0M869.0 1069.2h0M822.9 975.4h0M804.0 924.8h0M871.7 1028.8h0M769.5 683.9h0M660.1 900.0h0M771.4 960.0h0M564.5 742.1h0M906.2 973.6h0M848.3 974.1h0M847.8 884.5h0M850.1 1032.4h0M657.1 756.5h0M502.4 677.9h0M860.3 1096.2h0M773.5 928.3h0M742.2 991.8h0M809.2 892.5h0M598.2 604.0h0M780.4 1030.1h0M435.1 672.6h0M936.1 1003.9h0M728.1 1012.6h0M790.9 971.4h0M461.1 831.6h0M833.9 1012.3h0M734.9 687.7h0M881.1 1020.8h0M683.0 783.4h0M864.0 1048.7h0M638.2 844.1h0M550.7 727.4h0M556.3 763.0h0M618.7 924.8h0M843.9 958.3h0M547.5 789.2h0M880.1 1003.3h0M814.9 1035.1h0M793.0 1001.2h0M497.0 668.1h0M653.9 953.6h0M735.8 889.7h0M892.6 949.5h0M726.7 893.1h0M826.5 993.9h0M805.8 928.5h0M461.9 836.6h0M822.2 992.7h0M454.6 685.8h0M656.8 1029.0h0M626.4 894.9h0M745.2 812.2h0M699.9 1021.0h0M752.1 869.6h0M817.8 930.2h0M779.5 904.9h0M546.5 691.7h0M725.3 869.0h0M694.4 904.4h0M575.3 779.9h0M869.2 1048.1h0M806.0 952.0h0M851.4 797.1h0M820.2 1090.7h0M673.7 785.2h0M831.8 1049.6h0M731.5 833.7h0M733.0 882.6h0M754.6 947.4h0M723.1 903.0h0M891.8 1017.5h0M875.8 1049.4h0M712.0 947.4h0M788.4 791.5h0M806.5 1059.6h0M777.6 1003.1h0M687.1 805.0h0M854.0 1014.1h0M850.6 927.1h0M805.3 968.8h0M731.3 975.2h0M798.7 927.0h0M747.7 832.2h0M796.7 875.5h0M963.1 978.5h0M554.3 765.9h0M768.5 975.7h0M526.5 799.9h0M684.6 872.0h0M785.4 972.6h0M524.0 671.1h0M848.4 1067.9h0M759.5 826.9h0M870.8 1030.6h0M775.8 1009.1h0M621.5 988.2h0M908.8 1100.3h0M760.7 913.5h0M754.8 971.6h0M585.0 725.5h0M817.0 965.1h0M501.7 802.7h0M780.7 925.7h0M690.7 891.5h0M745.8 867.8h0M748.0 1014.7h0M604.7 751.7h0M607.6 821.6h0M575.0 868.3h0M765.7 900.4h0M781.5 1007.9h0M822.9 1041.9h0M620.9 869.1h0M692.3 923.3h0M901.6 1043.4h0M486.8 699.5h0M612.8 906.4h0M638.3 871.0h0M741.5 738.1h0M729.5 747.6h0M760.6 937.2h0M633.5 794.6h0M833.6 848.3h0M751.2 951.7h0M690.4 929.9h0M879.1 1027.3h0M659.2 804.3h0M612.3 747.3h0M806.9 934.7h0M789.3 930.9h0M909.9 1054.8h0M703.8 909.6h0M942.0 1094.2h0M774.5 1056.3h0M662.6 830.8h0M962.1 987.4h0M555.5 535.0h0M779.9 897.6h0M872.7 1082.6h0M798.4 1031.8h0M686.5 863.4h0M839.0 866.3h0M726.5 964.1h0M953.3 1042.3h0M685.1 924.6h0M801.6 1050.5h0M801.8 857.0h0M868.7 949.1h0M475.5 799.5h0M906.3 1037.0h0M795.6 996.2h0M619.3 784.0h0M834.1 922.1h0M905.0 992.3h0M875.6 945.8h0M773.6 924.5h0M777.9 1016.8h0M657.9 830.9h0M734.9 867.1h0M683.7 849.2h0M715.4 973.5h0M850.6 941.1h0M810.2 971.3h0M777.1 861.7h0M659.7 962.5h0M753.4 853.5h0M870.8 834.0h0M916.9 998.7h0M935.3 981.6h0M723.2 1042.8h0M917.3 1090.3h0M442.8 915.9h0M762.6 871.6h0M813.9 931.8h0M668.9 922.2h0M800.1 979.0h0M933.1 945.6h0M938.6 1100.7h0M798.1 974.2h0M646.9 774.7h0M727.8 966.8h0M807.0 1015.1h0M926.9 1113.3h0M700.4 880.1h0M833.4 962.8h0M772.4 913.7h0M665.4 931.3h0M524.1 718.0h0M582.3 648.6h0M565.5 832.5h0M758.1 1014.8h0M742.5 987.3h0M655.7 1014.0h0M856.5 932.5h0M756.8 819.0h0M588.7 737.2h0M640.4 929.0h0M773.1 948.5h0M718.4 957.1h0M595.4 840.2h0M582.2 679.8h0M593.7 663.6h0M864.8 996.2h0M857.3 1037.7h0M609.9 855.6h0M552.3 719.4h0M546.2 800.2h0M763.7 844.7h0M835.2 899.4h0M515.2 747.0h0M763.9 909.6h0M661.9 913.7h0M770.5 1041.8h0M699.3 851.1h0M778.5 941.9h0M568.2 872.1h0M639.1 982.9h0M757.9 857.3h0M676.9 768.8h0M779.7 878.7h0M771.5 909.1h0M632.7 728.6h0M787.6 923.2h0M981.5 967.1h0M772.1 833.0h0M764.5 813.9h0M856.0 923.9h0M531.3 839.7h0M572.3 805.5h0M696.1 979.8h0M720.5 871.0h0M829.7 807.3h0M521.4 884.3h0M791.3 877.2h0M817.6 794.1h0M688.4 949.5h0M867.9 1059.3h0M820.3 1069.2h0M692.4 918.1h0M609.1 816.2h0M853.5 991.6h0M768.9 1019.3h0M858.0 1015.4h0M677.7 875.4h0M978.0 957.4h0M641.8 846.6h0M523.3 703.3h0M813.7 963.7h0M941.1 1078.1h0M746.0 898.6h0M449.1 653.6h0M644.4 724.1h0M924.8 995.9h0M703.2 924.8h0M819.2 890.2h0M770.7 909.9h0M695.0 1057.2h0M770.8 1056.4h0M784.6 1074.7h0M797.5 838.2h0M734.5 744.9h0M672.0 919.9h0M961.9 946.2h0M468.3 710.1h0M843.6 1023.0h0M841.5 927.7h0M760.4 851.1h0M879.1 964.2h0M645.7 803.4h0M866.3 977.0h0M875.4 1004.5h0M903.1 1133.2h0M623.1 794.7h0M624.8 869.7h0M748.9 961.0h0M624.5 756.9h0M745.9 852.7h0M928.7 997.7h0M470.7 681.7h0M808.4 1037.3h0M651.9 924.4h0M453.1 752.3h0M883.8 990.5h0M890.3 967.1h0M967.0 992.1h0M909.3 1026.3h0M845.4 927.7h0M845.6 949.2h0M758.6 1008.7h0M682.4 793.2h0M707.5 909.3h0M677.2 943.5h0M678.8 853.2h0M809.4 877.8h0M799.8 955.2h0M691.8 829.7h0M723.2 841.4h0M829.3 1009.2h0M391.8 639.7h0M648.5 913.3h0M775.0 805.2h0M812.8 949.6h0M662.3 740.8h0M930.6 977.7h0M640.7 812.8h0M898.3 1001.8h0M873.0 1009.9h0M832.5 981.2h0M756.7 919.3h0M498.0 747.9h0M634.3 832.5h0M757.0 1028.0h0M789.5 975.9h0M735.7 1087.0h0M904.6 1073.6h0M998.1 1069.5h0M948.9 1094.4h0M894.3 1076.6h0M881.8 1119.2h0M751.5 887.1h0M860.5 897.8h0M559.9 795.7h0M861.9 1062.0h0M808.7 861.2h0M825.2 962.4h0M590.4 814.0h0M800.1 998.9h0M786.4 1045.5h0M745.4 821.3h0M676.2 861.6h0M572.6 681.4h0M492.7 841.5h0M548.0 821.9h0M863.2 928.0h0M744.8 939.9h0M912.7 1020.6h0M658.1 880.2h0M460.0 780.3h0M779.1 848.3h0M865.2 1088.4h0M699.0 798.0h0M678.8 868.1h0M917.7 988.3h0M719.3 843.0h0M619.0 862.4h0M798.3 1004.4h0M672.3 876.1h0M903.6 1067.0h0M691.1 859.1h0M651.4 871.6h0M695.6 983.1h0M730.5 841.2h0M574.9 757.5h0M716.6 746.4h0M750.3 906.9h0M749.6 995.4h0M838.3 1029.1h0M621.2 854.6h0M909.1 1017.8h0M755.3 833.3h0M579.9 815.1h0M831.1 916.5h0M605.9 769.8h0M643.4 890.4h0M905.8 933.9h0M826.7 1028.3h0M904.4 968.1h0M784.8 931.0h0M643.0 706.6h0M813.4 1012.3h0M890.9 1013.3h0M797.2 883.8h0M676.0 1060.0h0M542.5 826.1h0M851.2 985.6h0M793.8 882.7h0M759.6 904.2h0M846.7 1043.4h0M808.8 905.7h0M865.4 987.8h0M784.9 876.6h0M731.0 962.7h0M783.9 935.1h0M623.9 782.3h0M932.9 965.4h0M604.6 875.8h0M765.8 951.2h0M668.9 914.5h0M686.4 852.2h0M807.1 866.3h0M733.1 881.2h0M683.1 889.5h0M902.0 1004.7h0M671.4 808.6h0M693.2 1036.9h0M733.0 909.1h0M696.8 863.9h0M503.3 698.1h0M836.3 954.8h0M735.1 913.8h0M802.2 990.3h0M544.8 703.7h0M798.0 950.7h0M564.0 503.1h0M547.5 763.3h0M770.4 972.7h0M572.9 877.6h0M677.4 825.1h0M589.7 832.4h0M431.3 774.2h0M931.1 1084.1h0M557.8 769.7h0M734.9 896.8h0M712.2 1091.7h0M959.8 1101.6h0M804.9 927.3h0M799.1 920.4h0M520.0 706.6h0M754.4 916.0h0M563.7 912.8h0M836.0 977.4h0M594.5 819.4h0M864.3 1034.1h0M755.2 815.6h0M673.1 763.5h0M798.6 1043.1h0M456.9 727.5h0M844.9 887.3h0M733.1 854.8h0M665.3 828.6h0M847.8 992.2h0M907.8 1090.5h0M796.6 1096.1h0M585.3 803.4h0M905.1 901.5h0M651.2 884.5h0M510.1 816.1h0M751.4 1019.1h0M747.6 908.6h0M928.5 1034.5h0M729.4 1024.8h0M629.5 855.1h0M854.8 1062.9h0M798.4 1023.9h0M728.3 948.5h0M731.1 936.7h0M783.2 1016.9h0M855.6 1055.0h0M734.3 989.1h0M752.9 777.5h0M963.4 991.2h0M877.2 994.9h0M772.2 798.8h0M758.2 1052.5h0M901.8 1082.9h0M809.6 1018.2h0M982.0 997.3h0M726.3 714.0h0M643.7 851.9h0M816.5 915.4h0M591.3 855.9h0M901.1 1057.0h0M712.5 940.5h0M814.8 1020.1h0M605.6 1005.3h0M738.2 938.2h0M838.9 984.7h0M670.0 953.0h0M564.6 780.9h0M729.4 836.4h0M776.1 982.3h0M601.3 787.4h0M916.3 1094.3h0M553.7 824.6h0M656.3 822.2h0M869.2 875.1h0M887.6 1067.4h0M727.6 920.7h0M701.0 877.5h0M834.4 957.5h0M735.2 1076.6h0M677.1 815.5h0M828.7 1043.6h0M659.9 817.2h0M692.3 970.2h0M837.0 1009.8h0M953.4 1013.6h0M668.8 723.0h0M603.9 839.1h0M881.9 1167.5h0M823.6 1014.6h0M860.3 1087.5h0M720.9 820.4h0M491.9 745.0h0M864.5 980.7h0M632.9 897.2h0M725.4 978.5h0M897.3 928.8h0M829.8 1039.9h0M615.8 738.0h0M740.6 809.7h0M870.0 1007.8h0M730.9 892.1h0M918.5 1082.4h0M870.5 936.7h0M788.8 914.2h0M794.2 987.0h0M875.6 1053.8h0M690.4 918.8h0M873.5 966.4h0M451.8 832.6h0M639.8 830.3h0M754.2 999.0h0M755.6 875.8h0M906.0 984.9h0M826.8 911.4h0M774.9 926.1h0M877.4 968.7h0M712.6 895.2h0M510.7 723.2h0M567.7 805.7h0M629.8 835.6h0M665.5 1168.5h0M663.3 865.5h0M596.5 876.9h0M512.3 790.5h0M660.1 828.1h0M764.8 1031.7h0M865.5 1008.6h0M761.4 818.4h0M792.1 995.2h0M654.3 877.6h0M887.2 1006.4h0M614.5 825.0h0M882.9 1059.8h0M762.6 927.9h0M754.6 992.5h0M736.1 877.0h0M842.7 923.9h0M856.1 1217.1h0M853.0 1066.1h0M749.4 929.6h0M818.3 849.0h0M624.7 853.1h0M800.9 803.2h0M940.5 1089.1h0M779.5 953.9h0M860.3 1036.2h0M877.3 1013.9h0M937.2 1032.9h0M938.9 1054.9h0M675.9 846.7h0M897.8 1050.4h0M851.7 951.7h0M710.9 1023.6h0M928.5 1070.1h0M808.4 981.7h0M873.3 837.5h0M784.1 982.8h0M760.2 979.0h0M538.7 887.3h0M764.7 866.4h0M836.8 950.9h0M733.0 940.7h0M881.7 965.3h0M860.8 891.8h0M771.8 1011.1h0M558.8 824.2h0M645.9 846.9h0M908.8 1019.7h0M725.9 1075.3h0M796.1 965.6h0M643.6 817.9h0M705.7 939.5h0M751.1 1067.8h0M535.4 808.4h0M449.6 886.3h0M820.5 1013.5h0M567.1 707.2h0M644.5 836.0h0M806.3 1100.7h0M727.3 801.2h0M882.0 980.4h0M793.8 975.4h0M750.2 936.6h0M822.4 970.8h0M750.6 780.6h0M600.9 929.8h0M854.1 988.2h0M744.3 969.8h0M866.1 944.0h0M868.0 1084.9h0M726.4 1002.7h0M599.8 827.9h0M790.1 895.6h0M904.1 1048.3h0M774.3 932.0h0M696.4 961.9h0M965.6 1094.3h0M815.0 940.5h0M566.2 828.8h0M807.7 1074.9h0M726.6 810.3h0M918.2 971.8h0M746.6 895.3h0M906.5 1014.7h0M821.0 830.4h0M797.2 1071.0h0M756.2 863.7h0M672.8 927.4h0M590.3 805.0h0M861.8 975.7h0M833.7 966.6h0M856.7 1040.9h0M663.2 1127.6h0M787.4 1028.4h0M933.5 1009.6h0M648.1 769.8h0M652.5 802.3h0M594.1 781.4h0M837.6 1017.7h0M702.1 956.7h0M586.0 780.5h0M588.7 860.9h0M609.3 738.0h0M528.5 684.3h0M640.4 1118.6h0M647.6 973.3h0M804.5 948.3h0M926.7 1075.7h0M793.2 955.8h0M565.2 809.8h0M510.7 806.7h0M673.7 641.4h0M595.8 894.8h0M604.6 570.7h0M663.1 817.3h0M543.2 635.2h0M860.5 1005.4h0M645.0 929.5h0M766.5 947.9h0M887.2 1129.4h0M517.0 762.7h0M849.5 913.1h0M593.7 728.7h0M675.7 800.3h0M909.2 953.9h0M934.2 988.6h0M726.5 781.2h0M702.3 853.3h0M544.8 920.0h0M871.1 1249.5h0M928.1 863.0h0M743.7 1064.4h0M571.8 822.2h0M784.6 1017.3h0M715.7 869.2h0M825.3 945.9h0M950.2 1006.3h0M875.8 929.9h0M613.5 792.9h0M857.0 853.5h0M708.4 896.8h0M890.0 1009.1h0M737.3 956.1h0M724.1 972.4h0M898.3 958.7h0M766.0 1014.4h0M814.8 970.3h0M904.6 1026.4h0M549.3 830.3h0M824.8 1165.2h0M618.9 831.9h0M723.7 808.0h0M688.8 868.2h0M726.5 916.1h0M825.6 953.6h0M626.1 833.3h0M555.3 712.0h0M711.8 901.9h0M840.7 1002.9h0M814.8 919.6h0M904.1 1011.9h0M642.0 877.3h0M629.7 898.7h0M889.4 918.5h0M826.0 1033.6h0M582.9 820.3h0M941.7 1102.5h0M623.2 946.2h0M788.0 927.3h0M544.4 795.1h0M546.7 817.0h0M566.3 681.0h0M617.2 866.8h0M942.6 1048.4h0M636.0 789.5h0M940.8 1061.0h0M648.9 738.2h0M898.5 975.9h0M758.0 923.8h0M865.2 1045.9h0M972.9 992.9h0M841.5 931.4h0M837.6 905.5h0M862.2 1086.7h0M875.4 1041.3h0M875.2 1061.9h0M676.1 737.9h0M584.0 741.4h0M635.2 913.2h0M690.6 799.5h0M912.3 1032.1h0M854.5 953.5h0M765.8 1111.5h0M921.9 1097.2h0M829.3 942.5h0M670.3 887.3h0M677.8 906.8h0M765.5 1057.7h0M847.4 946.8h0M434.7 752.1h0M714.9 1001.4h0M707.1 801.0h0M638.1 787.1h0M612.1 711.7h0M824.7 926.5h0M862.4 859.3h0M830.9 936.1h0M834.4 1084.3h0M803.6 980.9h0M703.3 793.1h0M672.6 941.7h0M627.4 777.6h0M645.2 760.0h0M788.2 997.0h0M492.9 738.8h0M928.7 1056.7h0M590.3 879.6h0M847.1 981.8h0M806.8 991.3h0M935.9 1053.5h0M931.2 1058.5h0M403.4 616.6h0M910.2 1014.4h0M755.5 672.1h0M666.1 926.2h0M564.3 909.4h0M737.3 805.5h0M670.0 789.9h0M687.6 1081.2h0M839.4 977.0h0M814.3 922.4h0M631.0 882.6h0M842.7 963.4h0M613.3 755.9h0M764.5 937.8h0M788.8 1062.5h0M731.1 966.8h0M826.5 987.8h0M514.0 782.2h0M531.2 661.8h0M909.3 968.5h0M537.0 776.9h0M769.7 931.5h0M696.4 844.3h0M785.8 1008.6h0M831.1 954.3h0M626.0 1088.0h0M789.6 918.6h0M695.9 931.6h0M782.9 945.4h0M841.3 910.5h0M711.8 703.5h0M762.9 853.8h0M537.6 837.1h0M670.7 821.1h0M763.9 730.6h0M852.7 998.8h0M837.1 973.6h0M719.1 977.0h0M826.4 869.1h0M811.9 1002.1h0M979.7 992.7h0M574.3 828.5h0M910.3 996.8h0M639.0 914.2h0M709.4 730.1h0M906.7 985.9h0M815.8 886.8h0M688.0 905.3h0M736.1 978.9h0M811.6 965.0h0M561.7 676.2h0M745.6 735.1h0M644.4 777.5h0M730.6 752.1h0M897.5 905.0h0M816.3 1014.7h0M531.4 845.1h0M733.6 926.4h0M701.0 859.4h0M599.6 814.9h0M685.2 823.4h0M789.8 1023.3h0M711.0 864.7h0M811.9 889.8h0M864.6 1058.0h0M629.1 889.6h0M556.9 764.8h0M506.0 819.8h0M693.1 796.6h0M560.9 738.4h0M785.0 891.8h0M809.5 951.5h0M767.7 924.7h0M829.0 929.7h0M756.8 731.7h0M657.3 833.9h0M670.0 906.3h0M989.4 1077.8h0M754.1 950.9h0M784.1 991.1h0M724.1 1024.5h0M882.2 1080.1h0M565.6 864.5h0M651.6 841.6h0M715.5 1026.2h0M668.3 811.7h0M780.8 996.8h0M501.9 721.0h0M551.4 671.4h0M909.6 976.8h0M786.4 829.8h0M861.4 955.5h0M721.9 877.4h0M743.2 817.8h0M577.0 1051.6h0M525.6 855.4h0M728.7 888.8h0M971.4 1049.0h0M648.6 935.8h0M624.4 844.8h0M706.7 810.3h0M760.3 899.7h0M853.4 983.3h0M890.1 1033.0h0M578.9 632.3h0M796.7 774.9h0M874.3 1016.9h0M590.4 795.6h0M669.1 1094.8h0M656.1 910.2h0M917.0 983.7h0M694.0 846.5h0M848.0 815.0h0M655.9 897.7h0M689.2 826.2h0M610.6 859.6h0M566.8 814.0h0M719.4 754.0h0M632.9 822.4h0M798.8 887.1h0M731.8 897.9h0M667.2 874.9h0M797.4 846.1h0M942.3 1074.9h0M751.5 835.6h0M758.5 882.6h0M812.7 944.6h0M406.2 722.9h0M624.4 837.5h0M736.4 891.7h0M580.3 779.0h0M626.7 794.1h0M765.0 1023.7h0M793.9 1062.4h0M711.7 913.0h0M718.2 858.1h0M739.5 1060.9h0M543.6 729.2h0M545.6 715.1h0M852.4 957.4h0M818.7 1047.3h0M680.4 1021.6h0M600.6 971.3h0M921.6 1037.6h0M751.1 793.3h0M607.0 834.9h0M700.2 952.4h0M604.9 914.0h0M689.5 991.4h0M807.5 975.2h0M903.1 988.9h0M675.0 803.6h0M839.4 897.3h0M713.1 1042.4h0M746.4 1024.8h0M823.4 1006.3h0M882.6 1046.4h0M775.0 982.0h0M738.5 879.4h0M811.5 1094.7h0M578.9 760.4h0M732.5 905.3h0M804.2 1046.5h0M863.2 1078.2h0M593.8 836.9h0M769.5 1061.4h0M803.3 906.7h0M737.2 1025.5h0M608.0 966.1h0M513.5 844.0h0M601.1 647.0h0M699.7 898.4h0M763.9 967.0h0M782.8 944.1h0M493.8 858.7h0M726.1 812.8h0M716.1 920.6h0M744.3 873.8h0M383.0 726.2h0M947.8 1034.2h0M419.7 690.3h0M957.1 1060.9h0M878.5 938.9h0M812.2 982.5h0M719.8 924.4h0M945.9 1019.0h0M845.3 921.6h0M623.5 746.6h0M682.7 936.5h0M848.3 978.1h0M628.6 966.2h0M378.2 643.0h0M808.8 920.1h0M879.0 1039.2h0M701.7 884.0h0M812.4 982.1h0M554.5 681.4h0M731.2 758.7h0M813.9 926.9h0M814.5 904.3h0M655.6 858.3h0M672.5 970.2h0M938.3 1057.9h0M617.2 832.4h0M656.3 933.8h0M878.6 987.4h0M653.5 833.8h0M808.2 1077.2h0M638.8 923.7h0M806.2 941.3h0M500.4 958.1h0M777.8 1039.1h0M758.7 983.8h0M681.8 962.4h0M810.6 1023.8h0M843.0 971.2h0M858.0 1028.8h0M719.8 932.0h0M686.8 972.7h0M588.3 910.8h0M721.4 971.1h0M619.1 1017.3h0M692.1 885.6h0M557.8 792.5h0M793.7 942.6h0M923.6 1028.3h0M801.5 1037.4h0M849.6 1137.1h0M702.0 790.2h0M613.1 743.2h0M931.9 1015.0h0M561.1 854.0h0M787.9 878.5h0M641.3 898.1h0M740.2 1028.4h0M702.0 687.4h0M858.6 997.7h0M638.8 765.3h0M867.2 973.7h0M658.3 850.2h0M676.5 774.3h0M912.3 1025.3h0M737.2 764.3h0M838.9 988.5h0M574.9 763.8h0M937.6 1014.5h0M858.9 1019.7h0M612.0 855.3h0M879.0 1043.7h0M788.5 832.5h0M940.6 986.5h0M701.2 895.2h0M892.9 997.8h0M847.3 968.5h0M1009.5 967.8h0M602.5 824.8h0M472.3 509.1h0M760.0 865.5h0M752.5 881.1h0M678.1 973.8h0M716.6 838.6h0M887.5 1028.9h0M778.4 1012.4h0M848.3 924.8h0M820.7 951.5h0M682.1 815.4h0M859.8 960.7h0M735.3 851.8h0M646.3 830.7h0M859.5 872.6h0M822.9 916.0h0M770.7 1046.4h0M653.6 893.1h0M776.2 858.2h0M563.2 989.6h0M735.1 953.6h0M862.9 939.0h0M750.6 866.7h0M906.3 1000.8h0M704.4 952.9h0M822.0 984.0h0M729.3 1033.3h0M752.5 1035.8h0M658.8 873.3h0M962.7 1046.2h0M898.0 1053.9h0M561.1 668.9h0M686.9 760.5h0M613.2 740.2h0M891.1 1006.3h0M836.5 872.5h0M817.5 1004.7h0M917.2 1211.5h0M956.4 1090.0h0M679.1 884.2h0M927.5 1052.2h0M928.3 956.9h0M696.8 1014.9h0M914.1 924.2h0M615.7 930.2h0M616.8 771.3h0M871.7 970.8h0M479.3 800.0h0M805.6 1094.4h0M805.0 902.7h0M866.5 1041.9h0M744.1 979.2h0M863.0 989.8h0M525.6 753.6h0M634.3 607.3h0M828.6 1075.5h0M820.1 1007.5h0M900.3 942.9h0M636.1 909.8h0M772.5 994.6h0M542.4 842.2h0M694.8 881.3h0M466.8 672.3h0M694.7 783.1h0M587.6 717.6h0M732.3 769.9h0M710.9 991.9h0M524.5 861.3h0M848.1 972.6h0M793.5 1074.1h0M857.0 978.9h0M583.9 765.6h0M734.2 988.3h0M730.4 798.0h0M729.1 806.1h0M724.0 780.3h0M832.6 1053.5h0M826.8 1110.4h0M862.5 852.2h0M834.1 703.5h0M903.2 919.0h0M924.4 1000.5h0M692.2 855.1h0M786.8 966.9h0M502.8 739.7h0M780.5 1015.1h0M804.5 803.9h0M577.0 1073.1h0M884.3 1089.8h0M774.8 809.8h0M846.6 793.7h0M515.6 826.2h0M889.4 922.6h0M504.4 659.1h0M925.7 947.8h0M864.5 1039.6h0M831.0 998.3h0M718.9 847.9h0M542.1 736.8h0M845.4 1049.6h0M680.1 738.0h0M668.9 836.2h0M635.0 852.0h0M874.0 1000.2h0M498.0 763.7h0M894.7 1026.2h0M802.5 1028.0h0M855.2 1047.2h0M751.1 697.5h0M873.3 997.3h0M543.8 867.5h0M689.0 839.8h0M809.7 1069.1h0M771.3 941.4h0M719.3 885.3h0M589.6 900.1h0M766.4 991.4h0M482.7 733.4h0M672.5 843.9h0M723.2 930.4h0M796.5 989.5h0M677.2 752.7h0M925.0 1067.2h0M695.4 804.6h0M445.7 666.5h0M737.7 962.1h0M763.7 962.9h0M932.0 972.6h0M856.5 817.6h0M848.0 962.6h0M578.8 911.2h0M518.4 865.8h0M740.6 815.0h0M957.3 960.4h0M979.3 1053.4h0M632.9 846.8h0M849.0 957.3h0M908.9 1062.3h0M912.2 952.1h0M621.1 743.0h0M769.7 1070.2h0M673.9 741.2h0M747.0 1007.9h0M683.1 880.4h0M595.5 807.7h0M668.2 611.8h0M750.2 873.5h0M940.2 1000.6h0M680.4 883.9h0M616.6 786.9h0M744.2 905.0h0M727.4 1028.4h0M430.1 794.1h0M816.4 822.0h0M705.9 830.7h0M654.1 657.8h0M562.6 680.2h0M964.9 1077.9h0M774.2 814.5h0M607.8 841.3h0M835.0 1025.5h0M702.4 758.5h0M739.9 985.0h0M809.6 967.7h0M563.4 870.4h0M552.5 637.8h0M589.4 792.2h0M812.2 954.7h0M629.6 719.8h0M548.5 869.0h0M702.4 869.0h0M506.6 762.3h0M808.3 957.9h0M481.5 838.7h0M438.4 903.9h0M950.2 1070.5h0M855.2 986.4h0M630.2 916.5h0M958.1 1015.1h0M720.8 813.7h0M946.4 994.7h0M702.5 863.4h0M910.1 1074.5h0M696.8 841.2h0M661.5 951.6h0M717.8 819.3h0M923.2 1054.3h0M963.8 1061.8h0M638.0 801.1h0M989.5 1096.7h0M943.5 1088.4h0M851.6 1016.1h0M836.5 964.0h0M669.8 897.8h0M683.8 930.9h0M822.8 959.6h0M789.5 1000.9h0M598.8 784.2h0M667.6 713.9h0M721.9 922.5h0M965.5 1054.5h0M684.0 1030.1h0M522.1 866.1h0M953.1 989.0h0M505.7 697.9h0M796.6 1039.4h0M834.9 983.0h0M708.9 769.2h0M688.9 634.9h0M632.8 709.4h0M810.4 1007.7h0M770.4 955.3h0M529.9 751.6h0M916.1 1098.3h0M940.7 1065.6h0M651.2 931.8h0M760.5 951.7h0M961.6 1078.7h0M752.5 899.7h0M922.4 962.4h0M552.6 778.7h0M859.0 1079.0h0M784.3 790.3h0M782.8 940.7h0M648.0 823.3h0M613.3 873.6h0M639.5 836.0h0M565.0 837.7h0M893.0 1156.9h0M885.7 837.1h0M797.7 869.2h0M660.4 864.6h0M718.5 998.6h0M811.7 881.9h0M790.4 1043.9h0M742.5 921.1h0M753.3 827.3h0M929.1 933.4h0M964.8 1001.0h0M820.3 934.1h0M964.9 950.7h0M803.7 1005.9h0M447.2 761.7h0M607.2 804.8h0M902.8 1018.6h0M865.8 996.4h0M708.5 815.0h0M849.9 1012.5h0M527.4 848.1h0M835.0 1057.5h0M427.2 752.3h0M703.2 937.3h0M874.3 1047.7h0M755.1 780.3h0M506.4 772.2h0M871.3 1078.3h0M764.4 915.1h0M741.0 834.4h0M696.4 795.8h0M969.1 1027.3h0M638.1 1022.3h0M872.5 963.7h0M884.8 1034.2h0M465.6 793.7h0M530.8 866.5h0M669.4 993.2h0M976.9 870.7h0M671.3 844.4h0M522.9 748.9h0M759.3 961.9h0M742.7 827.3h0M486.3 664.0h0M822.7 1018.4h0M630.0 911.8h0M716.9 989.7h0M972.9 1089.7h0M739.4 864.2h0M681.8 845.8h0M579.2 1005.6h0M454.7 735.5h0M723.9 865.3h0M542.7 709.6h0M621.7 890.7h0M834.3 1029.2h0M557.6 1028.4h0M699.7 947.0h0M902.2 1008.8h0M799.5 1058.2h0M700.1 890.8h0M695.0 990.1h0M453.8 788.3h0M895.7 1053.7h0M569.8 790.3h0M615.1 710.2h0M563.3 751.9h0M438.6 783.5h0M792.2 963.3h0M769.5 1031.5h0M705.3 879.4h0M736.4 776.3h0M944.0 1022.2h0M689.2 915.4h0M750.9 1101.7h0M775.5 942.5h0M700.2 943.3h0M880.2 985.7h0M636.8 874.6h0M797.1 1013.0h0M922.0 1065.1h0M795.3 1004.1h0M804.6 960.8h0M711.7 674.9h0M720.6 809.9h0M796.9 959.3h0M464.3 692.6h0M854.1 842.3h0M427.3 629.6h0M577.5 796.2h0M696.3 645.9h0M809.6 1091.0h0M699.8 846.5h0M491.7 839.3h0M800.5 665.9h0M445.9 803.5h0M788.1 970.0h0M869.4 998.5h0M956.8 1057.6h0M597.0 854.3h0M741.9 941.1h0M894.4 963.9h0M954.2 985.0h0M505.3 801.6h0M901.6 1000.7h0M792.9 960.2h0M902.7 974.5h0M759.0 767.0h0M781.9 881.0h0M627.3 745.4h0M950.8 1090.3h0M710.4 791.7h0M891.2 1038.1h0M579.4 853.8h0M675.7 760.6h0M624.4 808.8h0M513.7 643.9h0M821.2 1032.7h0M824.0 956.6h0M768.6 983.8h0M819.5 987.1h0M481.1 785.3h0M714.1 926.6h0M772.1 861.3h0M777.0 950.2h0M563.2 943.1h0M520.8 675.3h0M599.1 848.1h0M703.3 845.8h0M637.6 745.6h0M893.7 1056.9h0M775.3 960.6h0M869.4 1102.5h0M560.6 760.3h0M884.9 1014.5h0M626.1 1127.2h0M716.8 873.0h0M765.5 891.9h0M573.3 854.7h0M667.5 970.8h0M897.0 1006.2h0M828.7 893.9h0M433.4 833.8h0M821.7 982.2h0M869.4 1065.9h0M629.1 866.8h0M718.9 828.9h0M678.0 892.3h0M780.4 972.3h0M810.9 939.6h0M753.9 725.6h0M706.8 697.2h0M708.4 1060.9h0M642.4 934.7h0M557.5 945.7h0M774.8 1017.3h0M778.9 1077.5h0M822.2 1057.0h0M862.7 847.4h0M697.1 912.3h0M767.9 873.2h0M842.0 997.4h0M616.1 880.7h0M757.7 980.6h0M934.2 1087.8h0M424.2 689.4h0M878.9 970.8h0M582.8 780.7h0M716.5 1031.8h0M523.7 818.3h0M675.1 961.3h0M644.2 907.7h0M778.2 819.3h0M540.2 564.0h0M766.0 1013.3h0M713.2 888.4h0M788.1 1078.3h0M563.9 760.6h0M913.6 1109.7h0M865.3 1112.2h0M742.0 849.5h0M617.0 744.8h0M603.2 834.3h0M657.0 779.8h0M875.6 913.1h0M891.9 942.5h0M480.5 856.4h0M805.7 1034.9h0M845.5 929.2h0M858.1 982.3h0M419.0 682.5h0M863.4 1011.0h0M852.0 1031.0h0M645.7 841.4h0M943.2 1055.1h0M955.1 1020.1h0M748.0 878.3h0M602.8 772.7h0M883.1 951.2h0M817.1 925.7h0M919.9 1024.7h0M628.8 846.3h0M724.7 941.3h0M951.5 938.0h0M605.2 894.8h0M661.6 875.9h0M805.2 912.5h0M759.7 916.8h0M700.0 816.8h0M809.1 1052.2h0M611.3 774.6h0M751.5 918.6h0M901.6 1074.1h0M947.3 950.2h0M931.2 1052.7h0M485.3 789.2h0M893.4 894.0h0M847.4 939.9h0M611.0 820.2h0M722.1 851.7h0M627.7 928.0h0M579.0 772.4h0M857.2 978.0h0M753.1 910.3h0M767.5 994.5h0M875.6 987.6h0M671.5 748.7h0M648.2 757.6h0M682.6 1004.7h0M520.9 759.3h0M632.4 908.6h0M657.0 915.0h0M535.4 854.8h0M683.9 914.3h0M929.0 992.4h0M883.8 1006.0h0M773.6 897.3h0M817.8 964.4h0M706.2 870.9h0M757.2 901.1h0M769.1 1002.0h0M827.7 1090.5h0M567.1 853.6h0M498.0 818.8h0M862.7 808.8h0M773.9 973.5h0M650.2 791.1h0M673.3 1011.7h0M876.3 978.6h0M523.6 757.8h0M909.8 1100.0h0M486.1 722.8h0M806.1 833.1h0M790.7 1093.9h0M805.5 881.1h0M844.0 1029.2h0M878.8 1094.3h0M908.3 1031.9h0M787.6 905.1h0M960.4 971.7h0M591.3 747.9h0M670.6 857.8h0M794.7 1053.7h0M869.6 958.1h0M675.8 888.0h0M696.2 766.3h0M948.2 1030.5h0M555.0 813.3h0M754.1 1053.1h0M877.2 894.4h0M692.4 860.1h0M889.0 949.5h0M754.4 811.0h0M665.1 906.6h0M776.9 910.8h0M896.3 913.7h0M660.8 854.5h0M856.9 1092.9h0M700.3 1014.4h0M556.4 733.5h0M913.3 945.4h0M767.0 932.9h0M478.9 726.0h0M529.9 622.0h0M770.2 1099.9h0M867.0 924.3h0M650.7 853.4h0M822.6 1015.7h0M764.6 935.1h0M808.0 1044.9h0M875.9 1028.6h0M615.5 763.9h0M534.7 878.5h0M488.4 772.9h0M707.5 1009.2h0M673.9 1001.7h0M677.3 927.7h0M654.7 888.4h0M711.6 924.7h0M747.8 860.3h0M835.4 1094.7h0M859.9 941.1h0M893.9 991.0h0M668.2 966.8h0M957.5 1044.2h0M846.1 1097.8h0M630.5 863.6h0M705.4 883.7h0M828.6 1004.9h0M543.0 819.0h0M841.7 918.3h0M585.8 854.2h0M598.2 841.3h0M835.0 1044.9h0M889.8 987.2h0M836.5 912.6h0M817.6 991.5h0M679.7 791.0h0M603.7 936.7h0M715.3 1068.2h0M817.4 922.0h0M934.2 1073.7h0M850.1 1019.2h0M699.9 865.9h0M595.6 873.0h0M553.3 871.0h0M537.9 738.1h0M755.4 823.7h0M837.0 928.6h0M822.9 877.7h0M452.6 901.8h0M784.9 1002.6h0M519.0 836.7h0M748.3 968.8h0M641.6 762.4h0M664.6 1144.2h0M738.8 927.3h0M807.7 1001.1h0M658.8 868.3h0M855.7 929.1h0M999.8 1036.9h0M826.4 993.3h0M654.3 845.1h0M732.2 678.5h0M919.7 1047.5h0M789.3 959.5h0M794.0 1112.2h0M558.5 672.8h0M583.4 823.7h0M558.9 801.8h0M686.2 889.4h0M765.6 838.0h0M768.6 894.1h0M634.4 855.7h0M622.5 849.6h0M746.2 803.4h0M732.7 985.5h0M882.8 1076.5h0M839.2 981.3h0M776.8 909.2h0M741.9 782.7h0M818.9 843.2h0M733.2 847.3h0M503.0 759.8h0M710.9 918.6h0M856.7 859.5h0M743.6 897.2h0M865.8 1000.3h0M817.3 1084.3h0M781.5 1003.0h0M553.8 835.4h0M705.8 891.5h0M767.8 897.9h0M869.7 1035.9h0M641.4 824.1h0M801.7 900.8h0M899.2 1101.4h0M656.8 693.6h0M618.2 745.1h0M573.5 743.6h0M934.7 1099.4h0M775.9 991.0h0M670.0 1002.3h0M871.8 1055.4h0M833.0 887.9h0M869.1 860.3h0M804.4 965.4h0M562.4 797.5h0M751.2 789.3h0M508.7 692.8h0M593.2 802.1h0M861.2 1043.4h0M997.3 1004.5h0M843.0 1109.4h0M595.3 903.7h0M560.8 908.1h0M882.7 1025.0h0M709.5 848.7h0M937.3 1076.7h0M925.4 972.7h0M734.5 812.3h0M781.6 1091.6h0M882.6 1029.3h0M733.0 885.9h0M732.2 850.1h0M864.8 1097.1h0M665.5 921.5h0M765.2 999.2h0M489.3 739.4h0M887.0 1049.6h0M643.6 919.1h0M668.3 828.5h0M942.8 1042.0h0M928.8 1039.6h0M881.6 1041.3h0M817.5 936.2h0M716.3 942.1h0M759.3 998.5h0M859.6 1025.8h0M692.7 817.4h0M796.0 1000.1h0M599.4 725.5h0M718.4 878.0h0M793.4 768.2h0M757.8 763.0h0M786.5 889.8h0M909.0 933.0h0M639.1 951.9h0M937.9 975.4h0M677.6 927.2h0M895.9 1085.4h0M547.5 676.1h0M522.6 828.7h0M607.7 576.2h0M807.1 998.9h0M589.1 699.4h0M823.7 919.4h0M956.3 922.0h0M944.2 1084.5h0M707.7 966.3h0M974.0 1042.3h0M738.8 917.5h0M781.3 868.8h0M747.3 1000.6h0M649.0 838.2h0M695.2 980.5h0M662.7 904.4h0M460.8 769.5h0M621.2 780.5h0M681.9 801.7h0M730.2 922.6h0M549.8 843.0h0M782.6 918.6h0M954.0 1032.3h0M646.5 924.1h0M890.8 1060.6h0M863.9 951.3h0M697.9 798.8h0M752.0 934.0h0M686.4 999.6h0M900.5 993.0h0M765.6 955.9h0M872.2 1000.3h0M863.1 1085.6h0M647.8 830.8h0M840.6 1014.9h0M789.4 1019.9h0M693.1 877.6h0M595.7 823.1h0M856.6 917.8h0M819.4 960.8h0M748.8 955.5h0M574.0 892.0h0M977.2 1171.3h0M789.2 749.1h0M745.8 888.7h0M918.2 1016.0h0M967.1 996.6h0M859.4 1015.9h0M633.1 752.7h0M967.9 1034.9h0M933.7 824.7h0M818.6 1057.9h0M702.9 948.4h0M858.6 954.6h0M927.6 846.3h0M731.7 929.2h0M511.0 741.0h0M687.3 747.3h0M582.7 838.7h0M604.4 917.1h0M714.7 725.2h0M858.6 1049.4h0M819.9 896.3h0M746.8 977.1h0M617.1 903.7h0M955.2 1075.6h0M464.4 732.7h0M493.0 802.2h0M700.0 907.9h0M633.3 770.3h0M513.7 1014.8h0M443.8 897.3h0M438.0 1058.1h0M418.5 990.0h0M410.3 1072.5h0M447.0 891.8h0M435.4 960.2h0M518.9 1063.2h0M501.1 958.7h0M489.6 1032.4h0M459.8 1050.2h0M477.3 1073.6h0M415.0 1032.8h0M422.3 1029.2h0M406.0 1053.7h0M506.1 1060.8h0M526.4 927.8h0M415.0 1051.2h0M454.8 1003.3h0M518.1 986.0h0M468.4 1053.4h0M516.3 1055.4h0M409.1 865.6h0M404.7 999.6h0M408.1 1062.7h0M464.7 965.3h0M459.1 945.0h0M397.9 854.4h0M414.2 1032.4h0M520.5 909.1h0M432.9 925.6h0M514.3 913.2h0M525.3 1073.8h0M483.0 885.9h0M486.0 922.9h0M469.4 857.6h0M484.7 1021.3h0M422.1 931.3h0M517.2 890.9h0M492.9 988.2h0M421.9 1011.0h0M418.3 950.7h0M434.3 908.0h0M442.4 904.3h0M437.9 1036.3h0M454.0 984.2h0M520.7 1033.1h0M482.8 961.9h0M461.3 933.8h0M447.2 993.7h0M401.1 980.7h0M432.8 922.2h0M949.5 1188.9h0M956.4 1168.0h0M942.2 1191.3h0M984.3 1127.8h0M964.7 1141.1h0M981.9 1183.4h0M915.8 1131.2h0M951.8 1193.7h0M187.7 796.1h0M228.8 808.3h0M260.5 866.2h0M299.4 869.2h0M321.2 882.2h0M354.5 881.9h0M228.5 916.4h0M274.3 930.9h0M307.0 985.3h0M356.0 986.3h0M347.7 976.4h0M342.1 960.6h0M336.7 950.0h0M365.2 914.9h0M396.2 935.2h0M402.3 956.8h0M403.3 908.6h0M345.9 828.1h0M373.8 848.1h0M401.5 551.0h0M310.6 523.8h0M320.7 518.2h0M363.4 567.7h0M366.7 568.8h0M287.5 715.6h0M331.1 654.6h0M333.7 673.7h0M314.1 686.3h0M312.1 743.5h0M415.5 589.8h0M488.6 484.4h0M451.5 516.2h0M432.0 527.6h0M748.0 513.0h0M688.0 516.0h0M715.0 577.0h0M729.0 576.0h0M780.0 572.0h0M871.0 597.0h0M808.0 657.0h0M739.0 641.0h0M632.0 584.0h0M788.0 1255.0h0M875.0 1259.0h0M950.0 1256.0h0M455.0 1114.0h0M520.0 1132.0h0M581.0 1090.0h0M630.0 1153.0h0M647.0 1118.0h0M692.0 1153.0h0M733.0 1168.0h0M817.0 1141.0h0M833.0 1143.0h0M846.0 1174.0h0M882.0 1137.0h0M895.0 1197.0h0M955.0 1191.0h0M966.0 1180.0h0M994.0 1203.0h0M1007.0 1203.0h0M970.0 1217.0h0M978.0 1213.0h0M910.0 1201.0h0M929.0 1117.0h0M958.0 1133.0h0M983.0 1133.0h0M997.0 1168.0h0M1020.0 1091.0h0M1012.0 1078.0h0M968.0 1148.0h0M968.0 1175.0h0M314.1 221.1h0M146.4 160.5h0M663.7 325.4h0M738.4 350.9h0M443.4 361.8h0M410.8 405.4h0M382.1 461.2h0M489.4 485.5h0M596.7 424.8h0M402.2 417.5h0" stroke="#00002a" stroke-width="2.9" stroke-linecap="round" fill="none"/>
<line x1="146.4" y1="579.9" x2="1018.2" y2="1057.1" stroke="#b80000" stroke-width="1.05" stroke-dasharray="1.1 1.4"/>
<rect x="97.5" y="159.5" width="432.10" height="1214.5" fill="#0000ff" fill-opacity="0.35"/>
<rect x="529.60" y="159.5" width="95.80" height="1214.5" fill="#800080" fill-opacity="0.35"/>
<rect x="625.40" y="159.5" width="432.10" height="1214.5" fill="#ff0000" fill-opacity="0.35"/>
</g>
<path d="M98.0 160.5H1056.5V1373.0" stroke="#000" stroke-opacity="0.55" stroke-width="1.1" fill="none"/>
<line x1="99.1" y1="341.9" x2="1053.5" y2="341.9" stroke="#000018" stroke-width="2.5" stroke-dasharray="14.5 5.5"/>
<text x="906.3" y="201.4" font-size="37.5" text-anchor="start" fill="#000" textLength="141" lengthAdjust="spacingAndGlyphs" >8/17/21</text>
<text x="282.2" y="263.8" font-size="35.4" text-anchor="start" fill="#000" textLength="603" lengthAdjust="spacingAndGlyphs" >Using 2020 U.S. Census Actual data</text>
<text x="115.3" y="1238.2" font-size="18.5" text-anchor="start" fill="#7a0868" textLength="191" lengthAdjust="spacingAndGlyphs" >y = -0.4325x + 0.6757</text>
<text x="161" y="1265.7" font-size="18.5" text-anchor="start" fill="#7a0868" textLength="101.6" lengthAdjust="spacingAndGlyphs" >R² = 0.4459</text>
<text x="80.6" y="1379.8" font-size="19.3" text-anchor="end" fill="#595959" >0%</text>
<text x="98.3" y="1397.8" font-size="16" text-anchor="middle" fill="#595959" >0%</text>
<text x="80.6" y="1319.2" font-size="19.3" text-anchor="end" fill="#595959" >5%</text>
<text x="146.2" y="1397.8" font-size="16" text-anchor="middle" fill="#595959" >5%</text>
<text x="80.6" y="1258.5" font-size="19.3" text-anchor="end" fill="#595959" >10%</text>
<text x="194.1" y="1397.8" font-size="16" text-anchor="middle" fill="#595959" >10%</text>
<text x="80.6" y="1197.9" font-size="19.3" text-anchor="end" fill="#595959" >15%</text>
<text x="242.0" y="1397.8" font-size="16" text-anchor="middle" fill="#595959" >15%</text>
<text x="80.6" y="1137.3" font-size="19.3" text-anchor="end" fill="#595959" >20%</text>
<text x="289.9" y="1397.8" font-size="16" text-anchor="middle" fill="#595959" >20%</text>
<text x="80.6" y="1076.7" font-size="19.3" text-anchor="end" fill="#595959" >25%</text>
<text x="337.8" y="1397.8" font-size="16" text-anchor="middle" fill="#595959" >25%</text>
<text x="80.6" y="1016.0" font-size="19.3" text-anchor="end" fill="#595959" >30%</text>
<text x="385.7" y="1397.8" font-size="16" text-anchor="middle" fill="#595959" >30%</text>
<text x="80.6" y="955.4" font-size="19.3" text-anchor="end" fill="#595959" >35%</text>
<text x="433.6" y="1397.8" font-size="16" text-anchor="middle" fill="#595959" >35%</text>
<text x="80.6" y="894.8" font-size="19.3" text-anchor="end" fill="#595959" >40%</text>
<text x="481.5" y="1397.8" font-size="16" text-anchor="middle" fill="#595959" >40%</text>
<text x="80.6" y="834.2" font-size="19.3" text-anchor="end" fill="#595959" >45%</text>
<text x="529.4" y="1397.8" font-size="16" text-anchor="middle" fill="#595959" >45%</text>
<text x="80.6" y="773.5" font-size="19.3" text-anchor="end" fill="#595959" >50%</text>
<text x="577.3" y="1397.8" font-size="16" text-anchor="middle" fill="#595959" >50%</text>
<text x="80.6" y="712.9" font-size="19.3" text-anchor="end" fill="#595959" >55%</text>
<text x="625.2" y="1397.8" font-size="16" text-anchor="middle" fill="#595959" >55%</text>
<text x="80.6" y="652.3" font-size="19.3" text-anchor="end" fill="#595959" >60%</text>
<text x="673.1" y="1397.8" font-size="16" text-anchor="middle" fill="#595959" >60%</text>
<text x="80.6" y="591.7" font-size="19.3" text-anchor="end" fill="#595959" >65%</text>
<text x="721.0" y="1397.8" font-size="16" text-anchor="middle" fill="#595959" >65%</text>
<text x="80.6" y="531.0" font-size="19.3" text-anchor="end" fill="#595959" >70%</text>
<text x="768.9" y="1397.8" font-size="16" text-anchor="middle" fill="#595959" >70%</text>
<text x="80.6" y="470.4" font-size="19.3" text-anchor="end" fill="#595959" >75%</text>
<text x="816.8" y="1397.8" font-size="16" text-anchor="middle" fill="#595959" >75%</text>
<text x="80.6" y="409.8" font-size="19.3" text-anchor="end" fill="#595959" >80%</text>
<text x="864.7" y="1397.8" font-size="16" text-anchor="middle" fill="#595959" >80%</text>
<text x="80.6" y="349.2" font-size="19.3" text-anchor="end" fill="#595959" >85%</text>
<text x="912.6" y="1397.8" font-size="16" text-anchor="middle" fill="#595959" >85%</text>
<text x="80.6" y="288.6" font-size="19.3" text-anchor="end" fill="#595959" >90%</text>
<text x="960.5" y="1397.8" font-size="16" text-anchor="middle" fill="#595959" >90%</text>
<text x="80.6" y="227.9" font-size="19.3" text-anchor="end" fill="#595959" >95%</text>
<text x="1008.4" y="1397.8" font-size="16" text-anchor="middle" fill="#595959" >95%</text>
<text x="80.6" y="167.3" font-size="19.3" text-anchor="end" fill="#595959" >100%</text>
<text x="1056.3" y="1397.8" font-size="16" text-anchor="middle" fill="#595959" >100%</text>
<text x="577.7" y="1422.9" font-size="19" text-anchor="middle" fill="#595959" textLength="181.7" lengthAdjust="spacingAndGlyphs" >2020 Trump Vote %</text>
<text transform="translate(24.3,954.2) rotate(-90)" font-size="18" fill="#595959" stroke="#595959" stroke-width="0.4" textLength="376" lengthAdjust="spacingAndGlyphs">Percent of Total Population Fully Vaccinated</text>
<path d="M1243 311.8H1108.1L1063.6 341.2L1108.1 370.8H1243" fill="none" stroke="#1414c8" stroke-width="1.9" stroke-linejoin="miter"/>
<text x="1105" y="334.5" font-size="17" text-anchor="start" fill="#1414c8" textLength="122" lengthAdjust="spacingAndGlyphs" font-style="italic">herd immunity</text>
<text x="1105" y="356.4" font-size="17" text-anchor="start" fill="#1414c8" textLength="79" lengthAdjust="spacingAndGlyphs" font-style="italic">target (?)</text>
<text x="1061" y="599.6" font-size="12.8" text-anchor="start" fill="#000" textLength="174" lengthAdjust="spacingAndGlyphs" >• Puerto Rico (all) &amp; Guam</text>
<text x="1071" y="616.7" font-size="12.8" text-anchor="start" fill="#000" textLength="88.4" lengthAdjust="spacingAndGlyphs" >(64.2% each)</text>
<text x="1071" y="632.9" font-size="12.8" text-anchor="start" fill="#000" textLength="154" lengthAdjust="spacingAndGlyphs" >(PR: 3.90M; GU: 197K)</text>
<text x="1062.2" y="661.6" font-size="12.8" text-anchor="start" fill="#000" textLength="191" lengthAdjust="spacingAndGlyphs" >• N. Mariana Islands (59.1%)</text>
<text x="1071.7" y="678.9" font-size="12.8" text-anchor="start" fill="#000" textLength="70.9" lengthAdjust="spacingAndGlyphs" >(Pop. 59K)</text>
<text x="1061" y="780.7" font-size="12.8" text-anchor="start" fill="#000" textLength="180" lengthAdjust="spacingAndGlyphs" >• American Samoa (49.3%)</text>
<text x="1071" y="797.8" font-size="12.8" text-anchor="start" fill="#000" textLength="70" lengthAdjust="spacingAndGlyphs" >(Pop. 50K)</text>
<text x="1061" y="849.6" font-size="12.8" text-anchor="start" fill="#000" textLength="187" lengthAdjust="spacingAndGlyphs" >• U.S. Virgin Islands (43.6%)</text>
<text x="1071" y="866.7" font-size="12.8" text-anchor="start" fill="#000" textLength="70" lengthAdjust="spacingAndGlyphs" >(Pop. 81K)</text>
<rect x="1105.3" y="1026.4" width="129.7" height="347" fill="#fff" stroke="#111" stroke-width="1.2"/>
<text x="1168" y="1045" font-size="12.8" text-anchor="middle" fill="#000" textLength="106.4" lengthAdjust="spacingAndGlyphs" >Relative County</text>
<text x="1168" y="1061" font-size="12.8" text-anchor="middle" fill="#000" textLength="104.7" lengthAdjust="spacingAndGlyphs" >Population Size</text>
<circle cx="1167.8" cy="1098.6" r="27.8" fill="#b7d3ec" stroke="#7f9bb8" stroke-width="1"/>
<circle cx="1167.8" cy="1098.6" r="1.3" fill="#000"/>
<circle cx="1167.8" cy="1152.8" r="20" fill="#b7d3ec" stroke="#7f9bb8" stroke-width="1"/>
<circle cx="1167.8" cy="1152.8" r="1.3" fill="#000"/>
<circle cx="1167.8" cy="1210.3" r="13.9" fill="#b7d3ec" stroke="#7f9bb8" stroke-width="1"/>
<circle cx="1167.8" cy="1210.3" r="1.3" fill="#000"/>
<circle cx="1167.8" cy="1259.2" r="10.3" fill="#b7d3ec" stroke="#7f9bb8" stroke-width="1"/>
<circle cx="1167.8" cy="1259.2" r="1.3" fill="#000"/>
<circle cx="1167.8" cy="1300" r="6.4" fill="#b7d3ec" stroke="#7f9bb8" stroke-width="1"/>
<circle cx="1167.8" cy="1300" r="1.3" fill="#000"/>
<circle cx="1167.8" cy="1339.2" r="3.3" fill="#b7d3ec" stroke="#7f9bb8" stroke-width="1"/>
<circle cx="1167.8" cy="1339.2" r="1.3" fill="#000"/>
<text x="1168.5" y="1120" font-size="13.5" text-anchor="middle" fill="#000" textLength="24.7" lengthAdjust="spacingAndGlyphs" >2 M</text>
<text x="1168.5" y="1188.3" font-size="13.5" text-anchor="middle" fill="#000" textLength="24.2" lengthAdjust="spacingAndGlyphs" >1 M</text>
<text x="1168.5" y="1238.9" font-size="13.5" text-anchor="middle" fill="#000" textLength="36.7" lengthAdjust="spacingAndGlyphs" >500K</text>
<text x="1168.5" y="1284.7" font-size="13.5" text-anchor="middle" fill="#000" textLength="36.1" lengthAdjust="spacingAndGlyphs" >250K</text>
<text x="1168.5" y="1323.6" font-size="13.5" text-anchor="middle" fill="#000" textLength="35.6" lengthAdjust="spacingAndGlyphs" >100K</text>
<text x="1168.5" y="1359.2" font-size="13.5" text-anchor="middle" fill="#000" textLength="27" lengthAdjust="spacingAndGlyphs" >25K</text>
<circle cx="1081" cy="1442.5" r="4" fill="none" stroke="#cfcfcf" stroke-width="1.2"/>
</svg></body></html>
